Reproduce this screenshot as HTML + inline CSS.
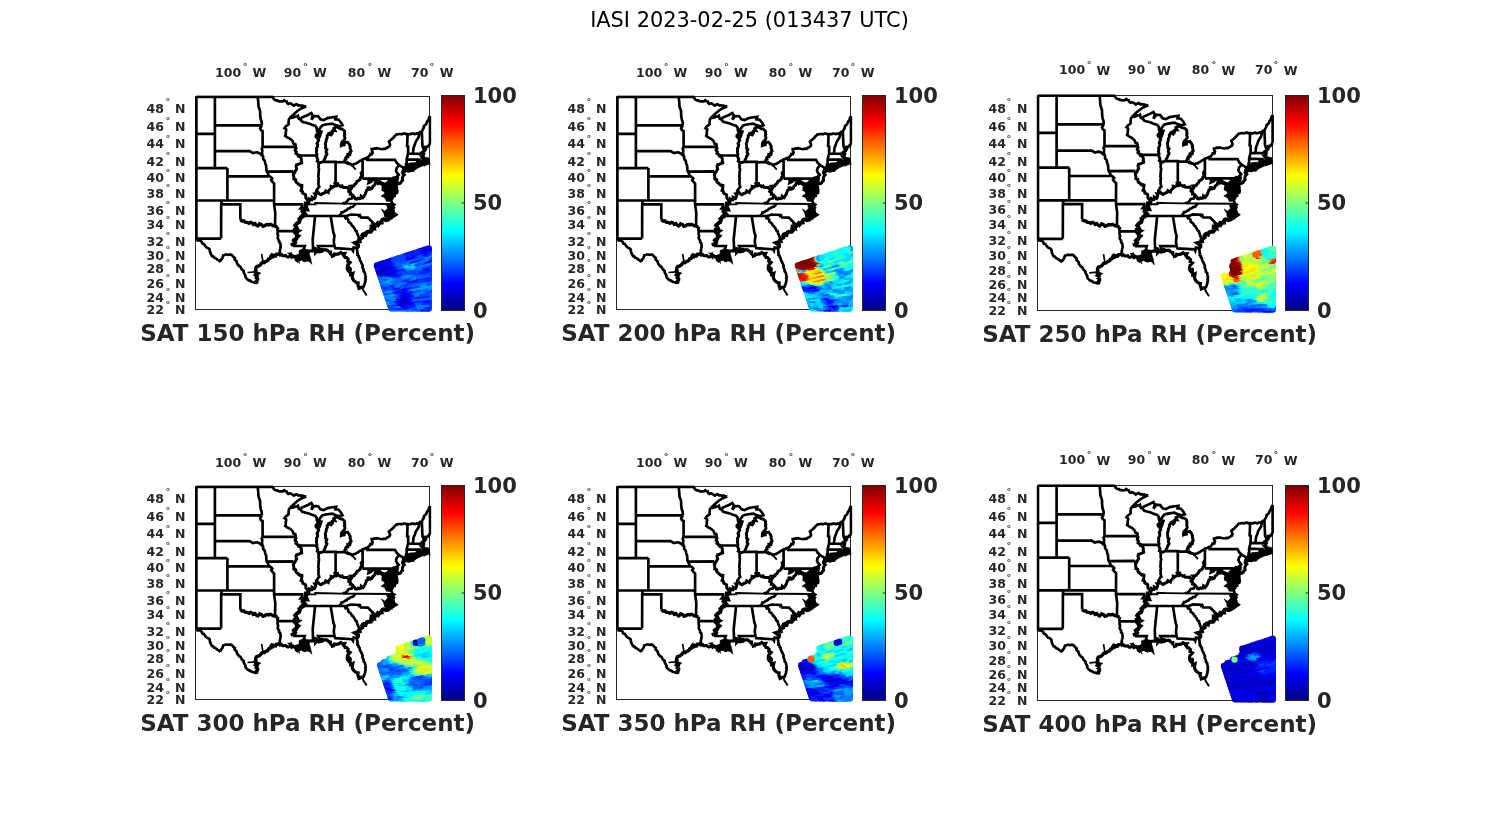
<!DOCTYPE html>
<html lang="en"><head><meta charset="utf-8"><title>IASI 2023-02-25 (013437 UTC)</title>
<style>html,body{margin:0;padding:0;background:#fff}body{width:1500px;height:825px;overflow:hidden}svg{display:block}text{white-space:pre}</style></head><body>
<svg width="1500" height="825" viewBox="0 0 1500 825">
<defs>
<linearGradient id="jet" x1="0" y1="0" x2="0" y2="1"><stop offset="0.0000" stop-color="#800000"/><stop offset="0.0312" stop-color="#9f0000"/><stop offset="0.0625" stop-color="#bf0000"/><stop offset="0.0938" stop-color="#df0000"/><stop offset="0.1250" stop-color="#ff0000"/><stop offset="0.1562" stop-color="#ff2000"/><stop offset="0.1875" stop-color="#ff4000"/><stop offset="0.2188" stop-color="#ff6000"/><stop offset="0.2500" stop-color="#ff8000"/><stop offset="0.2812" stop-color="#ff9f00"/><stop offset="0.3125" stop-color="#ffbf00"/><stop offset="0.3438" stop-color="#ffdf00"/><stop offset="0.3750" stop-color="#ffff00"/><stop offset="0.4062" stop-color="#dfff20"/><stop offset="0.4375" stop-color="#bfff40"/><stop offset="0.4688" stop-color="#9fff60"/><stop offset="0.5000" stop-color="#80ff80"/><stop offset="0.5312" stop-color="#60ff9f"/><stop offset="0.5625" stop-color="#40ffbf"/><stop offset="0.5938" stop-color="#20ffdf"/><stop offset="0.6250" stop-color="#00ffff"/><stop offset="0.6562" stop-color="#00dfff"/><stop offset="0.6875" stop-color="#00bfff"/><stop offset="0.7188" stop-color="#009fff"/><stop offset="0.7500" stop-color="#0080ff"/><stop offset="0.7812" stop-color="#0060ff"/><stop offset="0.8125" stop-color="#0040ff"/><stop offset="0.8438" stop-color="#0020ff"/><stop offset="0.8750" stop-color="#0000ff"/><stop offset="0.9062" stop-color="#0000df"/><stop offset="0.9375" stop-color="#0000bf"/><stop offset="0.9688" stop-color="#00009f"/><stop offset="1.0000" stop-color="#000080"/></linearGradient>
<clipPath id="clipusmapA"><rect x="194.3" y="95.3" width="237.2" height="216.2"/></clipPath>
<g id="usmapA" clip-path="url(#clipusmapA)"><path d="M379.3 180.5 L384.7 183.0 L388.1 181.3 L393.1 177.5 L397.7 175.5 L398.9 177.5 L397.7 184.2 L396.4 190.9 L393.5 197.5 L391.8 200.5 L386.4 201.3 L384.7 197.5 L381.0 196.3 L384.7 193.4 L383.1 189.2 L381.4 185.0Z M386.5 205.0 L391.5 204.3 L393.8 209.3 L395.4 214.7 L392.3 211.6 L390.7 215.5 L387.6 217.8 L384.9 217.4 L383.8 213.2 L381.4 208.9 L384.9 211.2 L387.6 208.1Z M401.2 172.7 L404.5 166.4 L409.1 163.0 L416.9 162.4 L427.4 161.4 L427.8 164.7 L422.2 166.1 L415.6 169.0 L413.0 171.6 L409.1 170.0 L403.8 173.2Z M422.9 157.1 L428.6 157.8 L428.6 164.2 L424.5 165.2 L420.4 162.7Z M299.1 250.5 L302.7 249.0 L308.5 249.7 L309.3 254.1 L310.7 258.5 L311.8 264.3 L307.8 259.9 L304.9 262.1 L302.7 259.2 L299.1 260.6 L299.5 263.5 L297.6 259.2 L294.0 258.5 L290.4 255.5 L287.5 253.0 L290.4 253.0 L294.7 255.5 L299.1 254.1Z" fill="#000" stroke="#000" stroke-width="0.6" stroke-linejoin="round"/><g fill="none" stroke="#000" stroke-linejoin="miter" stroke-miterlimit="3" stroke-linecap="butt"><path d="M255.7 271.8 L247.5 272.5 M263.0 262.0 L261.6 253.8" stroke-width="1.70"/><path d="M346.7 161.4 L351.4 164.7 L355.8 169.6" stroke-width="1.80"/><path d="M355.3 203.7 L391.8 204.0 M355.3 203.7 L342.7 203.6 L325.0 203.3 L315.2 203.0 L315.3 204.4 L306.2 204.4" stroke-width="1.90"/><path d="M362.2 286.5 L363.3 290.4 L366.7 295.5" stroke-width="2.00"/><path d="M387.8 213.3 L384.7 211.8 M387.2 216.0 L384.3 215.3 M378.7 224.4 L378.7 221.8 M370.9 229.7 L369.9 227.8 M366.5 233.1 L365.5 231.3 M362.4 236.4 L360.5 234.6 M357.7 243.8 L356.1 242.9 M358.9 240.5 L357.7 239.0 M313.1 250.3 L314.0 249.3 L315.1 248.6 L316.7 249.4 L318.2 249.6 L319.5 250.0 L320.6 249.2 L321.8 248.7 L323.4 249.5 L325.0 249.9 L326.4 249.5 L327.6 250.0 L328.5 251.4 L330.1 251.9" stroke-width="2.20"/><path d="M196.4 96.9 L270.8 96.9 L273.3 96.9 M196.4 96.9 L196.4 240.3 M214.9 96.9 L214.9 168.1 M196.4 133.8 L214.9 133.8 M214.9 125.3 L261.9 125.3 M214.9 151.2 L249.7 151.2 L251.0 151.9 L252.9 153.1 L255.4 152.5 L257.3 152.4 L259.1 153.2 L260.7 154.2 L261.7 155.3 L262.6 155.6 M196.4 168.1 L227.4 168.1 M227.4 168.1 L227.4 200.5 M227.4 176.4 L269.8 176.4 M196.4 200.5 L274.1 200.5 M221.5 200.5 L221.5 204.4 L221.2 204.4 L221.1 238.6 M221.1 238.6 L198.8 238.6 L198.8 239.4 L199.3 240.3 L196.4 240.3 M221.5 204.4 L240.3 204.4 L240.3 219.4 M274.1 200.5 L274.1 204.4 L275.3 213.0 L275.0 226.4 M277.7 227.1 L278.0 228.2 L277.4 229.4 L277.5 230.5 L277.8 231.7 L277.6 232.9 L277.5 234.0 L278.1 235.2 L278.0 236.3 L277.7 237.5 L277.9 238.6 L278.5 239.7 L279.2 240.7 L279.1 242.2 L280.3 243.2 L280.4 244.6 L280.7 246.0 L280.5 247.6 L280.2 249.0 L279.8 250.4 L279.9 251.9 L279.4 253.2 L278.4 254.3 L278.9 255.5 M277.7 231.0 L295.7 231.2 M274.1 200.5 L274.1 183.6 L272.3 181.7 L271.1 180.1 L272.3 178.5 L271.4 177.4 L269.8 176.4 M274.1 204.4 L302.1 204.4 L302.4 206.0 L300.7 208.3 L305.0 208.3 M262.6 155.6 L263.2 156.8 L263.0 158.1 L263.4 159.3 L264.4 160.2 L264.9 161.4 L265.1 162.7 L265.4 163.9 L266.1 165.6 L266.2 166.9 L266.3 168.2 L266.4 170.3 L266.9 171.7 L267.6 172.8 L268.2 173.9 L268.5 175.5 L269.8 176.4 M266.9 171.6 L292.2 171.4 L293.7 173.1 L294.2 173.3 M262.6 146.9 L295.4 146.9 M261.9 125.3 L260.1 128.4 L261.0 130.2 L262.6 131.1 L262.6 146.9 L261.7 148.7 L262.3 150.4 L262.0 152.5 L262.3 154.7 L262.6 155.6 M257.7 96.9 L258.2 101.7 L258.5 106.4 L260.1 111.0 L260.2 115.7 L260.7 119.3 L261.7 122.1 L261.9 125.3 M273.3 96.9 L273.3 98.1 L274.0 99.3 L275.9 100.4 L277.1 100.3 L278.1 101.0 L279.3 101.4 L281.1 101.4 L282.8 101.4 L284.2 100.2 L285.4 101.2 L286.8 101.5 L287.2 102.9 L288.3 103.9 L289.2 103.5 L290.5 103.4 L291.6 104.2 L292.8 104.8 L293.8 105.6 L295.1 104.8 L296.7 104.2 L298.3 105.5 L299.8 105.3 L301.2 105.7 L302.5 105.7 L303.8 106.1 L305.0 106.3 L306.2 106.4 M306.2 106.4 L301.2 108.5 L297.4 111.0 L294.9 113.2 L292.4 115.5 L289.9 118.0 M289.9 118.0 L288.9 119.2 L288.8 120.2 L288.6 121.5 L288.5 122.8 L288.7 124.1 L287.6 125.2 L285.9 126.3 L285.2 127.2 L284.5 128.2 L286.0 129.1 L286.2 130.4 L285.8 131.5 L285.8 132.9 L285.8 134.4 L285.2 135.9 L287.1 137.3 L288.7 138.1 L290.1 138.8 L291.2 139.8 L292.4 140.8 L293.0 142.2 L293.6 143.7 L295.2 143.9 L295.6 145.4 L295.4 146.9 M292.8 246.0 L304.8 246.0 L304.0 248.4 L305.3 251.1 L306.1 252.0 M299.1 155.5 L316.9 155.5 M315.3 194.2 L315.7 193.0 L316.2 191.9 L316.2 190.6 L317.1 189.7 L317.7 188.7 L318.3 187.7 L319.3 186.9 L318.7 185.1 L318.4 183.7 L318.6 181.7 L318.3 180.5 L318.7 179.4 L318.7 178.2 L318.3 177.0 L318.3 175.9 L318.6 174.7 L318.5 173.5 L318.7 172.3 L318.6 171.2 L319.0 170.0 L318.9 168.8 L318.4 167.6 L318.6 166.5 L318.8 165.3 L318.4 164.1 L318.7 163.0 L318.6 161.8 M335.6 183.7 L335.6 162.3 M323.0 161.8 L335.6 161.8 L335.6 162.3 L344.2 162.0 M362.6 178.7 L362.6 159.9 M362.6 178.7 L392.3 178.7 M301.2 216.0 L346.3 216.0 M313.1 250.6 L312.7 239.4 L315.0 216.9 L314.4 216.0 M330.7 216.2 L333.3 232.2 L334.5 235.7 L334.1 238.6 L333.8 241.6 L334.1 243.8 L334.5 246.0 M334.5 246.0 L318.1 246.0 L319.4 248.6 L318.8 251.1 M334.5 246.0 L335.3 248.2 L352.0 249.2 L353.0 250.7 L353.3 248.9 L353.6 247.5 L356.7 248.1 M360.3 238.4 L359.1 237.6 L358.3 236.7 L358.0 235.3 L357.3 234.0 L356.9 232.6 L356.6 231.2 L355.4 230.5 L354.9 229.4 L354.4 228.3 L353.7 227.4 L353.0 226.3 L351.9 225.6 L351.4 224.4 L350.7 223.4 L349.7 222.6 L348.4 221.6 L348.2 219.6 L346.7 218.1 L344.8 218.6 L345.8 217.4 L346.3 216.0 M346.3 216.0 L350.8 214.5 L359.2 214.9 L359.2 215.7 L360.0 215.3 L360.9 217.4 L367.9 217.6 L374.9 224.7 M338.7 216.0 L340.0 215.2 L340.9 214.1 L341.6 212.3 L342.7 212.3 L343.9 211.6 L345.1 210.8 L346.5 210.3 L347.8 208.8 L349.5 208.4 L350.6 207.3 L352.9 206.9 L353.7 205.8 L354.8 204.6 L355.3 203.7 M342.7 203.6 L343.9 203.0 L345.3 203.3 L346.3 202.3 L347.3 201.0 L348.3 199.5 L349.9 198.8 L351.7 198.5 L352.2 197.0 L353.5 196.2 M289.9 118.0 L291.1 118.0 L292.2 117.7 L293.3 117.5 L294.4 117.0 L295.5 116.5 L296.8 116.5 L297.9 115.7 L298.4 117.5 L298.8 118.8 L300.4 119.6 M300.4 119.6 L302.3 121.7 L308.7 123.4 L311.9 124.8 L315.0 125.7 L316.6 127.5 L316.9 130.6 L318.1 132.9 M300.4 119.6 L301.8 117.5 L307.9 115.0 L311.4 113.0 L312.7 115.4 L311.4 119.7 L314.3 115.8 L318.1 116.2 L320.5 119.3 L323.6 120.1 L327.6 118.1 L332.3 117.3 L336.2 116.8 L335.4 119.3 L338.6 119.7 L341.3 122.9 L342.5 125.2 L339.4 126.2 L336.2 125.4 L332.3 123.6 L329.1 124.0 L324.4 124.8 L322.0 125.6 L320.5 127.6 L318.9 129.9 L318.5 133.1 L318.1 132.9 M344.2 162.0 L345.6 162.4 L346.9 163.4 L348.9 164.0 L350.5 163.8 L351.9 165.2 L353.6 164.2 L355.2 163.9 L356.1 163.3 L357.2 162.7 L358.2 162.2 L359.1 161.4 L360.2 160.8 L361.4 160.4 L362.3 159.4 L363.8 159.1 L365.2 158.5 L366.2 157.8 L367.5 157.8 L368.3 156.9 L369.1 156.0 L369.9 155.2 L370.4 153.9 L372.0 154.1 L372.7 152.2 L371.9 150.8 L371.7 149.1 L373.1 149.0 L374.4 148.4 L375.8 148.6 L377.1 148.2 L378.5 148.5 L379.6 148.7 L380.9 149.0 L382.4 149.2 L383.8 148.6 L385.3 148.8 L386.6 148.0 L387.9 147.3 L389.6 146.2 L390.1 145.0 L389.7 143.4 L388.9 141.6 L389.6 140.9 L390.5 140.2 L391.5 139.6 L392.2 138.7 L393.4 137.7 L394.4 136.5 L395.5 135.4 L396.3 134.5 L397.7 134.4 L398.9 134.0 L400.0 134.0 L401.2 134.1 L402.4 134.1 L403.6 133.5 L404.8 133.5 L406.0 134.1 L407.2 134.1 L408.4 134.0 L409.6 134.2 L410.8 134.1 L412.0 133.6 L413.2 133.6 L414.4 134.2 L415.6 133.9 L416.8 133.4 L418.0 133.7 L419.2 134.0 L419.3 132.6 L420.4 131.7 L421.9 131.5 L422.6 129.8 L423.3 128.5 L423.9 127.4 L423.9 126.2 L424.9 125.3 L425.9 124.5 L426.6 123.1 L427.0 121.7 L428.3 120.3 L428.8 118.5 L429.3 117.3 L430.0 116.1 M430.0 116.1 L430.0 143.9 M367.3 157.5 L367.3 159.8 L395.0 159.8 L396.9 163.1 L399.1 165.1 L396.6 168.1 L396.0 170.6 L396.9 172.7 L398.8 174.8 L396.6 176.8 L394.7 178.1 L393.8 179.7 M392.3 178.7 L393.4 177.7 L394.7 178.1 M392.3 178.7 L392.8 188.9 L396.9 189.0 M399.1 165.1 L404.1 168.1 M407.6 133.8 L407.3 142.6 L407.1 146.1 L408.2 146.5 L408.1 153.5 L406.6 159.3 L406.7 165.6 L405.2 167.3 L405.7 168.1 M419.2 133.8 L418.6 137.3 L415.7 141.7 L414.8 144.8 L413.5 147.8 L413.2 151.2 L412.6 153.6 M408.1 153.5 L420.4 153.8 L420.7 153.5 L422.3 152.4 L423.4 152.4 M406.6 159.3 L417.3 159.6 L419.9 159.6 L420.2 160.6 L421.1 162.5 L421.5 164.0 M417.3 159.6 L416.9 165.5 M421.8 131.1 L422.3 142.6 L422.5 146.3 L424.2 150.6 M397.8 185.1 L398.1 183.7 L396.7 183.0 L395.8 182.4 L394.4 182.4 L393.5 181.7 L394.0 179.6 L394.0 181.0 L395.5 181.8 L395.2 183.7 L395.4 185.3 L396.4 186.6 L396.9 187.6 L396.9 189.0 L397.2 190.3 L397.3 191.6 L397.0 192.8 L395.4 193.6 L394.7 194.6 L394.7 196.0 L393.0 196.3 L392.8 197.6 L391.4 198.2 L391.9 200.0 L391.8 197.9 L392.4 197.3 L391.3 195.7 L390.3 193.6 L393.6 193.8 L391.8 193.1 L391.3 191.0 L390.0 191.0 L389.8 189.5 L389.7 187.9 L388.4 187.1 L390.7 186.4 L388.7 184.8 L389.3 183.5 L388.8 182.1 L389.5 180.2 L388.8 181.3 L387.7 182.4 L387.8 184.1 L387.6 185.3 L387.5 186.6 L388.4 187.7 L387.7 189.1 L387.8 190.3 L388.7 191.8 L390.0 193.2 L389.4 193.9 L388.1 194.6 L390.1 196.3 L387.0 198.1 L389.9 199.5 L387.8 200.4 L391.2 200.1 L391.9 202.4 L391.8 204.0 M356.7 248.1 L356.9 249.6 L357.4 251.1 L357.2 252.4 L357.8 253.5 L357.4 254.9 L358.6 255.8 L358.6 257.0 L359.6 257.9 L359.7 259.1 L360.0 260.2 L360.6 261.3 L361.2 262.3 L361.6 263.5 L362.2 264.6 L362.7 265.8 L362.3 267.0 L362.7 268.0 L363.3 269.0 L363.6 270.1 L363.6 271.4 L364.7 272.5 L365.1 274.0 L365.4 275.5 L365.8 276.9 L365.2 278.2 L365.7 279.7 L365.1 281.1 L365.2 282.2 L364.8 283.4 L364.4 284.4 L364.0 285.5 L363.6 286.7 L362.7 287.4 M258.2 282.1 L257.1 282.5 L256.0 282.8 L254.8 282.7 L253.8 282.2 L252.6 282.0 L251.5 281.7 L250.4 280.7 L249.0 280.4 L247.8 279.7 L246.7 278.7 L246.1 277.9 L245.4 276.9 L245.5 275.6 L244.9 274.6 L244.3 273.5 L243.7 272.4 L243.7 271.1 L242.7 270.1 L241.7 269.3 L241.1 268.0 L240.5 266.8 L239.3 266.3 L238.6 265.4 L237.5 264.2 L236.9 262.8 L236.6 261.5 L235.7 260.5 L234.6 259.5 L234.8 257.9 L233.5 257.1 L232.6 255.9 L231.6 254.9 L230.2 254.4 L228.7 254.9 L227.3 254.5 L225.8 254.5 L224.7 255.0 L223.3 255.3 L222.8 256.7 L222.4 258.0 L221.3 259.3 L220.5 260.7 L219.5 261.2 L218.4 260.1 L217.3 259.7 L216.4 258.7 L215.4 258.1 L214.1 257.6 L213.3 256.4 L212.0 256.0 L211.2 254.7 L210.6 253.4 L210.1 252.1 L209.8 250.7 L209.7 249.3 L208.6 248.4 L207.4 247.9 L206.3 247.3 L205.4 246.2 L204.5 245.1 L203.8 243.9 L202.2 243.5 L201.8 242.0 L200.8 241.1 L199.5 240.5 L199.3 240.3 M403.4 171.2 L403.8 169.9 L405.1 169.4 L406.3 168.7 L407.9 169.5 L409.1 168.5 L410.6 167.6 L412.3 168.7 L413.6 167.9 L414.1 166.3 L413.4 168.0 L415.3 168.4 L416.8 166.8 L415.4 167.8 L413.7 167.5 L413.3 170.4 L411.9 170.6 L410.4 170.4 L409.4 171.4 L407.9 171.2 L406.4 170.5 L405.1 170.7 L403.8 172.0 L403.4 171.2 M270.0 257.0 L271.7 254.5 L274.0 255.0 L272.7 257.3 L270.0 257.0" stroke-width="2.67"/><path d="M318.1 132.9 L316.8 134.5 L316.0 135.3 L316.1 136.6 L315.2 137.6 L317.2 136.4 L318.0 134.8 L319.1 133.5 L320.6 133.2 L321.2 132.0 L321.5 130.3 L321.2 131.9 L320.6 132.8 L320.4 134.2 L320.0 135.3 L319.7 136.5 L319.0 137.7 L317.9 138.9 L318.7 140.2 L318.0 141.3 L317.7 142.4 L317.0 143.5 L317.7 144.8 L317.5 146.0 L317.3 147.2 L316.4 148.3 L316.5 149.6 L316.7 150.9 L316.3 152.0 L316.6 153.2 L317.0 154.3 L316.7 155.5 L316.7 157.0 L317.4 158.3 L317.8 159.6 L317.2 161.2 L318.7 162.1 L320.7 162.7 L321.7 162.1 L323.0 161.8 M323.0 161.8 L324.0 161.0 L324.1 159.7 L324.8 158.8 L325.3 157.6 L325.6 156.2 L326.6 155.1 L327.0 153.8 L326.1 152.5 L326.1 151.0 L326.9 149.4 L325.5 148.2 L325.7 146.6 L325.5 145.1 L325.3 143.9 L325.6 142.6 L326.2 141.2 L326.2 139.6 L326.9 138.3 L327.3 137.1 L327.1 135.7 L328.1 134.8 L328.6 133.5 L330.0 133.0 L331.0 132.0 L330.7 133.2 L330.5 134.5 L330.4 135.7 L331.4 134.6 L332.2 133.5 L332.6 132.3 L332.4 131.0 L333.6 130.4 L334.9 130.6 L333.7 128.4 L334.9 127.6 L336.3 127.1 L337.2 127.1 L338.3 127.8 L339.5 128.2 L340.6 128.9 L342.1 129.0 L343.1 129.8 L344.2 130.6 L344.7 131.9 L344.4 133.3 L344.9 134.4 L344.3 135.8 L344.7 136.7 L345.0 137.9 L344.7 139.1 L343.8 140.4 L342.7 141.2 L341.9 142.2 L341.4 143.5 L341.3 145.6 L342.7 145.1 L344.2 144.9 L344.5 142.7 L346.2 142.3 L347.5 142.1 L348.3 143.1 L349.2 144.2 L349.6 145.2 L350.3 146.4 L350.0 147.8 L350.4 148.9 L350.7 150.1 L351.1 151.2 L349.8 152.3 L350.3 153.5 L349.9 154.6 L347.8 154.4 L347.9 156.8 L346.6 156.7 L345.6 158.0 L346.0 159.3 L344.9 159.9 L344.6 161.1 L344.2 162.0" stroke-width="2.90"/><path d="M295.4 146.9 L296.0 148.1 L295.4 149.2 L295.1 150.4 L296.4 151.8 L295.9 153.4 L297.4 154.3 L298.2 155.8 L299.0 155.6 L299.5 156.8 L300.7 157.5 L301.4 159.1 L301.2 161.1 L301.6 161.6 L301.7 162.9 L299.2 163.9 L297.9 164.5 L296.5 164.8 L296.0 166.4 L296.4 167.8 L296.7 169.1 L295.7 170.4 L295.1 171.9 L294.2 173.3 L293.3 174.8 L293.8 176.4 L293.8 177.7 L293.8 179.0 L295.7 179.8 L295.8 181.6 L296.6 182.7 L297.9 183.5 L298.7 184.5 L299.8 185.3 L300.6 185.0 L301.9 185.4 L301.8 187.5 L301.6 189.1 L301.0 190.6 L302.4 191.4 L302.8 193.3 L304.2 194.0 L305.5 194.7 L305.8 196.5 L305.9 198.2 L307.5 199.9 L308.5 200.7 M308.5 200.7 L309.2 198.9 L310.4 199.8 L311.9 199.8 L312.3 199.0 L312.2 198.5 L312.2 197.3 L314.5 198.5 L315.2 197.1 L315.7 195.4 L314.9 194.1 L315.9 194.1 L317.0 193.2 L318.2 192.4 L319.6 194.1 L321.1 194.7 L322.4 193.6 L323.6 193.3 L325.2 192.4 L325.7 191.0 L328.3 192.4 L328.6 191.2 L329.3 190.1 L330.2 189.1 L331.3 188.1 L331.2 186.5 L333.2 187.0 L334.2 186.1 L335.8 185.9 L335.0 183.7 L337.6 183.5 L338.1 185.3 L339.9 185.8 L340.6 186.7 L342.2 186.0 L343.0 187.4 L345.1 187.6 L347.4 187.4 L347.6 188.1 L349.5 189.2 M349.5 189.2 L350.3 190.0 L351.8 187.6 L350.7 186.2 L354.0 185.8 L354.7 184.4 L355.8 183.7 L356.5 182.6 L356.9 181.3 L358.1 180.8 L359.3 180.0 L360.4 178.8 L360.6 177.3 L361.8 176.0 L361.5 174.5 L361.1 173.0 L362.6 171.1 M353.5 196.2 L352.7 195.1 L351.7 194.5 L350.3 194.3 L350.5 192.7 L348.7 191.5 L349.5 189.2 M353.5 196.2 L354.6 197.4 L355.3 198.9 L356.8 199.2 L358.1 198.2 L359.5 198.6 L360.7 198.3 L361.2 196.1 L363.0 197.6 L363.9 196.5 L364.7 195.1 L365.3 194.1 L365.6 192.9 L366.1 191.8 L366.5 190.4 L368.0 189.6 L368.0 188.0 L369.5 187.9 L370.5 189.1 L371.8 188.6 L372.5 187.6 L372.8 186.3 L374.0 185.5 L374.9 184.6 L375.2 183.0 L376.8 182.0 L377.6 181.8 L378.1 183.5 L379.7 183.0 L380.1 182.0 M380.1 182.0 L378.6 181.2 L379.3 179.7 L377.0 179.3 L375.8 180.5 L373.8 179.2 L372.0 180.7 L371.1 181.6 L370.0 182.1 L368.8 182.6 L369.1 181.5 L368.6 180.1 L369.1 178.7 M430.0 143.9 L428.9 145.3 L427.6 146.7 L425.6 147.0 L425.8 149.1 L424.6 150.8 L422.7 152.0 L423.5 153.4 L424.5 154.8 L422.8 153.9 L423.4 156.4 L421.6 156.5 L423.7 159.2 L424.6 159.8 L426.1 161.3 L427.0 160.8 L428.6 162.1 L428.4 160.3 L426.7 159.4 L428.2 160.4 L428.5 161.6 L428.2 162.5 L427.3 162.6 L425.5 161.7 L424.4 163.6 L423.8 162.1 L422.8 163.4 L421.5 164.0 M421.5 164.0 L419.9 163.8 L421.3 161.0 L419.1 162.6 L420.3 164.1 L419.1 165.0 L416.8 164.7 L415.5 166.2 L414.0 166.9 L412.7 165.3 L411.5 166.0 L410.4 166.4 L409.6 167.6 L408.2 167.9 L406.2 165.9 L406.0 169.1 L404.2 169.5 L403.8 168.1 L403.7 169.4 L404.2 170.9 L403.1 171.0 L402.6 173.0 L403.3 173.9 L404.3 174.8 L403.1 176.0 L402.6 177.1 L402.3 178.4 L402.6 180.3 L401.2 181.5 L400.8 182.8 L399.8 183.5 L397.8 183.5 L397.8 185.1 M331.9 254.4 L330.6 253.9 L330.6 252.0 L329.0 252.0 L328.1 251.2 L327.1 250.4 L325.1 249.9 L323.5 250.2 L322.2 251.3 L320.7 251.5 L318.9 251.9 L317.1 251.1 L315.7 252.5 L315.9 250.3 L315.8 248.6 L315.3 248.4 L314.4 250.7 L313.1 250.9 L311.5 250.8 L309.9 251.0 L308.9 251.3 L307.5 251.4 L306.1 252.0 M306.1 252.0 L305.5 251.9 L304.2 252.6 L306.5 253.2 L308.1 252.3 L307.0 254.8 L305.7 256.3 L306.4 257.2 L307.8 257.6 L308.4 258.8 L309.0 259.9 L308.1 260.2 L305.8 259.3 L305.8 259.9 L304.1 260.3 L303.0 259.3 L301.7 258.9 L300.5 259.5 L298.9 259.2 L297.5 260.9 L296.2 259.8 L296.3 257.7 L295.6 256.7 L293.3 256.3 L291.8 257.2 L290.9 254.8 L290.3 255.7 L289.2 256.5 L288.0 257.1 L286.7 256.6 L285.7 255.4 L284.1 255.8 L282.7 255.7 L281.5 254.4 L280.2 255.0 L278.9 255.5" stroke-width="3.00"/><path d="M380.1 182.0 L381.0 183.7 L383.6 184.0 L384.5 186.1 L383.9 187.3 L383.1 188.2 L383.1 189.6 L384.6 190.2 L386.0 190.8 L387.3 191.6 L387.8 192.9 L389.1 193.4 M362.7 287.4 L361.4 287.2 L360.2 288.0 L359.0 288.4 L358.6 286.6 L357.9 285.4 L358.1 282.8 L356.3 282.5 L355.3 281.8 L354.2 280.9 L353.3 279.8 L352.6 278.6 L352.2 276.4 L352.4 275.3 L352.8 273.4 L350.5 274.4 L350.3 272.9 L349.4 272.0 L348.6 271.1 L350.2 270.4 L350.3 268.9 L349.5 268.1 L349.6 269.4 L348.7 270.2 L347.2 268.6 L347.4 266.1 L347.9 264.7 L349.1 263.7 L350.1 262.5 L347.8 261.2 L348.2 259.3 L347.3 258.4 L346.5 257.5 L345.0 257.4 L344.5 256.2 L343.6 255.4 L344.6 253.4 L342.3 253.5 L340.8 252.5 L339.7 253.3 L338.6 253.9 L337.3 254.1 L335.9 254.3 L334.3 254.0 L333.7 255.7 L332.3 256.2 L331.9 254.4" stroke-width="3.20"/><path d="M240.3 219.4 L242.0 221.0 L244.1 221.0 L245.1 222.2 L246.9 222.3 L249.0 223.3 L250.7 222.4 L252.2 223.0 L253.2 224.4 L255.0 223.5 L256.2 225.0 L257.7 226.0 L258.9 225.1 L259.6 223.8 L261.7 224.7 L263.0 226.3 L264.8 225.7 L266.1 224.8 L267.3 224.4 L268.6 224.9 L270.5 224.2 L271.7 224.8 L272.9 225.7 L275.0 226.2 L276.7 226.9 L277.7 227.1" stroke-width="3.30"/><path d="M278.9 255.5 L278.4 254.3 L276.5 254.3 L275.5 256.0 L274.2 255.9 L273.0 256.4 L271.7 256.3 L270.8 257.0 L270.1 258.4 L268.6 258.8 L268.1 260.1 L267.0 260.9 L265.6 261.4 L264.1 262.6 L262.8 262.4 L261.7 263.1 L260.7 264.5 L259.5 265.5 L258.5 266.2 L256.9 266.4 L256.1 267.4 L255.6 268.9 L256.0 270.2 L255.3 271.2 L255.5 272.6 L257.9 273.5 L255.7 275.1 L257.1 276.0 L256.3 277.6 L257.6 278.4 L257.6 279.6 L256.7 280.7 L258.0 282.0 L258.2 282.1" stroke-width="3.40"/><path d="M391.8 204.0 L393.5 204.9 L391.7 207.2 L393.1 208.0 L392.3 209.6 L392.7 210.7 L393.1 211.7 L392.8 213.2 L395.2 214.8 L392.9 216.2 L391.2 216.1 L391.0 217.3 L388.5 216.6 L389.2 218.9 L388.2 219.7 L385.9 220.2 L384.5 219.6 L383.5 219.3 L382.3 219.8 L381.5 221.0 L381.7 222.6 L379.9 222.8 L379.2 223.7 L378.5 224.7 L377.5 223.4 L376.2 225.3 L374.9 224.7 M374.9 224.7 L373.3 224.7 L374.0 228.1 L371.5 227.1 L371.5 228.6 L372.0 230.3 L370.8 231.7 L368.5 231.6 L367.2 232.0 L366.2 233.1 L365.7 234.6 L363.8 233.8 L362.8 234.4 L362.4 237.5 L360.4 238.5 L359.3 239.5 L359.8 241.4 L357.6 242.1 L355.0 242.9 L358.1 245.1 L358.1 246.5 L356.7 248.1" stroke-width="3.80"/><path d="M308.5 200.7 L308.4 202.2 L307.8 203.6 L305.9 203.6 L305.8 206.4 L307.0 209.3 L303.9 209.2 L303.0 210.3 L302.5 211.4 L304.9 213.9 L302.8 215.0 L302.7 216.5 L301.0 217.1 L300.6 218.2 L299.4 218.9 L299.7 220.4 L299.1 222.1 L297.5 223.0 L296.3 224.2 L295.2 225.5 L296.3 227.2 L297.0 228.6 L293.4 229.8 L298.0 231.1 L295.5 232.8 L296.7 234.1 L296.8 235.3 L298.2 236.0 L296.7 237.6 L296.2 238.9 L294.9 239.5 L293.9 240.4 L295.2 242.4 L294.7 243.6 L292.6 244.4 L293.0 246.0" stroke-width="4.00"/></g></g>
<clipPath id="clipusmapB"><rect x="193.8" y="94.3" width="238.2" height="218.2"/></clipPath>
<g id="usmapB" clip-path="url(#clipusmapB)"><path d="M379.6 180.3 L385.1 182.8 L388.4 181.1 L393.4 177.3 L398.0 175.2 L399.3 177.3 L398.0 184.0 L396.8 190.8 L393.8 197.5 L392.2 200.4 L386.7 201.3 L385.1 197.5 L381.3 196.2 L385.1 193.3 L383.4 189.1 L381.7 184.9Z M386.8 205.0 L391.9 204.3 L394.2 209.4 L395.8 214.8 L392.6 211.7 L391.1 215.6 L388.0 218.0 L385.2 217.6 L384.1 213.3 L381.7 209.0 L385.2 211.3 L388.0 208.2Z M401.6 172.4 L404.9 166.0 L409.5 162.6 L417.4 162.1 L427.9 161.0 L428.3 164.3 L422.6 165.8 L416.1 168.7 L413.4 171.3 L409.5 169.7 L404.2 172.9Z M423.3 156.7 L429.1 157.4 L429.1 163.8 L425.0 164.8 L420.8 162.4Z M299.0 250.9 L302.7 249.4 L308.5 250.2 L309.3 254.6 L310.7 259.0 L311.8 264.8 L307.8 260.4 L304.9 262.6 L302.7 259.7 L299.0 261.2 L299.4 264.1 L297.6 259.7 L293.9 259.0 L290.3 256.0 L287.3 253.5 L290.3 253.5 L294.7 256.0 L299.0 254.6Z" fill="#000" stroke="#000" stroke-width="0.6" stroke-linejoin="round"/><g fill="none" stroke="#000" stroke-linejoin="miter" stroke-miterlimit="3" stroke-linecap="butt"><path d="M255.0 272.2 L246.8 272.9 M262.4 262.4 L261.0 254.1" stroke-width="1.70"/><path d="M346.4 160.8 L351.1 164.1 L355.5 169.1" stroke-width="1.80"/><path d="M355.1 203.5 L391.7 203.8 M355.1 203.5 L342.5 203.4 L324.7 203.1 L314.8 202.8 L314.9 204.2 L305.8 204.2" stroke-width="1.90"/><path d="M362.0 287.0 L363.2 291.0 L366.5 296.2" stroke-width="2.00"/><path d="M387.7 213.2 L384.6 211.7 M387.1 216.0 L384.3 215.2 M378.6 224.4 L378.6 221.7 M370.7 229.7 L369.8 227.9 M366.3 233.2 L365.3 231.4 M362.2 236.5 L360.3 234.7 M357.5 244.0 L355.9 243.1 M358.7 240.6 L357.5 239.2 M312.7 250.5 L313.6 249.5 L314.7 248.8 L316.3 249.6 L317.8 249.8 L319.1 250.2 L320.3 249.5 L321.5 249.0 L323.1 249.7 L324.6 250.2 L326.0 249.7 L327.2 250.2 L328.1 251.7 L329.7 252.1" stroke-width="2.20"/><path d="M195.5 95.7 L270.2 95.7 L272.7 95.7 M195.5 95.7 L195.5 240.4 M214.1 95.7 L214.1 167.6 M195.5 132.9 L214.1 132.9 M214.1 124.4 L261.3 124.4 M214.1 150.6 L249.1 150.6 L250.3 151.2 L252.2 152.5 L254.7 151.9 L256.6 151.7 L258.5 152.5 L260.1 153.6 L261.0 154.7 L262.0 155.0 M195.5 167.6 L226.7 167.6 M226.7 167.6 L226.7 200.3 M226.7 176.0 L269.2 176.0 M195.5 200.3 L273.5 200.3 M220.7 200.3 L220.7 204.2 L220.4 204.2 L220.3 238.8 M220.3 238.8 L197.9 238.8 L197.9 239.5 L198.4 240.4 L195.5 240.4 M220.7 204.2 L239.6 204.2 L239.6 219.4 M273.5 200.3 L273.5 204.2 L274.7 212.9 L274.4 226.4 M277.2 227.1 L277.5 228.3 L276.8 229.4 L277.0 230.6 L277.2 231.8 L277.0 232.9 L277.0 234.1 L277.6 235.3 L277.5 236.4 L277.2 237.6 L277.3 238.8 L278.0 239.8 L278.7 240.8 L278.6 242.4 L279.7 243.4 L279.9 244.8 L280.2 246.2 L280.0 247.8 L279.6 249.3 L279.2 250.6 L279.4 252.1 L278.8 253.5 L277.8 254.6 L278.4 255.8 M277.2 231.1 L295.3 231.3 M273.5 200.3 L273.6 183.2 L271.7 181.3 L270.5 179.7 L271.7 178.0 L270.8 177.0 L269.2 176.0 M273.5 204.2 L301.7 204.2 L302.0 205.8 L300.2 208.2 L304.5 208.2 M262.0 155.0 L262.6 156.1 L262.4 157.5 L262.8 158.7 L263.8 159.6 L264.3 160.8 L264.5 162.1 L264.8 163.4 L265.5 165.1 L265.6 166.4 L265.7 167.6 L265.8 169.8 L266.3 171.2 L267.0 172.3 L267.7 173.5 L267.9 175.0 L269.2 176.0 M266.3 171.1 L291.7 170.9 L293.2 172.6 L293.7 172.8 M262.0 146.2 L294.9 146.2 M261.3 124.4 L259.5 127.5 L260.4 129.3 L262.0 130.2 L262.0 146.2 L261.0 147.9 L261.7 149.7 L261.3 151.9 L261.7 154.0 L262.0 155.0 M257.1 95.7 L257.6 100.5 L257.9 105.3 L259.5 110.0 L259.6 114.7 L260.1 118.4 L261.0 121.1 L261.3 124.4 M272.7 95.7 L272.8 97.0 L273.4 98.1 L275.4 99.2 L276.6 99.2 L277.5 99.9 L278.7 100.2 L280.6 100.3 L282.3 100.2 L283.7 99.0 L284.9 100.0 L286.3 100.4 L286.7 101.8 L287.8 102.7 L288.7 102.3 L290.0 102.3 L291.1 103.1 L292.3 103.6 L293.3 104.5 L294.6 103.7 L296.2 103.1 L297.9 104.4 L299.3 104.2 L300.7 104.6 L302.1 104.6 L303.4 105.0 L304.5 105.2 L305.8 105.3 M305.8 105.3 L300.7 107.4 L297.0 110.0 L294.4 112.1 L291.9 114.5 L289.4 117.0 M289.4 117.0 L288.4 118.2 L288.3 119.2 L288.1 120.5 L288.0 121.8 L288.2 123.1 L287.1 124.3 L285.4 125.4 L284.7 126.3 L284.0 127.3 L285.5 128.2 L285.7 129.5 L285.3 130.6 L285.3 132.0 L285.2 133.6 L284.6 135.1 L286.6 136.4 L288.2 137.3 L289.6 138.0 L290.7 139.0 L291.9 140.0 L292.5 141.4 L293.1 142.9 L294.7 143.2 L295.1 144.6 L294.9 146.2 M292.4 246.2 L304.3 246.2 L303.6 248.7 L304.8 251.4 L305.7 252.3 M298.6 154.9 L316.5 154.9 M314.9 193.9 L315.4 192.7 L315.8 191.6 L315.9 190.3 L316.8 189.4 L317.3 188.3 L317.9 187.3 L318.9 186.6 L318.3 184.7 L318.0 183.3 L318.2 181.3 L317.9 180.1 L318.4 179.0 L318.3 177.8 L317.9 176.6 L318.0 175.4 L318.2 174.2 L318.1 173.0 L318.3 171.9 L318.3 170.7 L318.7 169.5 L318.5 168.3 L318.1 167.1 L318.2 165.9 L318.4 164.7 L318.0 163.6 L318.3 162.4 L318.2 161.2 M335.3 183.4 L335.3 161.7 M322.7 161.2 L335.3 161.2 L335.3 161.7 L343.9 161.5 M362.4 178.3 L362.4 159.3 M362.4 178.3 L392.2 178.3 M300.7 216.0 L346.1 216.0 M312.7 250.9 L312.3 239.5 L314.6 216.8 L314.0 216.0 M330.4 216.1 L333.0 232.2 L334.1 235.8 L333.8 238.8 L333.5 241.8 L333.8 244.0 L334.1 246.2 M334.1 246.2 L317.8 246.2 L319.0 248.8 L318.4 251.4 M334.1 246.2 L335.0 248.4 L351.8 249.4 L352.7 250.9 L353.1 249.2 L353.4 247.7 L356.5 248.4 M360.1 238.6 L358.9 237.7 L358.1 236.8 L357.7 235.4 L357.1 234.1 L356.7 232.7 L356.4 231.2 L355.2 230.5 L354.7 229.5 L354.2 228.4 L353.5 227.4 L352.8 226.3 L351.7 225.6 L351.2 224.4 L350.5 223.4 L349.5 222.6 L348.1 221.6 L348.0 219.6 L346.4 218.1 L344.5 218.5 L345.6 217.3 L346.1 216.0 M346.1 216.0 L350.5 214.4 L359.0 214.8 L359.0 215.6 L359.8 215.2 L360.7 217.4 L367.7 217.5 L374.8 224.7 M338.4 216.0 L339.7 215.1 L340.6 214.0 L341.3 212.2 L342.4 212.2 L343.6 211.5 L344.8 210.7 L346.3 210.2 L347.5 208.7 L349.3 208.3 L350.4 207.1 L352.7 206.8 L353.4 205.6 L354.5 204.4 L355.1 203.5 M342.5 203.4 L343.6 202.8 L345.0 203.1 L346.1 202.1 L347.1 200.8 L348.0 199.2 L349.7 198.6 L351.5 198.3 L352.0 196.7 L353.2 196.0 M289.4 117.0 L290.6 117.0 L291.7 116.7 L292.8 116.5 L293.9 116.0 L295.0 115.4 L296.3 115.5 L297.5 114.7 L297.9 116.5 L298.3 117.8 L300.0 118.6 M300.0 118.6 L301.9 120.8 L308.3 122.5 L311.5 123.9 L314.6 124.8 L316.2 126.6 L316.5 129.8 L317.8 132.0 M300.0 118.6 L301.3 116.5 L307.4 113.9 L311.0 112.0 L312.3 114.3 L311.0 118.7 L313.9 114.7 L317.7 115.1 L320.1 118.3 L323.3 119.1 L327.2 117.1 L332.0 116.3 L335.9 115.8 L335.1 118.3 L338.3 118.7 L341.1 121.9 L342.3 124.3 L339.1 125.2 L335.9 124.4 L332.0 122.7 L328.8 123.1 L324.1 123.9 L321.7 124.7 L320.1 126.7 L318.5 129.1 L318.1 132.2 L317.8 132.0 M343.9 161.5 L345.4 161.9 L346.6 162.8 L348.6 163.4 L350.3 163.3 L351.7 164.6 L353.4 163.6 L354.9 163.4 L355.9 162.7 L357.0 162.1 L358.0 161.6 L358.9 160.8 L360.0 160.2 L361.2 159.9 L362.1 158.8 L363.6 158.4 L365.1 157.9 L366.0 157.2 L367.3 157.2 L368.2 156.2 L369.0 155.4 L369.8 154.5 L370.2 153.3 L371.9 153.4 L372.5 151.5 L371.7 150.1 L371.5 148.4 L373.0 148.3 L374.3 147.7 L375.6 147.9 L376.9 147.5 L378.3 147.8 L379.5 148.0 L380.8 148.3 L382.3 148.5 L383.7 147.9 L385.2 148.1 L386.5 147.3 L387.8 146.6 L389.5 145.5 L390.0 144.2 L389.6 142.7 L388.8 140.8 L389.5 140.2 L390.4 139.4 L391.5 138.8 L392.2 137.9 L393.4 136.9 L394.3 135.7 L395.4 134.6 L396.3 133.6 L397.6 133.5 L398.8 133.1 L400.0 133.2 L401.2 133.3 L402.4 133.2 L403.6 132.7 L404.8 132.7 L406.0 133.3 L407.2 133.2 L408.4 133.1 L409.6 133.4 L410.8 133.2 L412.0 132.7 L413.2 132.8 L414.4 133.3 L415.6 133.0 L416.8 132.5 L418.0 132.8 L419.2 133.2 L419.4 131.7 L420.5 130.8 L422.0 130.6 L422.6 128.9 L423.4 127.6 L424.0 126.5 L424.0 125.2 L425.0 124.4 L426.0 123.6 L426.7 122.2 L427.1 120.8 L428.4 119.3 L428.9 117.5 L429.4 116.3 L430.1 115.1 M430.1 115.1 L430.1 143.1 M367.2 156.8 L367.2 159.2 L395.0 159.2 L396.9 162.6 L399.1 164.6 L396.5 167.6 L395.9 170.1 L396.9 172.2 L398.7 174.3 L396.5 176.4 L394.7 177.6 L393.7 179.3 M392.2 178.3 L393.4 177.3 L394.7 177.6 M392.2 178.3 L392.8 188.6 L396.9 188.7 M399.1 164.6 L404.1 167.6 M407.6 132.9 L407.3 141.8 L407.1 145.3 L408.2 145.8 L408.1 152.8 L406.6 158.7 L406.7 165.1 L405.2 166.8 L405.7 167.6 M419.2 132.9 L418.6 136.5 L415.8 140.9 L414.8 144.0 L413.6 147.1 L413.2 150.6 L412.6 152.9 M408.1 152.8 L420.5 153.1 L420.8 152.8 L422.4 151.8 L423.5 151.7 M406.6 158.7 L417.3 159.0 L420.0 159.0 L420.3 160.0 L421.1 162.0 L421.6 163.4 M417.3 159.0 L417.0 164.9 M421.9 130.2 L422.4 141.8 L422.6 145.6 L424.3 149.9 M397.8 184.8 L398.0 183.3 L396.6 182.7 L395.8 182.1 L394.4 182.0 L393.4 181.3 L393.9 179.2 L393.9 180.6 L395.5 181.4 L395.1 183.3 L395.4 185.0 L396.3 186.3 L396.8 187.3 L396.9 188.6 L397.1 190.0 L397.2 191.3 L396.9 192.6 L395.3 193.3 L394.6 194.3 L394.7 195.7 L393.0 196.0 L392.7 197.4 L391.4 197.9 L391.8 199.8 L391.8 197.7 L392.3 197.0 L391.2 195.4 L390.2 193.3 L393.5 193.5 L391.8 192.8 L391.2 190.7 L389.9 190.7 L389.7 189.2 L389.7 187.5 L388.3 186.8 L390.7 186.1 L388.6 184.5 L389.2 183.1 L388.7 181.7 L389.4 179.8 L388.8 180.9 L387.6 182.0 L387.7 183.7 L387.5 184.9 L387.4 186.3 L388.3 187.4 L387.6 188.7 L387.7 190.0 L388.6 191.5 L389.9 192.9 L389.3 193.6 L388.0 194.4 L390.0 196.0 L386.9 197.9 L389.8 199.2 L387.8 200.2 L391.1 199.9 L391.9 202.2 L391.7 203.8 M356.5 248.4 L356.7 249.9 L357.2 251.3 L357.0 252.6 L357.6 253.8 L357.2 255.2 L358.4 256.1 L358.4 257.3 L359.4 258.2 L359.5 259.4 L359.8 260.6 L360.4 261.6 L361.1 262.7 L361.4 263.9 L362.0 264.9 L362.5 266.2 L362.1 267.4 L362.5 268.4 L363.1 269.4 L363.4 270.6 L363.4 271.8 L364.6 273.0 L364.9 274.5 L365.2 276.0 L365.6 277.4 L365.0 278.8 L365.5 280.2 L364.9 281.6 L365.0 282.8 L364.6 283.9 L364.3 285.0 L363.8 286.1 L363.5 287.2 L362.5 287.9 M257.6 282.6 L256.5 283.0 L255.4 283.4 L254.2 283.2 L253.1 282.8 L252.0 282.5 L250.8 282.3 L249.7 281.3 L248.3 280.9 L247.1 280.2 L246.0 279.2 L245.4 278.4 L244.7 277.4 L244.8 276.1 L244.2 275.0 L243.6 274.0 L243.0 272.9 L243.0 271.6 L242.0 270.6 L241.0 269.7 L240.4 268.4 L239.8 267.2 L238.6 266.7 L237.9 265.7 L236.8 264.6 L236.2 263.1 L235.9 261.8 L234.9 260.8 L233.9 259.9 L234.1 258.3 L232.8 257.4 L231.9 256.2 L230.9 255.2 L229.4 254.7 L227.9 255.2 L226.5 254.8 L225.1 254.8 L223.9 255.2 L222.5 255.6 L222.0 257.0 L221.6 258.3 L220.6 259.6 L219.7 261.0 L218.7 261.5 L217.6 260.5 L216.5 260.0 L215.6 259.0 L214.5 258.4 L213.3 257.9 L212.5 256.7 L211.1 256.3 L210.4 255.0 L209.8 253.7 L209.3 252.3 L209.0 250.9 L208.8 249.5 L207.8 248.6 L206.6 248.1 L205.4 247.5 L204.5 246.4 L203.7 245.3 L202.9 244.1 L201.3 243.7 L200.9 242.2 L199.9 241.3 L198.6 240.7 L198.4 240.4 M403.4 170.7 L403.8 169.4 L405.1 168.9 L406.3 168.2 L407.9 169.0 L409.1 168.0 L410.7 167.0 L412.3 168.2 L413.6 167.4 L414.1 165.7 L413.4 167.5 L415.4 167.9 L416.8 166.2 L415.4 167.2 L413.7 167.0 L413.4 169.9 L411.9 170.1 L410.4 169.9 L409.4 170.9 L407.9 170.7 L406.4 170.0 L405.0 170.2 L403.8 171.5 L403.4 170.7 M269.4 257.3 L271.1 254.7 L273.4 255.3 L272.1 257.6 L269.4 257.3" stroke-width="2.67"/><path d="M317.8 132.0 L316.4 133.7 L315.6 134.5 L315.7 135.8 L314.8 136.8 L316.8 135.6 L317.6 134.0 L318.7 132.7 L320.2 132.3 L320.9 131.1 L321.1 129.5 L320.9 131.0 L320.2 132.0 L320.1 133.3 L319.6 134.5 L319.3 135.7 L318.7 136.9 L317.5 138.1 L318.3 139.5 L317.6 140.5 L317.3 141.6 L316.7 142.7 L317.4 144.1 L317.1 145.3 L316.9 146.5 L316.1 147.6 L316.2 148.9 L316.3 150.2 L315.9 151.3 L316.2 152.5 L316.6 153.6 L316.3 154.9 L316.4 156.4 L317.0 157.7 L317.5 159.0 L316.8 160.6 L318.4 161.6 L320.4 162.1 L321.3 161.5 L322.7 161.2 M322.7 161.2 L323.6 160.4 L323.7 159.1 L324.5 158.1 L324.9 156.9 L325.3 155.6 L326.3 154.5 L326.6 153.2 L325.8 151.8 L325.8 150.3 L326.6 148.7 L325.2 147.5 L325.3 145.8 L325.1 144.3 L324.9 143.1 L325.3 141.8 L325.9 140.5 L325.8 138.8 L326.6 137.5 L327.0 136.3 L326.8 134.9 L327.7 133.9 L328.3 132.6 L329.7 132.1 L330.7 131.1 L330.4 132.4 L330.2 133.6 L330.0 134.9 L331.1 133.7 L331.9 132.6 L332.3 131.4 L332.1 130.2 L333.3 129.5 L334.6 129.7 L333.4 127.5 L334.6 126.7 L336.0 126.2 L336.9 126.2 L338.0 126.9 L339.2 127.3 L340.3 128.0 L341.8 128.1 L342.9 128.9 L343.9 129.7 L344.4 131.1 L344.2 132.5 L344.6 133.6 L344.1 134.9 L344.4 135.9 L344.8 137.1 L344.4 138.3 L343.6 139.6 L342.5 140.4 L341.6 141.4 L341.1 142.7 L341.0 144.9 L342.5 144.3 L344.0 144.1 L344.2 141.9 L346.0 141.6 L347.3 141.4 L348.0 142.4 L349.0 143.4 L349.4 144.5 L350.1 145.7 L349.8 147.1 L350.2 148.2 L350.4 149.4 L350.8 150.5 L349.6 151.6 L350.0 152.8 L349.7 154.0 L347.6 153.8 L347.7 156.2 L346.3 156.1 L345.3 157.4 L345.8 158.7 L344.7 159.3 L344.3 160.5 L343.9 161.5" stroke-width="2.90"/><path d="M294.9 146.2 L295.6 147.3 L295.0 148.5 L294.7 149.7 L296.0 151.1 L295.5 152.8 L296.9 153.6 L297.7 155.2 L298.5 154.9 L299.1 156.1 L300.2 156.9 L300.9 158.5 L300.7 160.5 L301.1 161.0 L301.2 162.3 L298.8 163.3 L297.5 163.9 L296.0 164.3 L295.5 165.9 L295.9 167.3 L296.2 168.6 L295.2 169.9 L294.7 171.4 L293.7 172.8 L292.9 174.3 L293.3 176.0 L293.3 177.2 L293.4 178.6 L295.2 179.3 L295.4 181.2 L296.1 182.3 L297.4 183.1 L298.2 184.2 L299.3 185.0 L300.1 184.6 L301.5 185.1 L301.3 187.2 L301.1 188.8 L300.5 190.3 L302.0 191.1 L302.3 193.0 L303.7 193.7 L305.1 194.4 L305.4 196.3 L305.5 198.0 L307.1 199.7 L308.1 200.4 M308.1 200.4 L308.8 198.6 L310.0 199.6 L311.5 199.6 L311.9 198.8 L311.8 198.2 L311.8 197.0 L314.1 198.3 L314.8 196.9 L315.3 195.2 L314.5 193.8 L315.6 193.8 L316.6 192.9 L317.8 192.1 L319.3 193.8 L320.7 194.4 L322.0 193.4 L323.2 193.0 L324.8 192.1 L325.4 190.7 L327.9 192.1 L328.2 190.9 L329.0 189.8 L329.8 188.8 L331.0 187.8 L330.8 186.1 L332.9 186.6 L333.9 185.7 L335.5 185.6 L334.7 183.3 L337.3 183.1 L337.8 184.9 L339.6 185.5 L340.3 186.3 L341.9 185.6 L342.7 187.1 L344.9 187.3 L347.1 187.1 L347.4 187.7 L349.3 188.9 M349.3 188.9 L350.1 189.7 L351.6 187.2 L350.5 185.8 L353.8 185.4 L354.5 184.1 L355.6 183.3 L356.3 182.2 L356.7 180.9 L357.8 180.4 L359.1 179.6 L360.2 178.3 L360.5 176.8 L361.6 175.5 L361.3 174.0 L360.9 172.5 L362.4 170.6 M353.2 196.0 L352.5 194.8 L351.4 194.3 L350.1 194.0 L350.3 192.4 L348.5 191.2 L349.3 188.9 M353.2 196.0 L354.4 197.2 L355.1 198.7 L356.5 199.0 L357.9 197.9 L359.3 198.4 L360.5 198.1 L361.0 195.9 L362.8 197.3 L363.7 196.2 L364.5 194.8 L365.1 193.9 L365.4 192.6 L366.0 191.5 L366.3 190.1 L367.9 189.3 L367.8 187.7 L369.3 187.6 L370.3 188.8 L371.7 188.3 L372.3 187.3 L372.6 185.9 L373.8 185.2 L374.8 184.2 L375.1 182.6 L376.6 181.6 L377.4 181.4 L377.9 183.1 L379.6 182.6 L380.0 181.6 M380.0 181.6 L378.5 180.8 L379.2 179.3 L376.9 178.9 L375.7 180.1 L373.6 178.8 L371.8 180.3 L371.0 181.2 L369.8 181.7 L368.6 182.2 L368.9 181.1 L368.5 179.7 L368.9 178.3 M430.1 143.1 L429.0 144.5 L427.7 146.0 L425.7 146.3 L425.9 148.4 L424.7 150.1 L422.8 151.4 L423.6 152.7 L424.5 154.1 L422.9 153.2 L423.5 155.8 L421.7 155.9 L423.8 158.6 L424.6 159.1 L426.2 160.7 L427.1 160.2 L428.7 161.5 L428.5 159.7 L426.8 158.7 L428.3 159.8 L428.6 161.0 L428.3 161.9 L427.4 162.0 L425.6 161.1 L424.5 163.0 L423.8 161.5 L422.8 162.8 L421.6 163.4 M421.6 163.4 L420.0 163.2 L421.4 160.4 L419.1 162.1 L420.4 163.5 L419.2 164.5 L416.8 164.2 L415.5 165.7 L414.0 166.4 L412.7 164.7 L411.6 165.4 L410.4 165.9 L409.6 167.1 L408.2 167.4 L406.2 165.4 L406.0 168.6 L404.2 169.0 L403.8 167.6 L403.7 168.9 L404.2 170.4 L403.1 170.5 L402.6 172.5 L403.3 173.4 L404.3 174.3 L403.1 175.5 L402.6 176.7 L402.3 177.9 L402.6 179.9 L401.2 181.1 L400.8 182.4 L399.8 183.1 L397.8 183.1 L397.8 184.8 M331.6 254.7 L330.3 254.2 L330.3 252.3 L328.7 252.2 L327.8 251.4 L326.8 250.7 L324.8 250.2 L323.2 250.5 L321.8 251.6 L320.3 251.7 L318.5 252.1 L316.7 251.4 L315.3 252.7 L315.6 250.5 L315.4 248.8 L314.9 248.6 L314.0 250.9 L312.7 251.2 L311.1 251.1 L309.5 251.3 L308.5 251.6 L307.1 251.7 L305.7 252.3 M305.7 252.3 L305.0 252.2 L303.8 252.8 L306.1 253.4 L307.7 252.5 L306.5 255.1 L305.2 256.6 L306.0 257.5 L307.4 257.9 L307.9 259.1 L308.6 260.3 L307.6 260.5 L305.3 259.7 L305.4 260.2 L303.6 260.6 L302.5 259.6 L301.2 259.2 L300.0 259.8 L298.4 259.5 L297.0 261.2 L295.7 260.2 L295.8 258.0 L295.1 257.0 L292.9 256.6 L291.3 257.5 L290.4 255.1 L289.8 256.0 L288.7 256.8 L287.4 257.4 L286.2 256.9 L285.2 255.7 L283.6 256.1 L282.2 256.0 L281.0 254.7 L279.7 255.3 L278.4 255.8" stroke-width="3.00"/><path d="M380.0 181.6 L380.9 183.3 L383.5 183.7 L384.4 185.8 L383.8 186.9 L383.0 187.9 L383.0 189.2 L384.6 189.9 L385.9 190.5 L387.2 191.3 L387.8 192.6 L389.0 193.1 M362.5 287.9 L361.2 287.8 L360.0 288.6 L358.8 289.0 L358.4 287.2 L357.7 285.9 L357.9 283.4 L356.1 283.0 L355.1 282.3 L353.9 281.4 L353.1 280.3 L352.4 279.1 L351.9 276.8 L352.2 275.8 L352.5 273.8 L350.2 274.9 L350.1 273.4 L349.2 272.5 L348.3 271.5 L349.9 270.9 L350.0 269.4 L349.2 268.5 L349.4 269.8 L348.5 270.7 L347.0 269.1 L347.2 266.5 L347.7 265.1 L348.9 264.1 L349.9 262.9 L347.6 261.6 L348.0 259.6 L347.0 258.7 L346.2 257.8 L344.8 257.7 L344.3 256.5 L343.4 255.7 L344.4 253.7 L342.1 253.8 L340.5 252.8 L339.4 253.6 L338.3 254.2 L337.0 254.4 L335.6 254.6 L334.0 254.3 L333.4 256.0 L332.0 256.5 L331.6 254.7" stroke-width="3.20"/><path d="M239.6 219.4 L241.3 220.9 L243.4 220.9 L244.4 222.2 L246.2 222.3 L248.3 223.3 L250.0 222.4 L251.6 223.0 L252.6 224.4 L254.3 223.5 L255.5 225.0 L257.1 226.0 L258.2 225.1 L259.0 223.8 L261.1 224.7 L262.4 226.3 L264.2 225.7 L265.5 224.8 L266.7 224.4 L268.0 225.0 L269.9 224.2 L271.1 224.8 L272.4 225.7 L274.5 226.2 L276.2 226.9 L277.2 227.1" stroke-width="3.30"/><path d="M278.4 255.8 L277.8 254.6 L276.0 254.6 L274.9 256.3 L273.6 256.2 L272.4 256.7 L271.2 256.6 L270.2 257.3 L269.5 258.7 L268.0 259.1 L267.5 260.5 L266.4 261.2 L265.0 261.7 L263.5 263.0 L262.2 262.8 L261.0 263.5 L260.1 264.8 L258.9 265.9 L257.8 266.6 L256.2 266.8 L255.4 267.8 L255.0 269.3 L255.4 270.7 L254.7 271.7 L254.8 273.1 L257.2 273.9 L255.0 275.6 L256.5 276.5 L255.7 278.1 L257.0 278.9 L257.0 280.1 L256.1 281.3 L257.4 282.6 L257.6 282.6" stroke-width="3.40"/><path d="M391.7 203.8 L393.4 204.8 L391.7 207.0 L393.1 207.8 L392.2 209.5 L392.7 210.6 L393.0 211.6 L392.7 213.0 L395.1 214.7 L392.9 216.2 L391.1 216.0 L391.0 217.2 L388.4 216.5 L389.1 218.9 L388.2 219.6 L385.8 220.2 L384.4 219.5 L383.4 219.2 L382.2 219.8 L381.4 221.0 L381.6 222.6 L379.8 222.7 L379.1 223.7 L378.4 224.7 L377.3 223.4 L376.0 225.3 L374.8 224.7 M374.8 224.7 L373.1 224.7 L373.9 228.1 L371.3 227.1 L371.4 228.6 L371.8 230.4 L370.6 231.8 L368.3 231.6 L367.0 232.1 L366.0 233.1 L365.5 234.7 L363.6 233.8 L362.6 234.5 L362.2 237.6 L360.2 238.6 L359.1 239.6 L359.6 241.5 L357.4 242.2 L354.8 243.0 L357.9 245.3 L357.9 246.7 L356.5 248.4" stroke-width="3.80"/><path d="M308.1 200.4 L308.0 202.0 L307.4 203.4 L305.4 203.4 L305.4 206.2 L306.6 209.2 L303.4 209.1 L302.6 210.1 L302.1 211.3 L304.4 213.8 L302.4 214.9 L302.2 216.4 L300.5 217.0 L300.1 218.1 L299.0 218.8 L299.3 220.3 L298.7 222.1 L297.0 223.0 L295.8 224.2 L294.7 225.5 L295.9 227.2 L296.6 228.6 L292.9 229.9 L297.6 231.1 L295.0 232.8 L296.2 234.2 L296.4 235.4 L297.8 236.1 L296.3 237.7 L295.7 239.0 L294.4 239.7 L293.4 240.6 L294.7 242.6 L294.2 243.8 L292.2 244.6 L292.5 246.2" stroke-width="4.00"/></g></g>
</defs>
<rect width="1500" height="825" fill="#fff"/>
<text x="749.5" y="26.9" text-anchor="middle" font-family="'DejaVu Sans','Liberation Sans',sans-serif" font-size="20.9px" fill="#000">IASI 2023-02-25 (013437 UTC)</text>
<g transform="translate(0.0,0.0)">
<rect x="195.5" y="96.5" width="234.0" height="213.0" fill="#fff" stroke="#262626" stroke-width="1"/>
<use href="#usmapA"/>
<g fill="none" stroke-linecap="round" stroke-width="6.4">
<path stroke="#0040ff" d="M391.3 308.3h0M394.4 308.3h0M396.0 308.3h0M406.9 308.4h0M413.2 308.4h0M414.7 308.4h0M416.3 308.4h0M419.4 308.4h0M421.0 308.5h0M428.8 308.5h0"/>
<path stroke="#0060ff" d="M392.9 308.3h0M397.6 308.3h0M399.1 308.3h0M400.7 308.4h0M402.2 308.4h0M408.5 308.4h0M411.6 308.4h0M417.9 308.4h0"/>
<path stroke="#0080ff" d="M403.8 308.4h0M405.4 308.4h0M410.1 308.4h0"/>
<path stroke="#0020ff" d="M422.6 308.5h0M424.1 308.5h0M425.7 308.5h0M427.2 308.5h0"/>
<path stroke="#0060ff" d="M390.7 306.7h0M416.1 306.3h0M417.7 306.3h0M422.5 306.3h0M425.6 306.2h0"/>
<path stroke="#0040ff" d="M392.3 306.6h0M393.9 306.6h0M398.7 306.6h0M400.3 306.5h0M408.2 306.4h0M409.8 306.4h0M411.4 306.4h0M412.9 306.4h0M414.5 306.4h0M424.0 306.2h0M427.2 306.2h0"/>
<path stroke="#0020ff" d="M395.5 306.6h0M397.1 306.6h0M401.8 306.5h0M403.4 306.5h0M406.6 306.5h0M428.8 306.2h0"/>
<path stroke="#0000ff" d="M405.0 306.5h0"/>
<path stroke="#0080ff" d="M419.3 306.3h0M420.9 306.3h0"/>
<path stroke="#0060ff" d="M390.2 305.0h0M393.4 304.9h0M415.9 304.3h0M419.1 304.2h0M422.4 304.1h0M424.0 304.0h0M427.2 303.9h0"/>
<path stroke="#0040ff" d="M391.8 305.0h0M395.0 304.9h0M399.8 304.7h0M401.5 304.7h0M414.3 304.3h0M428.8 303.9h0"/>
<path stroke="#0080ff" d="M396.6 304.8h0M398.2 304.8h0M417.5 304.2h0M420.8 304.1h0M425.6 304.0h0"/>
<path stroke="#0000df" d="M403.1 304.6h0M404.7 304.6h0M406.3 304.5h0"/>
<path stroke="#0000ff" d="M407.9 304.5h0"/>
<path stroke="#0020ff" d="M409.5 304.4h0M411.1 304.4h0M412.7 304.3h0"/>
<path stroke="#0040ff" d="M389.6 303.4h0M391.3 303.3h0M392.9 303.2h0M410.9 302.4h0M420.6 301.9h0"/>
<path stroke="#0020ff" d="M394.5 303.1h0M396.2 303.1h0M397.8 303.0h0M412.5 302.3h0M414.1 302.2h0M415.7 302.2h0M422.3 301.9h0M423.9 301.8h0M425.5 301.7h0M427.2 301.6h0M428.8 301.6h0"/>
<path stroke="#0000df" d="M399.4 302.9h0M401.1 302.8h0"/>
<path stroke="#0000bf" d="M402.7 302.8h0"/>
<path stroke="#0000ff" d="M404.3 302.7h0M406.0 302.6h0M407.6 302.5h0M409.2 302.5h0"/>
<path stroke="#0060ff" d="M417.4 302.1h0M419.0 302.0h0"/>
<path stroke="#009fff" d="M389.1 301.7h0M390.7 301.6h0"/>
<path stroke="#0060ff" d="M392.4 301.5h0M395.7 301.3h0"/>
<path stroke="#0080ff" d="M394.0 301.4h0"/>
<path stroke="#0040ff" d="M397.4 301.2h0M420.5 299.8h0M422.2 299.7h0M423.8 299.6h0M428.8 299.3h0"/>
<path stroke="#0000ff" d="M399.0 301.1h0M400.7 301.0h0M410.6 300.4h0M412.3 300.3h0M413.9 300.2h0M417.2 300.0h0M425.5 299.5h0M427.1 299.4h0"/>
<path stroke="#0000df" d="M402.3 300.9h0M404.0 300.8h0M405.6 300.7h0M407.3 300.6h0M408.9 300.5h0"/>
<path stroke="#0020ff" d="M415.6 300.1h0M418.9 299.9h0"/>
<path stroke="#009fff" d="M388.5 300.1h0"/>
<path stroke="#0080ff" d="M390.2 299.9h0M425.4 297.2h0"/>
<path stroke="#0060ff" d="M391.9 299.8h0M393.6 299.7h0M412.0 298.2h0M413.7 298.1h0M415.4 298.0h0M417.1 297.8h0M418.7 297.7h0M420.4 297.6h0M422.1 297.5h0M423.8 297.3h0M427.1 297.1h0M428.8 296.9h0"/>
<path stroke="#0040ff" d="M395.2 299.5h0M410.3 298.4h0"/>
<path stroke="#0020ff" d="M396.9 299.4h0"/>
<path stroke="#0000ff" d="M398.6 299.3h0M405.3 298.8h0M407.0 298.6h0M408.7 298.5h0"/>
<path stroke="#0000df" d="M400.3 299.1h0M402.0 299.0h0M403.6 298.9h0"/>
<path stroke="#0060ff" d="M388.0 298.4h0M391.4 298.1h0M394.8 297.8h0M422.0 295.3h0M428.8 294.6h0"/>
<path stroke="#0040ff" d="M389.7 298.2h0M396.5 297.6h0M413.5 296.0h0M423.7 295.1h0"/>
<path stroke="#0080ff" d="M393.1 297.9h0"/>
<path stroke="#0000ff" d="M398.2 297.5h0"/>
<path stroke="#0000df" d="M399.9 297.3h0M401.6 297.1h0M406.7 296.7h0M408.4 296.5h0M410.1 296.4h0"/>
<path stroke="#0000bf" d="M403.3 297.0h0M405.0 296.8h0"/>
<path stroke="#0020ff" d="M411.8 296.2h0M415.2 295.9h0M416.9 295.7h0M418.6 295.6h0M420.3 295.4h0M425.4 294.9h0M427.1 294.8h0"/>
<path stroke="#0060ff" d="M387.4 296.8h0M392.6 296.2h0M418.5 293.4h0M420.2 293.2h0M427.1 292.5h0M428.8 292.3h0"/>
<path stroke="#009fff" d="M389.1 296.6h0"/>
<path stroke="#0080ff" d="M390.9 296.4h0M394.3 296.0h0M396.0 295.8h0M413.3 294.0h0M415.0 293.8h0M416.7 293.6h0"/>
<path stroke="#0040ff" d="M397.8 295.6h0M399.5 295.5h0M421.9 293.1h0M423.6 292.9h0M425.4 292.7h0"/>
<path stroke="#0020ff" d="M401.2 295.3h0M411.6 294.2h0"/>
<path stroke="#0000ff" d="M402.9 295.1h0M406.4 294.7h0M408.1 294.5h0M409.8 294.4h0"/>
<path stroke="#0000df" d="M404.7 294.9h0"/>
<path stroke="#009fff" d="M386.9 295.1h0M393.9 294.3h0M416.6 291.5h0M421.8 290.9h0M423.6 290.6h0"/>
<path stroke="#0080ff" d="M388.6 294.9h0M390.4 294.7h0M392.1 294.5h0M413.1 291.9h0M414.8 291.7h0M418.3 291.3h0M420.1 291.1h0"/>
<path stroke="#0060ff" d="M395.6 294.0h0M397.4 293.8h0M411.3 292.1h0M425.3 290.4h0M427.1 290.2h0"/>
<path stroke="#0040ff" d="M399.1 293.6h0M428.8 290.0h0"/>
<path stroke="#0020ff" d="M400.8 293.4h0M409.6 292.3h0"/>
<path stroke="#0000ff" d="M402.6 293.2h0M406.1 292.8h0M407.8 292.6h0"/>
<path stroke="#0000df" d="M404.3 293.0h0"/>
<path stroke="#0080ff" d="M386.3 293.4h0M388.1 293.2h0M389.9 293.0h0M419.9 288.9h0M421.7 288.7h0M423.5 288.4h0M427.0 287.9h0M428.8 287.7h0"/>
<path stroke="#009fff" d="M391.6 292.7h0M393.4 292.5h0M395.2 292.3h0"/>
<path stroke="#0060ff" d="M396.9 292.0h0M425.3 288.2h0"/>
<path stroke="#0040ff" d="M398.7 291.8h0M400.5 291.5h0M411.1 290.1h0M412.9 289.9h0M414.6 289.6h0M416.4 289.4h0M418.2 289.1h0"/>
<path stroke="#0000df" d="M402.2 291.3h0M405.8 290.8h0"/>
<path stroke="#0000ff" d="M404.0 291.1h0M407.6 290.6h0"/>
<path stroke="#0020ff" d="M409.3 290.3h0"/>
<path stroke="#0040ff" d="M385.8 291.8h0M391.1 291.0h0M392.9 290.7h0M407.3 288.6h0"/>
<path stroke="#0060ff" d="M387.6 291.5h0M389.3 291.3h0M409.1 288.3h0M410.9 288.1h0M425.2 285.9h0"/>
<path stroke="#0020ff" d="M394.7 290.5h0M400.1 289.7h0M405.5 288.9h0"/>
<path stroke="#0000ff" d="M396.5 290.2h0M398.3 289.9h0M401.9 289.4h0M403.7 289.1h0"/>
<path stroke="#0080ff" d="M412.7 287.8h0M416.2 287.3h0M418.0 287.0h0M421.6 286.5h0M427.0 285.7h0"/>
<path stroke="#009fff" d="M414.5 287.5h0M419.8 286.7h0M423.4 286.2h0M428.8 285.4h0"/>
<path stroke="#0080ff" d="M385.2 290.1h0M388.8 289.6h0M392.5 289.0h0M421.5 284.3h0M427.0 283.4h0"/>
<path stroke="#009fff" d="M387.0 289.9h0M390.7 289.3h0M419.7 284.5h0M423.4 284.0h0M425.2 283.7h0"/>
<path stroke="#0060ff" d="M394.3 288.7h0M414.3 285.4h0M417.9 284.8h0M428.8 283.1h0"/>
<path stroke="#0040ff" d="M396.1 288.4h0M399.7 287.8h0M401.6 287.5h0M407.0 286.6h0M410.6 286.0h0M412.5 285.7h0M416.1 285.1h0"/>
<path stroke="#0020ff" d="M397.9 288.1h0M405.2 286.9h0M408.8 286.3h0"/>
<path stroke="#0000ff" d="M403.4 287.2h0"/>
<path stroke="#0040ff" d="M384.7 288.5h0M386.5 288.2h0M392.0 287.2h0M395.7 286.6h0M403.0 285.3h0M404.9 285.0h0M406.7 284.6h0M412.2 283.7h0M415.9 283.0h0M427.0 281.1h0"/>
<path stroke="#0060ff" d="M388.3 287.9h0M390.2 287.5h0M399.4 285.9h0M401.2 285.6h0M408.6 284.3h0M410.4 284.0h0M414.1 283.3h0M417.8 282.7h0M421.4 282.1h0M425.1 281.4h0M428.8 280.8h0"/>
<path stroke="#0020ff" d="M393.9 286.9h0M397.5 286.2h0"/>
<path stroke="#0080ff" d="M419.6 282.4h0M423.3 281.7h0"/>
<path stroke="#0060ff" d="M384.1 286.9h0M391.5 285.5h0M399.0 284.1h0M400.9 283.7h0M412.0 281.6h0M413.9 281.2h0"/>
<path stroke="#0020ff" d="M386.0 286.5h0M393.4 285.1h0M404.6 283.0h0M406.5 282.6h0M408.3 282.3h0M419.5 280.2h0M423.2 279.5h0M425.1 279.1h0M426.9 278.8h0M428.8 278.4h0"/>
<path stroke="#0040ff" d="M387.8 286.1h0M389.7 285.8h0M395.3 284.8h0M402.7 283.4h0M410.2 281.9h0M415.8 280.9h0M417.6 280.6h0M421.4 279.9h0"/>
<path stroke="#0080ff" d="M397.1 284.4h0"/>
<path stroke="#0040ff" d="M383.5 285.2h0M385.4 284.8h0M387.3 284.4h0M393.0 283.3h0M406.2 280.7h0M408.1 280.3h0M417.5 278.4h0M419.4 278.0h0M423.1 277.3h0M428.8 276.1h0"/>
<path stroke="#0060ff" d="M389.2 284.1h0M394.9 282.9h0M396.7 282.6h0M404.3 281.0h0"/>
<path stroke="#0020ff" d="M391.1 283.7h0M409.9 279.9h0M411.8 279.5h0M421.3 277.6h0M425.0 276.9h0M426.9 276.5h0"/>
<path stroke="#0080ff" d="M398.6 282.2h0M400.5 281.8h0M402.4 281.4h0"/>
<path stroke="#0000ff" d="M413.7 279.2h0M415.6 278.8h0"/>
<path stroke="#0040ff" d="M383.0 283.6h0M392.5 281.5h0M394.4 281.1h0M398.3 280.3h0M415.4 276.7h0M417.3 276.3h0M428.8 273.8h0"/>
<path stroke="#0080ff" d="M384.9 283.1h0M388.7 282.3h0M390.6 281.9h0M411.6 277.5h0M413.5 277.1h0"/>
<path stroke="#0060ff" d="M386.8 282.7h0M396.4 280.7h0M400.2 279.9h0M402.1 279.5h0M407.8 278.3h0M409.7 277.9h0M419.3 275.9h0M421.2 275.4h0M423.1 275.0h0M425.0 274.6h0M426.9 274.2h0"/>
<path stroke="#0020ff" d="M404.0 279.1h0M405.9 278.7h0"/>
<path stroke="#0080ff" d="M382.4 281.9h0M384.4 281.5h0M386.3 281.0h0M390.2 280.2h0M411.4 275.4h0M413.3 275.0h0M415.3 274.5h0"/>
<path stroke="#009fff" d="M388.2 280.6h0"/>
<path stroke="#0060ff" d="M392.1 279.7h0M394.0 279.3h0M396.0 278.9h0M397.9 278.4h0M399.8 278.0h0M401.8 277.6h0M403.7 277.1h0M405.6 276.7h0M407.6 276.3h0M409.5 275.8h0M417.2 274.1h0M419.1 273.7h0M421.1 273.2h0M423.0 272.8h0M426.9 271.9h0"/>
<path stroke="#0040ff" d="M424.9 272.4h0M428.8 271.5h0"/>
<path stroke="#0060ff" d="M381.9 280.2h0M395.6 277.0h0M397.5 276.6h0M399.5 276.1h0M401.4 275.6h0M411.2 273.3h0M413.2 272.9h0M415.1 272.4h0"/>
<path stroke="#0080ff" d="M383.8 279.8h0M391.7 277.9h0M393.6 277.5h0M403.4 275.2h0M405.3 274.7h0M409.3 273.8h0"/>
<path stroke="#009fff" d="M385.8 279.3h0M387.7 278.9h0M389.7 278.4h0M407.3 274.3h0"/>
<path stroke="#0040ff" d="M417.1 272.0h0M419.0 271.5h0"/>
<path stroke="#0020ff" d="M421.0 271.0h0M422.9 270.6h0M424.9 270.1h0M426.8 269.7h0M428.8 269.2h0"/>
<path stroke="#0080ff" d="M381.3 278.6h0M391.2 276.2h0M405.1 272.7h0"/>
<path stroke="#0060ff" d="M383.3 278.1h0M393.2 275.7h0M401.1 273.7h0M403.1 273.2h0M407.0 272.3h0M415.0 270.3h0M416.9 269.8h0"/>
<path stroke="#0040ff" d="M385.3 277.6h0M387.3 277.1h0M395.2 275.2h0M399.1 274.2h0M409.0 271.8h0M411.0 271.3h0M413.0 270.8h0M418.9 269.3h0M420.9 268.8h0M422.9 268.4h0M428.8 266.9h0"/>
<path stroke="#009fff" d="M389.2 276.6h0"/>
<path stroke="#0020ff" d="M397.2 274.7h0M424.8 267.9h0"/>
<path stroke="#0000ff" d="M426.8 267.4h0"/>
<path stroke="#0060ff" d="M380.8 276.9h0M382.8 276.4h0M388.8 274.9h0M406.8 270.2h0M414.8 268.2h0M416.8 267.7h0M418.8 267.2h0"/>
<path stroke="#0080ff" d="M384.8 275.9h0M386.8 275.4h0M420.8 266.6h0"/>
<path stroke="#0040ff" d="M390.8 274.4h0M400.8 271.8h0M402.8 271.3h0M404.8 270.8h0M408.8 269.7h0M410.8 269.2h0M412.8 268.7h0M422.8 266.1h0M424.8 265.6h0M426.8 265.1h0M428.8 264.6h0"/>
<path stroke="#0000ff" d="M392.8 273.9h0M394.8 273.3h0M396.8 272.8h0"/>
<path stroke="#0020ff" d="M398.8 272.3h0"/>
<path stroke="#0060ff" d="M380.2 275.3h0M382.2 274.8h0M384.3 274.2h0M398.4 270.4h0M406.5 268.2h0M418.7 265.0h0M422.7 263.9h0M426.8 262.8h0"/>
<path stroke="#0020ff" d="M386.3 273.7h0M394.4 271.5h0M396.4 271.0h0"/>
<path stroke="#0000df" d="M388.3 273.1h0M390.3 272.6h0"/>
<path stroke="#0000ff" d="M392.4 272.0h0"/>
<path stroke="#0040ff" d="M400.5 269.9h0M402.5 269.3h0M404.5 268.8h0"/>
<path stroke="#0080ff" d="M408.6 267.7h0M410.6 267.2h0M414.6 266.1h0M416.7 265.5h0M420.7 264.4h0M424.8 263.4h0M428.8 262.3h0"/>
<path stroke="#00bfff" d="M412.6 266.6h0"/>
<path stroke="#0020ff" d="M379.7 273.6h0M398.1 268.5h0M400.1 267.9h0M402.2 267.4h0M404.2 266.8h0M422.7 261.7h0M424.7 261.1h0M426.8 260.5h0"/>
<path stroke="#0000ff" d="M381.7 273.1h0M383.8 272.5h0M394.0 269.7h0M396.0 269.1h0M428.8 260.0h0"/>
<path stroke="#0000df" d="M385.8 271.9h0M389.9 270.8h0"/>
<path stroke="#0000bf" d="M387.9 271.4h0M392.0 270.2h0"/>
<path stroke="#009fff" d="M406.3 266.2h0M414.5 264.0h0"/>
<path stroke="#00bfff" d="M408.3 265.7h0M410.4 265.1h0"/>
<path stroke="#00dfff" d="M412.4 264.5h0"/>
<path stroke="#0040ff" d="M416.5 263.4h0M418.6 262.8h0"/>
<path stroke="#0060ff" d="M420.6 262.2h0"/>
<path stroke="#0000df" d="M379.1 272.0h0M383.3 270.8h0M385.3 270.2h0"/>
<path stroke="#0000bf" d="M381.2 271.4h0"/>
<path stroke="#0000ff" d="M387.4 269.6h0M389.5 269.0h0M391.5 268.4h0M393.6 267.8h0"/>
<path stroke="#0020ff" d="M395.7 267.2h0"/>
<path stroke="#0040ff" d="M397.7 266.6h0M428.8 257.6h0"/>
<path stroke="#0060ff" d="M399.8 266.0h0M401.9 265.4h0M416.4 261.2h0M418.4 260.6h0M420.5 260.0h0M426.7 258.2h0"/>
<path stroke="#009fff" d="M404.0 264.8h0M408.1 263.6h0"/>
<path stroke="#00dfff" d="M406.0 264.2h0"/>
<path stroke="#0080ff" d="M410.2 263.0h0M414.3 261.8h0M422.6 259.4h0M424.7 258.8h0"/>
<path stroke="#00bfff" d="M412.2 262.4h0"/>
<path stroke="#00009f" d="M378.6 270.3h0M380.7 269.7h0"/>
<path stroke="#0000bf" d="M382.7 269.1h0M389.0 267.2h0"/>
<path stroke="#0000df" d="M384.8 268.5h0M386.9 267.8h0M391.1 266.6h0M393.2 266.0h0M395.3 265.3h0"/>
<path stroke="#0040ff" d="M397.4 264.7h0M399.5 264.1h0M410.0 261.0h0M414.1 259.7h0M418.3 258.5h0M420.4 257.8h0M422.5 257.2h0"/>
<path stroke="#0060ff" d="M401.6 263.5h0M407.9 261.6h0M424.6 256.6h0"/>
<path stroke="#0080ff" d="M403.7 262.8h0M405.8 262.2h0M426.7 256.0h0M428.8 255.3h0"/>
<path stroke="#0020ff" d="M412.1 260.3h0M416.2 259.1h0"/>
<path stroke="#0000df" d="M378.0 268.7h0M380.1 268.0h0M382.2 267.4h0M390.7 264.8h0"/>
<path stroke="#0000bf" d="M384.4 266.7h0M386.5 266.1h0M388.6 265.4h0"/>
<path stroke="#0000ff" d="M392.8 264.1h0"/>
<path stroke="#0040ff" d="M394.9 263.5h0M420.3 255.6h0M422.5 255.0h0M424.6 254.3h0M428.8 253.0h0"/>
<path stroke="#0060ff" d="M397.1 262.8h0M399.2 262.2h0M401.3 261.5h0M403.4 260.9h0M405.5 260.2h0M407.6 259.6h0M409.8 258.9h0M411.9 258.2h0M414.0 257.6h0M416.1 256.9h0M418.2 256.3h0"/>
<path stroke="#0020ff" d="M426.7 253.7h0"/>
<path stroke="#0020ff" d="M377.5 267.0h0M388.2 263.6h0M405.3 258.2h0M409.5 256.8h0M413.8 255.5h0M416.0 254.8h0M426.7 251.4h0M428.8 250.7h0"/>
<path stroke="#0000ff" d="M379.6 266.4h0M386.0 264.3h0M390.3 263.0h0M392.4 262.3h0M407.4 257.5h0M411.7 256.2h0M422.4 252.8h0"/>
<path stroke="#0000df" d="M381.7 265.7h0M383.9 265.0h0M424.5 252.1h0"/>
<path stroke="#0040ff" d="M394.6 261.6h0M398.8 260.2h0M401.0 259.6h0M403.1 258.9h0M418.1 254.1h0M420.2 253.4h0"/>
<path stroke="#0060ff" d="M396.7 260.9h0"/>
<path stroke="#0000df" d="M376.9 265.4h0M379.1 264.7h0M381.2 264.0h0M383.4 263.3h0M413.7 253.4h0M422.3 250.5h0M424.5 249.8h0M426.6 249.1h0"/>
<path stroke="#0000ff" d="M385.5 262.6h0M387.7 261.9h0M389.9 261.1h0M392.0 260.4h0M405.0 256.2h0M407.2 255.5h0M411.5 254.1h0M420.1 251.2h0M428.8 248.4h0"/>
<path stroke="#0040ff" d="M394.2 259.7h0M396.4 259.0h0M398.5 258.3h0M400.7 257.6h0M402.9 256.9h0"/>
<path stroke="#0020ff" d="M409.3 254.8h0M415.8 252.7h0M418.0 251.9h0"/>
</g>
<rect x="441.5" y="95.5" width="23" height="215" fill="url(#jet)" stroke="#262626" stroke-width="1"/>
<path d="M461.7 203H464.5" stroke="#262626" stroke-width="1"/>
<g font-family="'DejaVu Sans','Liberation Sans',sans-serif" font-weight="bold" font-size="21px" fill="#262626">
<text x="473.0" y="103.0">100</text>
<text x="473.0" y="210.4">50</text>
<text x="473.0" y="317.8">0</text>
</g>
<g font-family="'DejaVu Sans','Liberation Sans',sans-serif" font-weight="bold" font-size="12.5px" fill="#262626">
<text x="146.6" y="112.7">48</text><text x="165.6" y="105.4" font-size="9.5px" font-weight="bold">°</text><text x="175.1" y="112.7">N</text>
<text x="146.6" y="130.8">46</text><text x="165.6" y="124.4" font-size="9.5px" font-weight="bold">°</text><text x="175.1" y="130.8">N</text>
<text x="146.6" y="147.8">44</text><text x="165.6" y="141.5" font-size="9.5px" font-weight="bold">°</text><text x="175.1" y="147.8">N</text>
<text x="146.6" y="166.4">42</text><text x="165.6" y="159.3" font-size="9.5px" font-weight="bold">°</text><text x="175.1" y="166.4">N</text>
<text x="146.6" y="182.4">40</text><text x="165.6" y="176.4" font-size="9.5px" font-weight="bold">°</text><text x="175.1" y="182.4">N</text>
<text x="146.6" y="197.7">38</text><text x="165.6" y="191.3" font-size="9.5px" font-weight="bold">°</text><text x="175.1" y="197.7">N</text>
<text x="146.6" y="214.6">36</text><text x="165.6" y="208.1" font-size="9.5px" font-weight="bold">°</text><text x="175.1" y="214.6">N</text>
<text x="146.6" y="229.1">34</text><text x="165.6" y="222.6" font-size="9.5px" font-weight="bold">°</text><text x="175.1" y="229.1">N</text>
<text x="146.6" y="245.8">32</text><text x="165.6" y="239.3" font-size="9.5px" font-weight="bold">°</text><text x="175.1" y="245.8">N</text>
<text x="146.6" y="259.7">30</text><text x="165.6" y="253.2" font-size="9.5px" font-weight="bold">°</text><text x="175.1" y="259.7">N</text>
<text x="146.6" y="272.8">28</text><text x="165.6" y="266.3" font-size="9.5px" font-weight="bold">°</text><text x="175.1" y="272.8">N</text>
<text x="146.6" y="287.7">26</text><text x="165.6" y="281.2" font-size="9.5px" font-weight="bold">°</text><text x="175.1" y="287.7">N</text>
<text x="146.6" y="301.6">24</text><text x="165.6" y="295.1" font-size="9.5px" font-weight="bold">°</text><text x="175.1" y="301.6">N</text>
<text x="146.6" y="314.2">22</text><text x="165.6" y="307.7" font-size="9.5px" font-weight="bold">°</text><text x="175.1" y="314.2">N</text>
<text x="215.1" y="76.7">100</text><text x="242.7" y="70.4" font-size="9.5px" font-weight="bold">°</text><text x="252.6" y="76.9">W</text>
<text x="283.7" y="76.7">90</text><text x="302.9" y="70.4" font-size="9.5px" font-weight="bold">°</text><text x="313.0" y="76.9">W</text>
<text x="347.8" y="76.7">80</text><text x="367.4" y="70.4" font-size="9.5px" font-weight="bold">°</text><text x="377.6" y="76.9">W</text>
<text x="411.1" y="76.7">70</text><text x="429.5" y="70.4" font-size="9.5px" font-weight="bold">°</text><text x="439.7" y="76.9">W</text>
</g>
<text x="140.2" y="340.9" font-family="'DejaVu Sans','Liberation Sans',sans-serif" font-weight="bold" font-size="23px" fill="#262626">SAT 150 hPa RH (Percent)</text>
</g>
<g transform="translate(421.0,0.0)">
<rect x="195.5" y="96.5" width="234.0" height="213.0" fill="#fff" stroke="#262626" stroke-width="1"/>
<use href="#usmapA"/>
<g fill="none" stroke-linecap="round" stroke-width="6.4">
<path stroke="#20ffdf" d="M391.3 308.3h0M394.4 308.3h0"/>
<path stroke="#00ffff" d="M392.9 308.3h0M396.0 308.3h0M428.8 308.5h0"/>
<path stroke="#009fff" d="M397.6 308.3h0M399.1 308.3h0M422.6 308.5h0M427.2 308.5h0"/>
<path stroke="#0080ff" d="M400.7 308.4h0M402.2 308.4h0M417.9 308.4h0"/>
<path stroke="#0060ff" d="M403.8 308.4h0"/>
<path stroke="#0000ff" d="M405.4 308.4h0M408.5 308.4h0"/>
<path stroke="#0020ff" d="M406.9 308.4h0M414.7 308.4h0M416.3 308.4h0"/>
<path stroke="#0000df" d="M410.1 308.4h0M411.6 308.4h0"/>
<path stroke="#0040ff" d="M413.2 308.4h0"/>
<path stroke="#00dfff" d="M419.4 308.4h0M421.0 308.5h0"/>
<path stroke="#00bfff" d="M424.1 308.5h0M425.7 308.5h0"/>
<path stroke="#00bfff" d="M390.7 306.7h0M392.3 306.6h0M398.7 306.6h0M401.8 306.5h0M419.3 306.3h0"/>
<path stroke="#0080ff" d="M393.9 306.6h0M395.5 306.6h0M417.7 306.3h0"/>
<path stroke="#0060ff" d="M397.1 306.6h0M405.0 306.5h0M406.6 306.5h0"/>
<path stroke="#009fff" d="M400.3 306.5h0M403.4 306.5h0"/>
<path stroke="#0040ff" d="M408.2 306.4h0M409.8 306.4h0M411.4 306.4h0M412.9 306.4h0"/>
<path stroke="#0000ff" d="M414.5 306.4h0"/>
<path stroke="#0020ff" d="M416.1 306.3h0"/>
<path stroke="#00ffff" d="M420.9 306.3h0M422.5 306.3h0"/>
<path stroke="#00dfff" d="M424.0 306.2h0M425.6 306.2h0M427.2 306.2h0M428.8 306.2h0"/>
<path stroke="#0080ff" d="M390.2 305.0h0M417.5 304.2h0M419.1 304.2h0M425.6 304.0h0M427.2 303.9h0"/>
<path stroke="#00bfff" d="M391.8 305.0h0M396.6 304.8h0M398.2 304.8h0M401.5 304.7h0"/>
<path stroke="#009fff" d="M393.4 304.9h0M395.0 304.9h0M403.1 304.6h0M428.8 303.9h0"/>
<path stroke="#00dfff" d="M399.8 304.7h0"/>
<path stroke="#0040ff" d="M404.7 304.6h0M407.9 304.5h0M415.9 304.3h0"/>
<path stroke="#0060ff" d="M406.3 304.5h0M420.8 304.1h0M422.4 304.1h0"/>
<path stroke="#0000ff" d="M409.5 304.4h0M411.1 304.4h0"/>
<path stroke="#0000df" d="M412.7 304.3h0"/>
<path stroke="#0000bf" d="M414.3 304.3h0"/>
<path stroke="#0020ff" d="M424.0 304.0h0"/>
<path stroke="#009fff" d="M389.6 303.4h0M402.7 302.8h0M404.3 302.7h0M415.7 302.2h0M420.6 301.9h0M422.3 301.9h0M427.2 301.6h0"/>
<path stroke="#00ffff" d="M391.3 303.3h0M392.9 303.2h0M397.8 303.0h0M399.4 302.9h0"/>
<path stroke="#00bfff" d="M394.5 303.1h0M396.2 303.1h0M401.1 302.8h0M417.4 302.1h0M419.0 302.0h0M428.8 301.6h0"/>
<path stroke="#0080ff" d="M406.0 302.6h0M410.9 302.4h0M412.5 302.3h0M414.1 302.2h0M423.9 301.8h0M425.5 301.7h0"/>
<path stroke="#0040ff" d="M407.6 302.5h0M409.2 302.5h0"/>
<path stroke="#00bfff" d="M389.1 301.7h0M390.7 301.6h0M395.7 301.3h0"/>
<path stroke="#00dfff" d="M392.4 301.5h0M394.0 301.4h0M397.4 301.2h0M399.0 301.1h0M400.7 301.0h0M428.8 299.3h0"/>
<path stroke="#009fff" d="M402.3 300.9h0M418.9 299.9h0M422.2 299.7h0M423.8 299.6h0M425.5 299.5h0M427.1 299.4h0"/>
<path stroke="#0080ff" d="M404.0 300.8h0M412.3 300.3h0M413.9 300.2h0M415.6 300.1h0M417.2 300.0h0M420.5 299.8h0"/>
<path stroke="#0040ff" d="M405.6 300.7h0M407.3 300.6h0M410.6 300.4h0"/>
<path stroke="#0000ff" d="M408.9 300.5h0"/>
<path stroke="#00bfff" d="M388.5 300.1h0M398.6 299.3h0M420.4 297.6h0M423.8 297.3h0"/>
<path stroke="#009fff" d="M390.2 299.9h0M393.6 299.7h0M395.2 299.5h0M400.3 299.1h0M418.7 297.7h0M422.1 297.5h0M425.4 297.2h0"/>
<path stroke="#0080ff" d="M391.9 299.8h0M402.0 299.0h0M415.4 298.0h0M417.1 297.8h0M427.1 297.1h0M428.8 296.9h0"/>
<path stroke="#00dfff" d="M396.9 299.4h0"/>
<path stroke="#0060ff" d="M403.6 298.9h0M405.3 298.8h0M412.0 298.2h0M413.7 298.1h0"/>
<path stroke="#0020ff" d="M407.0 298.6h0M408.7 298.5h0M410.3 298.4h0"/>
<path stroke="#00bfff" d="M388.0 298.4h0M389.7 298.2h0M398.2 297.5h0M399.9 297.3h0M415.2 295.9h0M416.9 295.7h0M418.6 295.6h0M420.3 295.4h0M422.0 295.3h0"/>
<path stroke="#00ffff" d="M391.4 298.1h0M393.1 297.9h0M413.5 296.0h0"/>
<path stroke="#00dfff" d="M394.8 297.8h0M396.5 297.6h0"/>
<path stroke="#0040ff" d="M401.6 297.1h0M408.4 296.5h0"/>
<path stroke="#0020ff" d="M403.3 297.0h0M405.0 296.8h0"/>
<path stroke="#0000ff" d="M406.7 296.7h0"/>
<path stroke="#0060ff" d="M410.1 296.4h0"/>
<path stroke="#009fff" d="M411.8 296.2h0M423.7 295.1h0M425.4 294.9h0M427.1 294.8h0"/>
<path stroke="#0080ff" d="M428.8 294.6h0"/>
<path stroke="#00bfff" d="M387.4 296.8h0M392.6 296.2h0M396.0 295.8h0M397.8 295.6h0M399.5 295.5h0M411.6 294.2h0M413.3 294.0h0"/>
<path stroke="#009fff" d="M389.1 296.6h0M394.3 296.0h0M401.2 295.3h0M404.7 294.9h0M406.4 294.7h0M408.1 294.5h0"/>
<path stroke="#0080ff" d="M390.9 296.4h0M402.9 295.1h0M409.8 294.4h0"/>
<path stroke="#00ffff" d="M415.0 293.8h0M416.7 293.6h0M423.6 292.9h0M425.4 292.7h0M427.1 292.5h0"/>
<path stroke="#40ffbf" d="M418.5 293.4h0M420.2 293.2h0M421.9 293.1h0"/>
<path stroke="#00dfff" d="M428.8 292.3h0"/>
<path stroke="#00dfff" d="M386.9 295.1h0M390.4 294.7h0M392.1 294.5h0M393.9 294.3h0M395.6 294.0h0M399.1 293.6h0M423.6 290.6h0M425.3 290.4h0M427.1 290.2h0"/>
<path stroke="#00ffff" d="M388.6 294.9h0M409.6 292.3h0M414.8 291.7h0"/>
<path stroke="#00bfff" d="M397.4 293.8h0M407.8 292.6h0M416.6 291.5h0M418.3 291.3h0M421.8 290.9h0M428.8 290.0h0"/>
<path stroke="#009fff" d="M400.8 293.4h0M420.1 291.1h0"/>
<path stroke="#0080ff" d="M402.6 293.2h0"/>
<path stroke="#0060ff" d="M404.3 293.0h0M406.1 292.8h0"/>
<path stroke="#60ff9f" d="M411.3 292.1h0"/>
<path stroke="#20ffdf" d="M413.1 291.9h0"/>
<path stroke="#00ffff" d="M386.3 293.4h0M407.6 290.6h0"/>
<path stroke="#00dfff" d="M388.1 293.2h0M389.9 293.0h0M391.6 292.7h0M393.4 292.5h0M402.2 291.3h0M405.8 290.8h0M409.3 290.3h0M411.1 290.1h0"/>
<path stroke="#00bfff" d="M395.2 292.3h0M396.9 292.0h0M404.0 291.1h0M412.9 289.9h0M423.5 288.4h0M425.3 288.2h0"/>
<path stroke="#009fff" d="M398.7 291.8h0M414.6 289.6h0M418.2 289.1h0M419.9 288.9h0M421.7 288.7h0M427.0 287.9h0M428.8 287.7h0"/>
<path stroke="#0080ff" d="M400.5 291.5h0M416.4 289.4h0"/>
<path stroke="#00dfff" d="M385.8 291.8h0M387.6 291.5h0M419.8 286.7h0M421.6 286.5h0M423.4 286.2h0M428.8 285.4h0"/>
<path stroke="#009fff" d="M389.3 291.3h0M394.7 290.5h0M400.1 289.7h0M403.7 289.1h0M405.5 288.9h0M410.9 288.1h0M412.7 287.8h0M425.2 285.9h0"/>
<path stroke="#0080ff" d="M391.1 291.0h0M392.9 290.7h0M414.5 287.5h0M416.2 287.3h0M427.0 285.7h0"/>
<path stroke="#00bfff" d="M396.5 290.2h0M398.3 289.9h0M401.9 289.4h0M407.3 288.6h0M409.1 288.3h0M418.0 287.0h0"/>
<path stroke="#00bfff" d="M385.2 290.1h0M397.9 288.1h0M399.7 287.8h0M403.4 287.2h0"/>
<path stroke="#0060ff" d="M387.0 289.9h0M390.7 289.3h0"/>
<path stroke="#0040ff" d="M388.8 289.6h0M392.5 289.0h0"/>
<path stroke="#0000ff" d="M394.3 288.7h0"/>
<path stroke="#0020ff" d="M396.1 288.4h0"/>
<path stroke="#009fff" d="M401.6 287.5h0M405.2 286.9h0M410.6 286.0h0"/>
<path stroke="#0080ff" d="M407.0 286.6h0M408.8 286.3h0"/>
<path stroke="#00dfff" d="M412.5 285.7h0"/>
<path stroke="#00ffff" d="M414.3 285.4h0M416.1 285.1h0M427.0 283.4h0M428.8 283.1h0"/>
<path stroke="#20ffdf" d="M417.9 284.8h0M419.7 284.5h0M421.5 284.3h0M423.4 284.0h0M425.2 283.7h0"/>
<path stroke="#0000ff" d="M384.7 288.5h0M390.2 287.5h0"/>
<path stroke="#0020ff" d="M386.5 288.2h0M388.3 287.9h0M392.0 287.2h0M393.9 286.9h0"/>
<path stroke="#0000df" d="M395.7 286.6h0"/>
<path stroke="#0040ff" d="M397.5 286.2h0"/>
<path stroke="#0060ff" d="M399.4 285.9h0M401.2 285.6h0M408.6 284.3h0"/>
<path stroke="#00bfff" d="M403.0 285.3h0M404.9 285.0h0M410.4 284.0h0M412.2 283.7h0M419.6 282.4h0"/>
<path stroke="#0080ff" d="M406.7 284.6h0"/>
<path stroke="#00dfff" d="M414.1 283.3h0M421.4 282.1h0M423.3 281.7h0M428.8 280.8h0"/>
<path stroke="#00ffff" d="M415.9 283.0h0"/>
<path stroke="#009fff" d="M417.8 282.7h0M425.1 281.4h0M427.0 281.1h0"/>
<path stroke="#0020ff" d="M384.1 286.9h0M386.0 286.5h0"/>
<path stroke="#0000ff" d="M387.8 286.1h0M395.3 284.8h0"/>
<path stroke="#0000df" d="M389.7 285.8h0M391.5 285.5h0"/>
<path stroke="#0000bf" d="M393.4 285.1h0"/>
<path stroke="#0060ff" d="M397.1 284.4h0"/>
<path stroke="#009fff" d="M399.0 284.1h0M402.7 283.4h0M404.6 283.0h0M410.2 281.9h0M428.8 278.4h0"/>
<path stroke="#00bfff" d="M400.9 283.7h0M408.3 282.3h0M412.0 281.6h0M413.9 281.2h0M426.9 278.8h0"/>
<path stroke="#0080ff" d="M406.5 282.6h0"/>
<path stroke="#00dfff" d="M415.8 280.9h0M417.6 280.6h0M425.1 279.1h0"/>
<path stroke="#00ffff" d="M419.5 280.2h0M421.4 279.9h0M423.2 279.5h0"/>
<path stroke="#0000ff" d="M383.5 285.2h0"/>
<path stroke="#0000df" d="M385.4 284.8h0"/>
<path stroke="#0060ff" d="M387.3 284.4h0M393.0 283.3h0"/>
<path stroke="#0040ff" d="M389.2 284.1h0"/>
<path stroke="#0020ff" d="M391.1 283.7h0"/>
<path stroke="#00ffff" d="M394.9 282.9h0M402.4 281.4h0M406.2 280.7h0M408.1 280.3h0M421.3 277.6h0M423.1 277.3h0M428.8 276.1h0"/>
<path stroke="#60ff9f" d="M396.7 282.6h0"/>
<path stroke="#9fff60" d="M398.6 282.2h0M400.5 281.8h0"/>
<path stroke="#00bfff" d="M404.3 281.0h0M411.8 279.5h0M415.6 278.8h0M417.5 278.4h0M425.0 276.9h0M426.9 276.5h0"/>
<path stroke="#009fff" d="M409.9 279.9h0"/>
<path stroke="#00dfff" d="M413.7 279.2h0M419.4 278.0h0"/>
<path stroke="#00bfff" d="M383.0 283.6h0M388.7 282.3h0M417.3 276.3h0M423.1 275.0h0M425.0 274.6h0"/>
<path stroke="#009fff" d="M384.9 283.1h0M421.2 275.4h0"/>
<path stroke="#0080ff" d="M386.8 282.7h0M419.3 275.9h0"/>
<path stroke="#20ffdf" d="M390.6 281.9h0"/>
<path stroke="#bfff40" d="M392.5 281.5h0"/>
<path stroke="#ffff00" d="M394.4 281.1h0M396.4 280.7h0"/>
<path stroke="#ffdf00" d="M398.3 280.3h0M400.2 279.9h0"/>
<path stroke="#dfff20" d="M402.1 279.5h0"/>
<path stroke="#60ff9f" d="M404.0 279.1h0M413.5 277.1h0"/>
<path stroke="#40ffbf" d="M405.9 278.7h0"/>
<path stroke="#80ff80" d="M407.8 278.3h0M409.7 277.9h0M411.6 277.5h0"/>
<path stroke="#00ffff" d="M415.4 276.7h0M426.9 274.2h0M428.8 273.8h0"/>
<path stroke="#00dfff" d="M382.4 281.9h0M417.2 274.1h0M428.8 271.5h0"/>
<path stroke="#00ffff" d="M384.4 281.5h0"/>
<path stroke="#20ffdf" d="M386.3 281.0h0"/>
<path stroke="#9fff60" d="M388.2 280.6h0M405.6 276.7h0"/>
<path stroke="#dfff20" d="M390.2 280.2h0"/>
<path stroke="#ffdf00" d="M392.1 279.7h0M403.7 277.1h0"/>
<path stroke="#ff9f00" d="M394.0 279.3h0"/>
<path stroke="#ff8000" d="M396.0 278.9h0M397.9 278.4h0M399.8 278.0h0M401.8 277.6h0"/>
<path stroke="#80ff80" d="M407.6 276.3h0M409.5 275.8h0"/>
<path stroke="#60ff9f" d="M411.4 275.4h0M415.3 274.5h0"/>
<path stroke="#40ffbf" d="M413.3 275.0h0"/>
<path stroke="#009fff" d="M419.1 273.7h0"/>
<path stroke="#00bfff" d="M421.1 273.2h0M423.0 272.8h0"/>
<path stroke="#0080ff" d="M424.9 272.4h0M426.9 271.9h0"/>
<path stroke="#20ffdf" d="M381.9 280.2h0"/>
<path stroke="#60ff9f" d="M383.8 279.8h0"/>
<path stroke="#80ff80" d="M385.8 279.3h0M409.3 273.8h0"/>
<path stroke="#dfff20" d="M387.7 278.9h0M389.7 278.4h0M395.6 277.0h0"/>
<path stroke="#ffff00" d="M391.7 277.9h0M393.6 277.5h0M397.5 276.6h0M399.5 276.1h0M401.4 275.6h0"/>
<path stroke="#bfff40" d="M403.4 275.2h0"/>
<path stroke="#9fff60" d="M405.3 274.7h0M407.3 274.3h0"/>
<path stroke="#40ffbf" d="M411.2 273.3h0M413.2 272.9h0"/>
<path stroke="#00ffff" d="M415.1 272.4h0"/>
<path stroke="#00bfff" d="M417.1 272.0h0"/>
<path stroke="#0080ff" d="M419.0 271.5h0M421.0 271.0h0M422.9 270.6h0M424.9 270.1h0M426.8 269.7h0M428.8 269.2h0"/>
<path stroke="#ff2000" d="M381.3 278.6h0M383.3 278.1h0M385.3 277.6h0"/>
<path stroke="#ff6000" d="M387.3 277.1h0"/>
<path stroke="#ffbf00" d="M389.2 276.6h0M391.2 276.2h0"/>
<path stroke="#ff9f00" d="M393.2 275.7h0M395.2 275.2h0"/>
<path stroke="#ff8000" d="M397.2 274.7h0M399.1 274.2h0M401.1 273.7h0M403.1 273.2h0"/>
<path stroke="#dfff20" d="M405.1 272.7h0"/>
<path stroke="#9fff60" d="M407.0 272.3h0M413.0 270.8h0"/>
<path stroke="#bfff40" d="M409.0 271.8h0M411.0 271.3h0"/>
<path stroke="#20ffdf" d="M415.0 270.3h0"/>
<path stroke="#009fff" d="M416.9 269.8h0M422.9 268.4h0"/>
<path stroke="#0060ff" d="M418.9 269.3h0"/>
<path stroke="#0080ff" d="M420.9 268.8h0"/>
<path stroke="#00dfff" d="M424.8 267.9h0"/>
<path stroke="#00ffff" d="M426.8 267.4h0M428.8 266.9h0"/>
<path stroke="#ff2000" d="M380.8 276.9h0"/>
<path stroke="#df0000" d="M382.8 276.4h0M384.8 275.9h0"/>
<path stroke="#ff4000" d="M386.8 275.4h0"/>
<path stroke="#ffdf00" d="M388.8 274.9h0M398.8 272.3h0"/>
<path stroke="#bfff40" d="M390.8 274.4h0"/>
<path stroke="#9fff60" d="M392.8 273.9h0"/>
<path stroke="#dfff20" d="M394.8 273.3h0M396.8 272.8h0M402.8 271.3h0"/>
<path stroke="#ffff00" d="M400.8 271.8h0"/>
<path stroke="#60ff9f" d="M404.8 270.8h0"/>
<path stroke="#00dfff" d="M406.8 270.2h0M422.8 266.1h0"/>
<path stroke="#00bfff" d="M408.8 269.7h0M410.8 269.2h0M412.8 268.7h0M420.8 266.6h0"/>
<path stroke="#0080ff" d="M414.8 268.2h0M416.8 267.7h0"/>
<path stroke="#009fff" d="M418.8 267.2h0"/>
<path stroke="#20ffdf" d="M424.8 265.6h0"/>
<path stroke="#00ffff" d="M426.8 265.1h0M428.8 264.6h0"/>
<path stroke="#bf0000" d="M380.2 275.3h0"/>
<path stroke="#ff2000" d="M382.2 274.8h0"/>
<path stroke="#ff0000" d="M384.3 274.2h0M386.3 273.7h0"/>
<path stroke="#ffbf00" d="M388.3 273.1h0"/>
<path stroke="#ffff00" d="M390.3 272.6h0M412.6 266.6h0"/>
<path stroke="#ffdf00" d="M392.4 272.0h0M400.5 269.9h0"/>
<path stroke="#ff9f00" d="M394.4 271.5h0"/>
<path stroke="#ff8000" d="M396.4 271.0h0M398.4 270.4h0"/>
<path stroke="#bfff40" d="M402.5 269.3h0"/>
<path stroke="#20ffdf" d="M404.5 268.8h0M414.6 266.1h0M424.8 263.4h0M426.8 262.8h0"/>
<path stroke="#00dfff" d="M406.5 268.2h0"/>
<path stroke="#00ffff" d="M408.6 267.7h0M416.7 265.5h0M418.7 265.0h0M428.8 262.3h0"/>
<path stroke="#60ff9f" d="M410.6 267.2h0"/>
<path stroke="#40ffbf" d="M420.7 264.4h0M422.7 263.9h0"/>
<path stroke="#ff0000" d="M379.7 273.6h0M381.7 273.1h0M410.4 265.1h0"/>
<path stroke="#ff4000" d="M383.8 272.5h0"/>
<path stroke="#ff6000" d="M385.8 271.9h0"/>
<path stroke="#bfff40" d="M387.9 271.4h0M400.1 267.9h0"/>
<path stroke="#ffdf00" d="M389.9 270.8h0M392.0 270.2h0M394.0 269.7h0M398.1 268.5h0"/>
<path stroke="#ffbf00" d="M396.0 269.1h0"/>
<path stroke="#20ffdf" d="M402.2 267.4h0M418.6 262.8h0"/>
<path stroke="#009fff" d="M404.2 266.8h0M412.4 264.5h0"/>
<path stroke="#00dfff" d="M406.3 266.2h0"/>
<path stroke="#00bfff" d="M408.3 265.7h0M416.5 263.4h0"/>
<path stroke="#0080ff" d="M414.5 264.0h0"/>
<path stroke="#40ffbf" d="M420.6 262.2h0"/>
<path stroke="#80ff80" d="M422.7 261.7h0"/>
<path stroke="#60ff9f" d="M424.7 261.1h0M426.8 260.5h0M428.8 260.0h0"/>
<path stroke="#df0000" d="M379.1 272.0h0M381.2 271.4h0"/>
<path stroke="#ff4000" d="M383.3 270.8h0"/>
<path stroke="#dfff20" d="M385.3 270.2h0M393.6 267.8h0M395.7 267.2h0"/>
<path stroke="#ffff00" d="M387.4 269.6h0M391.5 268.4h0"/>
<path stroke="#ffdf00" d="M389.5 269.0h0"/>
<path stroke="#bfff40" d="M397.7 266.6h0"/>
<path stroke="#40ffbf" d="M399.8 266.0h0M420.5 260.0h0"/>
<path stroke="#20ffdf" d="M401.9 265.4h0M422.6 259.4h0M428.8 257.6h0"/>
<path stroke="#60ff9f" d="M404.0 264.8h0M408.1 263.6h0M410.2 263.0h0M416.4 261.2h0M418.4 260.6h0"/>
<path stroke="#9fff60" d="M406.0 264.2h0"/>
<path stroke="#00dfff" d="M412.2 262.4h0M424.7 258.8h0M426.7 258.2h0"/>
<path stroke="#00ffff" d="M414.3 261.8h0"/>
<path stroke="#60ff9f" d="M378.6 270.3h0"/>
<path stroke="#20ffdf" d="M380.7 269.7h0M384.8 268.5h0M405.8 262.2h0M407.9 261.6h0M410.0 261.0h0M412.1 260.3h0"/>
<path stroke="#00bfff" d="M382.7 269.1h0M424.6 256.6h0"/>
<path stroke="#ffbf00" d="M386.9 267.8h0"/>
<path stroke="#ff0000" d="M389.0 267.2h0M393.2 266.0h0"/>
<path stroke="#df0000" d="M391.1 266.6h0"/>
<path stroke="#ffff00" d="M395.3 265.3h0"/>
<path stroke="#00ffff" d="M397.4 264.7h0M401.6 263.5h0M403.7 262.8h0"/>
<path stroke="#009fff" d="M399.5 264.1h0"/>
<path stroke="#00dfff" d="M414.1 259.7h0M416.2 259.1h0M418.3 258.5h0M420.4 257.8h0M422.5 257.2h0M426.7 256.0h0M428.8 255.3h0"/>
<path stroke="#00bfff" d="M378.0 268.7h0M428.8 253.0h0"/>
<path stroke="#20ffdf" d="M380.1 268.0h0M401.3 261.5h0M414.0 257.6h0M416.1 256.9h0M420.3 255.6h0"/>
<path stroke="#df0000" d="M382.2 267.4h0"/>
<path stroke="#bf0000" d="M384.4 266.7h0M394.9 263.5h0"/>
<path stroke="#9f0000" d="M386.5 266.1h0M388.6 265.4h0M392.8 264.1h0"/>
<path stroke="#800000" d="M390.7 264.8h0"/>
<path stroke="#ffbf00" d="M397.1 262.8h0"/>
<path stroke="#00dfff" d="M399.2 262.2h0M424.6 254.3h0M426.7 253.7h0"/>
<path stroke="#00ffff" d="M403.4 260.9h0M405.5 260.2h0M422.5 255.0h0"/>
<path stroke="#40ffbf" d="M407.6 259.6h0M418.2 256.3h0"/>
<path stroke="#80ff80" d="M409.8 258.9h0"/>
<path stroke="#60ff9f" d="M411.9 258.2h0"/>
<path stroke="#ff6000" d="M377.5 267.0h0"/>
<path stroke="#800000" d="M379.6 266.4h0M381.7 265.7h0M383.9 265.0h0M386.0 264.3h0M388.2 263.6h0M390.3 263.0h0M392.4 262.3h0M394.6 261.6h0"/>
<path stroke="#df0000" d="M396.7 260.9h0"/>
<path stroke="#20ffdf" d="M398.8 260.2h0M413.8 255.5h0M416.0 254.8h0M420.2 253.4h0"/>
<path stroke="#40ffbf" d="M401.0 259.6h0M403.1 258.9h0M418.1 254.1h0M426.7 251.4h0M428.8 250.7h0"/>
<path stroke="#00ffff" d="M405.3 258.2h0M407.4 257.5h0M422.4 252.8h0"/>
<path stroke="#00dfff" d="M409.5 256.8h0M411.7 256.2h0M424.5 252.1h0"/>
<path stroke="#9f0000" d="M376.9 265.4h0"/>
<path stroke="#800000" d="M379.1 264.7h0M381.2 264.0h0M383.4 263.3h0M385.5 262.6h0M387.7 261.9h0M389.9 261.1h0M392.0 260.4h0"/>
<path stroke="#df0000" d="M394.2 259.7h0"/>
<path stroke="#40ffbf" d="M396.4 259.0h0M402.9 256.9h0M405.0 256.2h0"/>
<path stroke="#009fff" d="M398.5 258.3h0M428.8 248.4h0"/>
<path stroke="#00dfff" d="M400.7 257.6h0M422.3 250.5h0"/>
<path stroke="#00ffff" d="M407.2 255.5h0M409.3 254.8h0M411.5 254.1h0M418.0 251.9h0M420.1 251.2h0M424.5 249.8h0"/>
<path stroke="#20ffdf" d="M413.7 253.4h0M415.8 252.7h0M426.6 249.1h0"/>
</g>
<rect x="441.5" y="95.5" width="23" height="215" fill="url(#jet)" stroke="#262626" stroke-width="1"/>
<path d="M461.7 203H464.5" stroke="#262626" stroke-width="1"/>
<g font-family="'DejaVu Sans','Liberation Sans',sans-serif" font-weight="bold" font-size="21px" fill="#262626">
<text x="473.0" y="103.0">100</text>
<text x="473.0" y="210.4">50</text>
<text x="473.0" y="317.8">0</text>
</g>
<g font-family="'DejaVu Sans','Liberation Sans',sans-serif" font-weight="bold" font-size="12.5px" fill="#262626">
<text x="146.6" y="112.7">48</text><text x="165.6" y="105.4" font-size="9.5px" font-weight="bold">°</text><text x="175.1" y="112.7">N</text>
<text x="146.6" y="130.8">46</text><text x="165.6" y="124.4" font-size="9.5px" font-weight="bold">°</text><text x="175.1" y="130.8">N</text>
<text x="146.6" y="147.8">44</text><text x="165.6" y="141.5" font-size="9.5px" font-weight="bold">°</text><text x="175.1" y="147.8">N</text>
<text x="146.6" y="166.4">42</text><text x="165.6" y="159.3" font-size="9.5px" font-weight="bold">°</text><text x="175.1" y="166.4">N</text>
<text x="146.6" y="182.4">40</text><text x="165.6" y="176.4" font-size="9.5px" font-weight="bold">°</text><text x="175.1" y="182.4">N</text>
<text x="146.6" y="197.7">38</text><text x="165.6" y="191.3" font-size="9.5px" font-weight="bold">°</text><text x="175.1" y="197.7">N</text>
<text x="146.6" y="214.6">36</text><text x="165.6" y="208.1" font-size="9.5px" font-weight="bold">°</text><text x="175.1" y="214.6">N</text>
<text x="146.6" y="229.1">34</text><text x="165.6" y="222.6" font-size="9.5px" font-weight="bold">°</text><text x="175.1" y="229.1">N</text>
<text x="146.6" y="245.8">32</text><text x="165.6" y="239.3" font-size="9.5px" font-weight="bold">°</text><text x="175.1" y="245.8">N</text>
<text x="146.6" y="259.7">30</text><text x="165.6" y="253.2" font-size="9.5px" font-weight="bold">°</text><text x="175.1" y="259.7">N</text>
<text x="146.6" y="272.8">28</text><text x="165.6" y="266.3" font-size="9.5px" font-weight="bold">°</text><text x="175.1" y="272.8">N</text>
<text x="146.6" y="287.7">26</text><text x="165.6" y="281.2" font-size="9.5px" font-weight="bold">°</text><text x="175.1" y="287.7">N</text>
<text x="146.6" y="301.6">24</text><text x="165.6" y="295.1" font-size="9.5px" font-weight="bold">°</text><text x="175.1" y="301.6">N</text>
<text x="146.6" y="314.2">22</text><text x="165.6" y="307.7" font-size="9.5px" font-weight="bold">°</text><text x="175.1" y="314.2">N</text>
<text x="215.1" y="76.7">100</text><text x="242.7" y="70.4" font-size="9.5px" font-weight="bold">°</text><text x="252.6" y="76.9">W</text>
<text x="283.7" y="76.7">90</text><text x="302.9" y="70.4" font-size="9.5px" font-weight="bold">°</text><text x="313.0" y="76.9">W</text>
<text x="347.8" y="76.7">80</text><text x="367.4" y="70.4" font-size="9.5px" font-weight="bold">°</text><text x="377.6" y="76.9">W</text>
<text x="411.1" y="76.7">70</text><text x="429.5" y="70.4" font-size="9.5px" font-weight="bold">°</text><text x="439.7" y="76.9">W</text>
</g>
<text x="140.2" y="340.9" font-family="'DejaVu Sans','Liberation Sans',sans-serif" font-weight="bold" font-size="23px" fill="#262626">SAT 200 hPa RH (Percent)</text>
</g>
<g transform="translate(842.5,0.0)">
<rect x="195.0" y="95.5" width="235.0" height="215.0" fill="#fff" stroke="#262626" stroke-width="1"/>
<use href="#usmapB"/>
<g fill="none" stroke-linecap="round" stroke-width="6.4">
<path stroke="#0060ff" d="M392.6 309.3h0M394.2 309.3h0M400.5 309.3h0M403.6 309.3h0M417.7 309.4h0M419.3 309.4h0"/>
<path stroke="#0040ff" d="M395.8 309.3h0M397.3 309.3h0M398.9 309.3h0M402.1 309.3h0M408.3 309.4h0M409.9 309.4h0M411.5 309.4h0M413.0 309.4h0M414.6 309.4h0M416.2 309.4h0M422.5 309.4h0M427.2 309.5h0M430.3 309.5h0"/>
<path stroke="#0020ff" d="M405.2 309.4h0M406.8 309.4h0M420.9 309.4h0M428.7 309.5h0"/>
<path stroke="#0000ff" d="M424.0 309.5h0M425.6 309.5h0"/>
<path stroke="#0080ff" d="M392.1 307.6h0M395.3 307.6h0M422.3 307.3h0M425.5 307.2h0M428.7 307.2h0M430.3 307.2h0"/>
<path stroke="#0060ff" d="M393.7 307.6h0M423.9 307.2h0M427.1 307.2h0"/>
<path stroke="#0040ff" d="M396.9 307.6h0M398.4 307.5h0M400.0 307.5h0M401.6 307.5h0M416.0 307.3h0M417.6 307.3h0M420.7 307.3h0"/>
<path stroke="#0020ff" d="M403.2 307.5h0M404.8 307.5h0M406.4 307.4h0M408.0 307.4h0M411.2 307.4h0M412.8 307.4h0M419.2 307.3h0"/>
<path stroke="#0000ff" d="M409.6 307.4h0M414.4 307.4h0"/>
<path stroke="#0080ff" d="M391.5 306.0h0M393.1 305.9h0M399.6 305.7h0M412.5 305.3h0M414.1 305.3h0M415.8 305.2h0M417.4 305.2h0M419.0 305.2h0M420.6 305.1h0M423.8 305.0h0"/>
<path stroke="#009fff" d="M394.8 305.9h0M396.4 305.8h0M422.2 305.1h0M425.5 305.0h0"/>
<path stroke="#0060ff" d="M398.0 305.8h0M404.4 305.6h0M406.1 305.5h0M407.7 305.5h0M409.3 305.4h0M410.9 305.4h0"/>
<path stroke="#0040ff" d="M401.2 305.7h0M402.8 305.6h0"/>
<path stroke="#00bfff" d="M427.1 304.9h0"/>
<path stroke="#00ffff" d="M428.7 304.9h0M430.3 304.8h0"/>
<path stroke="#00bfff" d="M391.0 304.3h0M423.7 302.8h0M425.4 302.7h0"/>
<path stroke="#009fff" d="M392.6 304.2h0M405.7 303.6h0M407.4 303.5h0M420.5 302.9h0"/>
<path stroke="#0080ff" d="M394.2 304.1h0M395.9 304.1h0M399.2 303.9h0M400.8 303.8h0M402.4 303.8h0M404.1 303.7h0M410.6 303.4h0M413.9 303.2h0M415.5 303.2h0M418.8 303.0h0M422.1 302.9h0"/>
<path stroke="#0060ff" d="M397.5 304.0h0M409.0 303.5h0M412.3 303.3h0M417.2 303.1h0"/>
<path stroke="#00ffff" d="M427.0 302.6h0M428.7 302.6h0M430.3 302.5h0"/>
<path stroke="#009fff" d="M390.4 302.6h0M398.7 302.1h0M400.4 302.0h0M405.4 301.7h0M408.7 301.5h0"/>
<path stroke="#00bfff" d="M392.1 302.5h0M393.7 302.4h0M395.4 302.3h0M407.0 301.6h0M410.4 301.4h0M412.0 301.3h0"/>
<path stroke="#0080ff" d="M397.1 302.2h0M402.0 301.9h0M403.7 301.8h0"/>
<path stroke="#00dfff" d="M413.7 301.2h0M415.3 301.1h0M417.0 301.0h0M418.7 300.9h0"/>
<path stroke="#00ffff" d="M420.3 300.8h0M422.0 300.7h0"/>
<path stroke="#20ffdf" d="M423.6 300.6h0M430.3 300.2h0"/>
<path stroke="#40ffbf" d="M425.3 300.5h0M427.0 300.4h0M428.6 300.3h0"/>
<path stroke="#00bfff" d="M389.9 301.0h0M391.5 300.8h0M393.2 300.7h0M394.9 300.6h0M413.4 299.1h0"/>
<path stroke="#00dfff" d="M396.6 300.4h0M398.3 300.3h0M400.0 300.2h0"/>
<path stroke="#00ffff" d="M401.7 300.0h0M403.3 299.9h0M415.1 299.0h0M425.2 298.2h0M426.9 298.1h0"/>
<path stroke="#009fff" d="M405.0 299.8h0M406.7 299.7h0M410.1 299.4h0M411.8 299.3h0"/>
<path stroke="#0080ff" d="M408.4 299.5h0"/>
<path stroke="#60ff9f" d="M416.8 298.9h0"/>
<path stroke="#9fff60" d="M418.5 298.7h0M421.9 298.5h0"/>
<path stroke="#bfff40" d="M420.2 298.6h0"/>
<path stroke="#40ffbf" d="M423.6 298.3h0M428.6 298.0h0"/>
<path stroke="#20ffdf" d="M430.3 297.8h0"/>
<path stroke="#00dfff" d="M389.3 299.3h0M391.0 299.1h0M392.7 299.0h0M394.4 298.8h0M404.7 297.9h0M411.5 297.2h0"/>
<path stroke="#009fff" d="M396.1 298.7h0M408.1 297.6h0"/>
<path stroke="#00bfff" d="M397.8 298.5h0M399.5 298.3h0M401.3 298.2h0M403.0 298.0h0M409.8 297.4h0"/>
<path stroke="#0080ff" d="M406.4 297.7h0"/>
<path stroke="#00ffff" d="M413.2 297.1h0"/>
<path stroke="#60ff9f" d="M414.9 296.9h0M425.2 296.0h0"/>
<path stroke="#dfff20" d="M416.6 296.8h0M418.3 296.6h0"/>
<path stroke="#9fff60" d="M420.0 296.4h0M423.5 296.1h0"/>
<path stroke="#bfff40" d="M421.8 296.3h0"/>
<path stroke="#40ffbf" d="M426.9 295.8h0M428.6 295.6h0"/>
<path stroke="#20ffdf" d="M430.3 295.5h0"/>
<path stroke="#00dfff" d="M388.7 297.6h0M390.5 297.4h0M395.7 296.9h0M399.1 296.5h0M400.9 296.3h0"/>
<path stroke="#20ffdf" d="M392.2 297.3h0M409.5 295.4h0M414.7 294.8h0"/>
<path stroke="#00bfff" d="M393.9 297.1h0M397.4 296.7h0"/>
<path stroke="#00ffff" d="M402.6 296.1h0M404.3 296.0h0M406.1 295.8h0M407.8 295.6h0M411.3 295.2h0M413.0 295.0h0M426.8 293.5h0M428.6 293.3h0M430.3 293.2h0"/>
<path stroke="#9fff60" d="M416.4 294.6h0M419.9 294.3h0"/>
<path stroke="#bfff40" d="M418.2 294.5h0M421.6 294.1h0M423.4 293.9h0"/>
<path stroke="#60ff9f" d="M425.1 293.7h0"/>
<path stroke="#00dfff" d="M388.2 296.0h0M402.2 294.3h0M407.5 293.6h0"/>
<path stroke="#00ffff" d="M389.9 295.8h0M391.7 295.5h0M395.2 295.1h0M400.5 294.5h0M404.0 294.0h0M405.7 293.8h0M409.2 293.4h0M411.0 293.2h0M428.5 291.0h0M430.3 290.8h0"/>
<path stroke="#20ffdf" d="M393.5 295.3h0M397.0 294.9h0M398.7 294.7h0M412.8 293.0h0M414.5 292.8h0M426.8 291.3h0"/>
<path stroke="#60ff9f" d="M416.3 292.5h0M423.3 291.7h0M425.0 291.5h0"/>
<path stroke="#80ff80" d="M418.0 292.3h0"/>
<path stroke="#9fff60" d="M419.8 292.1h0M421.5 291.9h0"/>
<path stroke="#00ffff" d="M387.6 294.3h0M394.7 293.3h0M410.7 291.2h0M412.5 290.9h0M417.9 290.2h0M419.6 289.9h0M421.4 289.7h0M423.2 289.5h0M426.7 289.0h0"/>
<path stroke="#00bfff" d="M389.4 294.1h0M391.2 293.8h0"/>
<path stroke="#00dfff" d="M393.0 293.6h0"/>
<path stroke="#20ffdf" d="M396.5 293.1h0M398.3 292.8h0M401.9 292.4h0M403.6 292.1h0M405.4 291.9h0M416.1 290.4h0M425.0 289.2h0"/>
<path stroke="#40ffbf" d="M400.1 292.6h0M407.2 291.6h0M409.0 291.4h0M414.3 290.7h0M428.5 288.7h0M430.3 288.5h0"/>
<path stroke="#0080ff" d="M387.1 292.6h0M388.9 292.4h0M396.1 291.3h0"/>
<path stroke="#0060ff" d="M390.7 292.1h0M392.5 291.8h0M394.3 291.6h0"/>
<path stroke="#00bfff" d="M397.9 291.0h0"/>
<path stroke="#00ffff" d="M399.7 290.7h0M414.1 288.6h0"/>
<path stroke="#20ffdf" d="M401.5 290.5h0M406.9 289.7h0M408.7 289.4h0M410.5 289.1h0M412.3 288.9h0M415.9 288.3h0M423.1 287.2h0M424.9 287.0h0"/>
<path stroke="#40ffbf" d="M403.3 290.2h0M405.1 289.9h0M417.7 288.0h0M419.5 287.8h0M421.3 287.5h0M426.7 286.7h0M428.5 286.4h0M430.3 286.2h0"/>
<path stroke="#00bfff" d="M386.5 291.0h0"/>
<path stroke="#009fff" d="M388.3 290.7h0M395.6 289.5h0"/>
<path stroke="#0080ff" d="M390.2 290.4h0M392.0 290.1h0M393.8 289.8h0"/>
<path stroke="#00dfff" d="M397.5 289.2h0"/>
<path stroke="#00ffff" d="M399.3 288.9h0M404.8 288.0h0M406.6 287.7h0M410.2 287.1h0M412.1 286.8h0"/>
<path stroke="#20ffdf" d="M401.1 288.6h0M402.9 288.3h0M408.4 287.4h0"/>
<path stroke="#40ffbf" d="M413.9 286.5h0M426.6 284.4h0M430.3 283.8h0"/>
<path stroke="#60ff9f" d="M415.7 286.2h0M423.0 285.0h0M424.8 284.7h0M428.5 284.1h0"/>
<path stroke="#9fff60" d="M417.5 285.9h0"/>
<path stroke="#bfff40" d="M419.4 285.6h0"/>
<path stroke="#80ff80" d="M421.2 285.3h0"/>
<path stroke="#0080ff" d="M386.0 289.3h0"/>
<path stroke="#009fff" d="M387.8 289.0h0M389.7 288.7h0M391.5 288.3h0M397.0 287.4h0"/>
<path stroke="#00bfff" d="M393.4 288.0h0M395.2 287.7h0"/>
<path stroke="#00ffff" d="M398.9 287.0h0"/>
<path stroke="#20ffdf" d="M400.7 286.7h0M402.6 286.4h0M426.6 282.1h0M428.4 281.8h0"/>
<path stroke="#40ffbf" d="M404.4 286.0h0M406.3 285.7h0M408.1 285.4h0M410.0 285.1h0M411.8 284.7h0M413.7 284.4h0M430.3 281.5h0"/>
<path stroke="#bfff40" d="M415.5 284.1h0M419.2 283.4h0"/>
<path stroke="#dfff20" d="M417.4 283.8h0"/>
<path stroke="#9fff60" d="M421.1 283.1h0M422.9 282.8h0"/>
<path stroke="#80ff80" d="M424.8 282.5h0"/>
<path stroke="#009fff" d="M385.4 287.6h0M387.3 287.3h0M394.8 285.9h0"/>
<path stroke="#0080ff" d="M389.1 286.9h0M391.0 286.6h0M392.9 286.2h0"/>
<path stroke="#00bfff" d="M396.6 285.5h0"/>
<path stroke="#00ffff" d="M398.5 285.2h0"/>
<path stroke="#40ffbf" d="M400.4 284.8h0"/>
<path stroke="#60ff9f" d="M402.2 284.5h0"/>
<path stroke="#80ff80" d="M404.1 284.1h0M406.0 283.8h0M424.7 280.2h0M428.4 279.5h0"/>
<path stroke="#9fff60" d="M407.9 283.4h0M409.7 283.0h0M411.6 282.7h0M413.5 282.3h0M426.6 279.9h0M430.3 279.2h0"/>
<path stroke="#ffff00" d="M415.3 282.0h0"/>
<path stroke="#dfff20" d="M417.2 281.6h0M419.1 281.3h0"/>
<path stroke="#bfff40" d="M420.9 280.9h0M422.8 280.6h0"/>
<path stroke="#0080ff" d="M384.8 286.0h0M386.7 285.6h0M390.5 284.8h0M394.3 284.1h0"/>
<path stroke="#009fff" d="M388.6 285.2h0"/>
<path stroke="#0040ff" d="M392.4 284.4h0"/>
<path stroke="#00bfff" d="M396.2 283.7h0"/>
<path stroke="#00ffff" d="M398.1 283.3h0"/>
<path stroke="#60ff9f" d="M400.0 282.9h0M401.9 282.5h0M403.8 282.2h0M422.7 278.3h0M424.6 278.0h0"/>
<path stroke="#9fff60" d="M405.7 281.8h0M409.5 281.0h0M413.3 280.3h0M418.9 279.1h0M420.8 278.7h0"/>
<path stroke="#bfff40" d="M407.6 281.4h0M411.4 280.6h0M417.0 279.5h0"/>
<path stroke="#80ff80" d="M415.1 279.9h0M426.5 277.6h0M428.4 277.2h0M430.3 276.8h0"/>
<path stroke="#0080ff" d="M384.3 284.3h0M388.1 283.5h0M390.0 283.1h0M392.0 282.7h0"/>
<path stroke="#009fff" d="M386.2 283.9h0"/>
<path stroke="#00bfff" d="M393.9 282.3h0"/>
<path stroke="#20ffdf" d="M395.8 281.9h0M397.7 281.4h0M401.5 280.6h0M416.9 277.4h0"/>
<path stroke="#40ffbf" d="M399.6 281.0h0M418.8 276.9h0M420.7 276.5h0M422.6 276.1h0"/>
<path stroke="#60ff9f" d="M403.5 280.2h0M413.0 278.2h0M415.0 277.8h0M424.5 275.7h0"/>
<path stroke="#9fff60" d="M405.4 279.8h0M409.2 279.0h0M428.4 274.9h0M430.3 274.5h0"/>
<path stroke="#bfff40" d="M407.3 279.4h0"/>
<path stroke="#80ff80" d="M411.1 278.6h0M426.5 275.3h0"/>
<path stroke="#40ffbf" d="M383.7 282.6h0"/>
<path stroke="#60ff9f" d="M385.7 282.2h0M387.6 281.8h0M401.2 278.7h0M418.7 274.8h0M420.6 274.3h0"/>
<path stroke="#20ffdf" d="M389.6 281.3h0M391.5 280.9h0M399.3 279.1h0"/>
<path stroke="#9fff60" d="M393.4 280.5h0M397.3 279.6h0M403.1 278.3h0M407.0 277.4h0M409.0 277.0h0M416.7 275.2h0M428.4 272.6h0"/>
<path stroke="#ffbf00" d="M395.4 280.0h0"/>
<path stroke="#bfff40" d="M405.1 277.8h0M410.9 276.5h0M414.8 275.7h0"/>
<path stroke="#dfff20" d="M412.8 276.1h0"/>
<path stroke="#80ff80" d="M422.5 273.9h0M424.5 273.5h0M426.4 273.0h0M430.3 272.2h0"/>
<path stroke="#ffff00" d="M383.2 281.0h0M385.1 280.5h0M406.7 275.4h0M414.6 273.5h0"/>
<path stroke="#ffdf00" d="M387.1 280.0h0M408.7 274.9h0M410.7 274.5h0M412.6 274.0h0"/>
<path stroke="#bfff40" d="M389.1 279.6h0M402.8 276.3h0M420.5 272.1h0M422.4 271.7h0M424.4 271.2h0M426.4 270.8h0"/>
<path stroke="#dfff20" d="M391.0 279.1h0M404.8 275.9h0M416.6 273.1h0M418.5 272.6h0M428.3 270.3h0M430.3 269.8h0"/>
<path stroke="#ff4000" d="M393.0 278.7h0"/>
<path stroke="#ff6000" d="M395.0 278.2h0M396.9 277.7h0"/>
<path stroke="#80ff80" d="M398.9 277.3h0"/>
<path stroke="#9fff60" d="M400.8 276.8h0"/>
<path stroke="#dfff20" d="M382.6 279.3h0M384.6 278.8h0M386.6 278.3h0M388.6 277.8h0M404.5 273.9h0M414.4 271.4h0M418.4 270.4h0"/>
<path stroke="#ffbf00" d="M390.6 277.3h0"/>
<path stroke="#ff6000" d="M392.6 276.8h0"/>
<path stroke="#ff2000" d="M394.5 276.4h0M396.5 275.9h0"/>
<path stroke="#bfff40" d="M398.5 275.4h0M400.5 274.9h0M402.5 274.4h0M406.5 273.4h0M408.4 272.9h0M412.4 271.9h0M416.4 270.9h0M420.4 270.0h0M428.3 268.0h0M430.3 267.5h0"/>
<path stroke="#9fff60" d="M410.4 272.4h0M422.4 269.5h0M424.3 269.0h0M426.3 268.5h0"/>
<path stroke="#ffdf00" d="M382.1 277.6h0M384.1 277.1h0M386.1 276.6h0"/>
<path stroke="#ffff00" d="M388.1 276.1h0M390.1 275.6h0M402.2 272.4h0M406.2 271.4h0M408.2 270.9h0M410.2 270.4h0"/>
<path stroke="#ff0000" d="M392.1 275.0h0"/>
<path stroke="#df0000" d="M394.1 274.5h0"/>
<path stroke="#ff6000" d="M396.1 274.0h0"/>
<path stroke="#bfff40" d="M398.1 273.5h0M416.2 268.8h0"/>
<path stroke="#dfff20" d="M400.2 273.0h0M404.2 271.9h0M412.2 269.8h0M414.2 269.3h0"/>
<path stroke="#9fff60" d="M418.2 268.3h0M424.3 266.7h0M426.3 266.2h0"/>
<path stroke="#80ff80" d="M420.2 267.8h0M422.3 267.2h0"/>
<path stroke="#60ff9f" d="M428.3 265.7h0M430.3 265.2h0"/>
<path stroke="#ffff00" d="M381.5 276.0h0M399.8 271.0h0"/>
<path stroke="#df0000" d="M389.6 273.8h0M397.8 271.6h0"/>
<path stroke="#800000" d="M391.7 273.2h0M393.7 272.7h0M395.7 272.1h0"/>
<path stroke="#ffdf00" d="M401.8 270.5h0M403.9 270.0h0M405.9 269.4h0M407.9 268.9h0M410.0 268.3h0M412.0 267.8h0M414.0 267.2h0"/>
<path stroke="#dfff20" d="M416.1 266.7h0M420.1 265.6h0M422.2 265.0h0M424.2 264.5h0"/>
<path stroke="#bfff40" d="M418.1 266.1h0"/>
<path stroke="#9fff60" d="M426.2 263.9h0M428.3 263.4h0"/>
<path stroke="#80ff80" d="M430.3 262.8h0"/>
<path stroke="#800000" d="M391.2 271.4h0M393.3 270.9h0M395.3 270.3h0M397.4 269.7h0"/>
<path stroke="#ff6000" d="M399.5 269.1h0"/>
<path stroke="#ffff00" d="M401.5 268.6h0M403.6 268.0h0M407.7 266.8h0M413.9 265.1h0"/>
<path stroke="#dfff20" d="M405.6 267.4h0M411.8 265.7h0M415.9 264.5h0"/>
<path stroke="#ffdf00" d="M409.7 266.3h0"/>
<path stroke="#bfff40" d="M418.0 263.9h0M420.0 263.4h0M422.1 262.8h0M424.1 262.2h0M426.2 261.6h0"/>
<path stroke="#ff4000" d="M428.2 261.1h0"/>
<path stroke="#df0000" d="M430.3 260.5h0"/>
<path stroke="#800000" d="M390.8 269.6h0M392.9 269.0h0M395.0 268.4h0M397.0 267.8h0M399.1 267.2h0"/>
<path stroke="#dfff20" d="M401.2 266.6h0M409.5 264.2h0M411.6 263.6h0M415.7 262.4h0"/>
<path stroke="#ffff00" d="M403.3 266.0h0M405.3 265.4h0M407.4 264.8h0M413.7 263.0h0"/>
<path stroke="#9fff60" d="M417.8 261.8h0M426.1 259.4h0"/>
<path stroke="#80ff80" d="M419.9 261.2h0"/>
<path stroke="#60ff9f" d="M422.0 260.6h0M424.1 260.0h0"/>
<path stroke="#ff9f00" d="M428.2 258.8h0"/>
<path stroke="#ff4000" d="M430.3 258.2h0"/>
<path stroke="#800000" d="M390.4 267.8h0M392.5 267.2h0M394.6 266.6h0M396.7 265.9h0M398.8 265.3h0"/>
<path stroke="#ffff00" d="M400.9 264.7h0M405.1 263.4h0M407.2 262.8h0M409.3 262.1h0"/>
<path stroke="#ffdf00" d="M403.0 264.0h0"/>
<path stroke="#dfff20" d="M411.4 261.5h0"/>
<path stroke="#bfff40" d="M413.5 260.9h0"/>
<path stroke="#9fff60" d="M415.6 260.2h0M417.7 259.6h0M419.8 259.0h0M421.9 258.4h0"/>
<path stroke="#80ff80" d="M424.0 257.7h0"/>
<path stroke="#40ffbf" d="M426.1 257.1h0"/>
<path stroke="#20ffdf" d="M428.2 256.5h0M430.3 255.8h0"/>
<path stroke="#800000" d="M389.9 266.0h0M392.0 265.4h0M394.2 264.7h0M396.3 264.0h0M398.4 263.4h0"/>
<path stroke="#dfff20" d="M400.5 262.7h0M402.7 262.1h0M404.8 261.4h0M406.9 260.7h0"/>
<path stroke="#bfff40" d="M409.0 260.1h0M413.3 258.8h0M417.5 257.4h0"/>
<path stroke="#9fff60" d="M411.2 259.4h0M415.4 258.1h0M419.7 256.8h0"/>
<path stroke="#40ffbf" d="M421.8 256.1h0"/>
<path stroke="#20ffdf" d="M423.9 255.5h0M426.0 254.8h0M428.2 254.2h0"/>
<path stroke="#60ff9f" d="M430.3 253.5h0"/>
<path stroke="#9f0000" d="M391.6 263.5h0M393.8 262.8h0M395.9 262.2h0M398.1 261.5h0"/>
<path stroke="#bfff40" d="M400.2 260.8h0M408.8 258.0h0M411.0 257.3h0"/>
<path stroke="#dfff20" d="M402.4 260.1h0M404.5 259.4h0M413.1 256.7h0"/>
<path stroke="#9fff60" d="M406.7 258.7h0"/>
<path stroke="#ff2000" d="M415.3 256.0h0"/>
<path stroke="#ff9f00" d="M417.4 255.3h0"/>
<path stroke="#60ff9f" d="M419.6 254.6h0"/>
<path stroke="#40ffbf" d="M421.7 253.9h0M426.0 252.5h0M428.1 251.8h0"/>
<path stroke="#20ffdf" d="M423.9 253.2h0M430.3 251.2h0"/>
<path stroke="#800000" d="M391.2 261.7h0M393.4 261.0h0"/>
<path stroke="#9f0000" d="M395.5 260.3h0"/>
<path stroke="#ff4000" d="M397.7 259.6h0"/>
<path stroke="#80ff80" d="M399.9 258.8h0M410.8 255.3h0M419.4 252.4h0"/>
<path stroke="#9fff60" d="M402.1 258.1h0M408.6 256.0h0"/>
<path stroke="#dfff20" d="M404.2 257.4h0"/>
<path stroke="#bfff40" d="M406.4 256.7h0"/>
<path stroke="#ff6000" d="M412.9 254.5h0M415.1 253.8h0M417.3 253.1h0"/>
<path stroke="#00ffff" d="M421.6 251.7h0M423.8 251.0h0"/>
<path stroke="#20ffdf" d="M426.0 250.3h0M428.1 249.5h0"/>
<path stroke="#60ff9f" d="M430.3 248.8h0"/>
</g>
<rect x="443.0" y="95.5" width="23" height="215" fill="url(#jet)" stroke="#262626" stroke-width="1"/>
<path d="M463.2 203H466.0" stroke="#262626" stroke-width="1"/>
<g font-family="'DejaVu Sans','Liberation Sans',sans-serif" font-weight="bold" font-size="21px" fill="#262626">
<text x="474.5" y="103.0">100</text>
<text x="474.5" y="210.4">50</text>
<text x="474.5" y="317.8">0</text>
</g>
<g font-family="'DejaVu Sans','Liberation Sans',sans-serif" font-weight="bold" font-size="12.5px" fill="#262626">
<text x="146.1" y="112.6">48</text><text x="164.1" y="105.4" font-size="9.5px" font-weight="bold">°</text><text x="174.6" y="112.6">N</text>
<text x="146.1" y="130.8">46</text><text x="164.1" y="124.4" font-size="9.5px" font-weight="bold">°</text><text x="174.6" y="130.8">N</text>
<text x="146.1" y="147.8">44</text><text x="164.1" y="141.5" font-size="9.5px" font-weight="bold">°</text><text x="174.6" y="147.8">N</text>
<text x="146.1" y="166.4">42</text><text x="164.1" y="159.3" font-size="9.5px" font-weight="bold">°</text><text x="174.6" y="166.4">N</text>
<text x="146.1" y="182.4">40</text><text x="164.1" y="176.4" font-size="9.5px" font-weight="bold">°</text><text x="174.6" y="182.4">N</text>
<text x="146.1" y="197.7">38</text><text x="164.1" y="191.3" font-size="9.5px" font-weight="bold">°</text><text x="174.6" y="197.7">N</text>
<text x="146.1" y="213.8">36</text><text x="164.1" y="207.3" font-size="9.5px" font-weight="bold">°</text><text x="174.6" y="213.8">N</text>
<text x="146.1" y="228.8">34</text><text x="164.1" y="222.3" font-size="9.5px" font-weight="bold">°</text><text x="174.6" y="228.8">N</text>
<text x="146.1" y="244.7">32</text><text x="164.1" y="238.2" font-size="9.5px" font-weight="bold">°</text><text x="174.6" y="244.7">N</text>
<text x="146.1" y="259.7">30</text><text x="164.1" y="253.2" font-size="9.5px" font-weight="bold">°</text><text x="174.6" y="259.7">N</text>
<text x="146.1" y="274.9">28</text><text x="164.1" y="268.4" font-size="9.5px" font-weight="bold">°</text><text x="174.6" y="274.9">N</text>
<text x="146.1" y="288.8">26</text><text x="164.1" y="282.3" font-size="9.5px" font-weight="bold">°</text><text x="174.6" y="288.8">N</text>
<text x="146.1" y="301.8">24</text><text x="164.1" y="295.3" font-size="9.5px" font-weight="bold">°</text><text x="174.6" y="301.8">N</text>
<text x="146.1" y="314.9">22</text><text x="164.1" y="308.4" font-size="9.5px" font-weight="bold">°</text><text x="174.6" y="314.9">N</text>
<text x="216.6" y="74.4">100</text><text x="244.2" y="68.1" font-size="9.5px" font-weight="bold">°</text><text x="254.1" y="74.6">W</text>
<text x="285.2" y="74.4">90</text><text x="304.4" y="68.1" font-size="9.5px" font-weight="bold">°</text><text x="314.5" y="74.6">W</text>
<text x="349.3" y="74.4">80</text><text x="368.9" y="68.1" font-size="9.5px" font-weight="bold">°</text><text x="379.1" y="74.6">W</text>
<text x="412.6" y="74.4">70</text><text x="431.0" y="68.1" font-size="9.5px" font-weight="bold">°</text><text x="441.2" y="74.6">W</text>
</g>
<text x="139.7" y="341.9" font-family="'DejaVu Sans','Liberation Sans',sans-serif" font-weight="bold" font-size="23px" fill="#262626">SAT 250 hPa RH (Percent)</text>
</g>
<g transform="translate(0.0,390.0)">
<rect x="195.5" y="96.5" width="234.0" height="213.0" fill="#fff" stroke="#262626" stroke-width="1"/>
<use href="#usmapA"/>
<g fill="none" stroke-linecap="round" stroke-width="6.4">
<path stroke="#0080ff" d="M391.3 308.3h0"/>
<path stroke="#009fff" d="M392.9 308.3h0M394.4 308.3h0M396.0 308.3h0M397.6 308.3h0M399.1 308.3h0M400.7 308.4h0"/>
<path stroke="#00bfff" d="M402.2 308.4h0M422.6 308.5h0M424.1 308.5h0"/>
<path stroke="#00dfff" d="M403.8 308.4h0M405.4 308.4h0"/>
<path stroke="#20ffdf" d="M406.9 308.4h0M408.5 308.4h0M410.1 308.4h0M416.3 308.4h0M417.9 308.4h0M427.2 308.5h0"/>
<path stroke="#00ffff" d="M411.6 308.4h0M413.2 308.4h0M414.7 308.4h0M419.4 308.4h0M421.0 308.5h0M425.7 308.5h0"/>
<path stroke="#40ffbf" d="M428.8 308.5h0"/>
<path stroke="#0000ff" d="M390.7 306.7h0M392.3 306.6h0"/>
<path stroke="#0060ff" d="M393.9 306.6h0"/>
<path stroke="#009fff" d="M395.5 306.6h0M397.1 306.6h0M400.3 306.5h0"/>
<path stroke="#0080ff" d="M398.7 306.6h0"/>
<path stroke="#00bfff" d="M401.8 306.5h0M403.4 306.5h0"/>
<path stroke="#00ffff" d="M405.0 306.5h0M408.2 306.4h0M409.8 306.4h0M425.6 306.2h0"/>
<path stroke="#20ffdf" d="M406.6 306.5h0M424.0 306.2h0M427.2 306.2h0"/>
<path stroke="#40ffbf" d="M411.4 306.4h0M412.9 306.4h0M414.5 306.4h0M420.9 306.3h0M422.5 306.3h0M428.8 306.2h0"/>
<path stroke="#60ff9f" d="M416.1 306.3h0M417.7 306.3h0"/>
<path stroke="#80ff80" d="M419.3 306.3h0"/>
<path stroke="#0020ff" d="M390.2 305.0h0M391.8 305.0h0"/>
<path stroke="#0040ff" d="M393.4 304.9h0"/>
<path stroke="#0080ff" d="M395.0 304.9h0M398.2 304.8h0M401.5 304.7h0"/>
<path stroke="#009fff" d="M396.6 304.8h0"/>
<path stroke="#0060ff" d="M399.8 304.7h0"/>
<path stroke="#00bfff" d="M403.1 304.6h0M404.7 304.6h0"/>
<path stroke="#00dfff" d="M406.3 304.5h0M407.9 304.5h0"/>
<path stroke="#00ffff" d="M409.5 304.4h0M411.1 304.4h0"/>
<path stroke="#20ffdf" d="M412.7 304.3h0M425.6 304.0h0M427.2 303.9h0"/>
<path stroke="#40ffbf" d="M414.3 304.3h0M419.1 304.2h0M420.8 304.1h0M422.4 304.1h0M428.8 303.9h0"/>
<path stroke="#60ff9f" d="M415.9 304.3h0M417.5 304.2h0M424.0 304.0h0"/>
<path stroke="#0040ff" d="M389.6 303.4h0M392.9 303.2h0"/>
<path stroke="#0060ff" d="M391.3 303.3h0"/>
<path stroke="#0080ff" d="M394.5 303.1h0"/>
<path stroke="#00dfff" d="M396.2 303.1h0M399.4 302.9h0M402.7 302.8h0M404.3 302.7h0M406.0 302.6h0M407.6 302.5h0M410.9 302.4h0M412.5 302.3h0M423.9 301.8h0M425.5 301.7h0M427.2 301.6h0M428.8 301.6h0"/>
<path stroke="#00bfff" d="M397.8 303.0h0"/>
<path stroke="#00ffff" d="M401.1 302.8h0M409.2 302.5h0M414.1 302.2h0"/>
<path stroke="#20ffdf" d="M415.7 302.2h0M422.3 301.9h0"/>
<path stroke="#40ffbf" d="M417.4 302.1h0M419.0 302.0h0M420.6 301.9h0"/>
<path stroke="#0040ff" d="M389.1 301.7h0M390.7 301.6h0"/>
<path stroke="#0060ff" d="M392.4 301.5h0"/>
<path stroke="#0080ff" d="M394.0 301.4h0"/>
<path stroke="#009fff" d="M395.7 301.3h0"/>
<path stroke="#00bfff" d="M397.4 301.2h0M428.8 299.3h0"/>
<path stroke="#00dfff" d="M399.0 301.1h0M402.3 300.9h0M404.0 300.8h0M408.9 300.5h0M410.6 300.4h0M415.6 300.1h0M418.9 299.9h0M420.5 299.8h0M425.5 299.5h0M427.1 299.4h0"/>
<path stroke="#00ffff" d="M400.7 301.0h0M405.6 300.7h0M407.3 300.6h0M412.3 300.3h0M413.9 300.2h0M417.2 300.0h0M422.2 299.7h0M423.8 299.6h0"/>
<path stroke="#0020ff" d="M388.5 300.1h0M390.2 299.9h0M391.9 299.8h0"/>
<path stroke="#0040ff" d="M393.6 299.7h0"/>
<path stroke="#0080ff" d="M395.2 299.5h0M423.8 297.3h0M425.4 297.2h0"/>
<path stroke="#00bfff" d="M396.9 299.4h0M403.6 298.9h0M405.3 298.8h0M407.0 298.6h0M408.7 298.5h0M415.4 298.0h0M417.1 297.8h0M418.7 297.7h0M422.1 297.5h0"/>
<path stroke="#00ffff" d="M398.6 299.3h0"/>
<path stroke="#00dfff" d="M400.3 299.1h0M402.0 299.0h0M410.3 298.4h0M412.0 298.2h0"/>
<path stroke="#009fff" d="M413.7 298.1h0M420.4 297.6h0M427.1 297.1h0M428.8 296.9h0"/>
<path stroke="#0040ff" d="M388.0 298.4h0M394.8 297.8h0M418.6 295.6h0M420.3 295.4h0M422.0 295.3h0M423.7 295.1h0"/>
<path stroke="#0020ff" d="M389.7 298.2h0M393.1 297.9h0"/>
<path stroke="#0000ff" d="M391.4 298.1h0"/>
<path stroke="#009fff" d="M396.5 297.6h0M413.5 296.0h0"/>
<path stroke="#00ffff" d="M398.2 297.5h0M401.6 297.1h0M403.3 297.0h0M406.7 296.7h0"/>
<path stroke="#20ffdf" d="M399.9 297.3h0M405.0 296.8h0"/>
<path stroke="#00bfff" d="M408.4 296.5h0M411.8 296.2h0"/>
<path stroke="#00dfff" d="M410.1 296.4h0"/>
<path stroke="#0060ff" d="M415.2 295.9h0M416.9 295.7h0"/>
<path stroke="#0080ff" d="M425.4 294.9h0M427.1 294.8h0M428.8 294.6h0"/>
<path stroke="#0000ff" d="M387.4 296.8h0M389.1 296.6h0M390.9 296.4h0"/>
<path stroke="#0020ff" d="M392.6 296.2h0M428.8 292.3h0"/>
<path stroke="#0080ff" d="M394.3 296.0h0M413.3 294.0h0M421.9 293.1h0"/>
<path stroke="#00ffff" d="M396.0 295.8h0M397.8 295.6h0M399.5 295.5h0M406.4 294.7h0"/>
<path stroke="#20ffdf" d="M401.2 295.3h0M402.9 295.1h0M404.7 294.9h0"/>
<path stroke="#00dfff" d="M408.1 294.5h0M409.8 294.4h0"/>
<path stroke="#009fff" d="M411.6 294.2h0"/>
<path stroke="#0060ff" d="M415.0 293.8h0M416.7 293.6h0M418.5 293.4h0M420.2 293.2h0M423.6 292.9h0"/>
<path stroke="#0040ff" d="M425.4 292.7h0M427.1 292.5h0"/>
<path stroke="#0020ff" d="M386.9 295.1h0M388.6 294.9h0M390.4 294.7h0"/>
<path stroke="#0040ff" d="M392.1 294.5h0M414.8 291.7h0M416.6 291.5h0M423.6 290.6h0M425.3 290.4h0M427.1 290.2h0M428.8 290.0h0"/>
<path stroke="#0080ff" d="M393.9 294.3h0M418.3 291.3h0M420.1 291.1h0"/>
<path stroke="#00ffff" d="M395.6 294.0h0M399.1 293.6h0"/>
<path stroke="#20ffdf" d="M397.4 293.8h0"/>
<path stroke="#00dfff" d="M400.8 293.4h0M402.6 293.2h0M404.3 293.0h0M406.1 292.8h0"/>
<path stroke="#009fff" d="M407.8 292.6h0"/>
<path stroke="#0060ff" d="M409.6 292.3h0M411.3 292.1h0M413.1 291.9h0M421.8 290.9h0"/>
<path stroke="#0020ff" d="M386.3 293.4h0M389.9 293.0h0M423.5 288.4h0M425.3 288.2h0"/>
<path stroke="#0040ff" d="M388.1 293.2h0M391.6 292.7h0M419.9 288.9h0M427.0 287.9h0M428.8 287.7h0"/>
<path stroke="#0080ff" d="M393.4 292.5h0M409.3 290.3h0M412.9 289.9h0M414.6 289.6h0"/>
<path stroke="#00ffff" d="M395.2 292.3h0M400.5 291.5h0"/>
<path stroke="#20ffdf" d="M396.9 292.0h0M402.2 291.3h0M404.0 291.1h0"/>
<path stroke="#00dfff" d="M398.7 291.8h0M405.8 290.8h0M407.6 290.6h0"/>
<path stroke="#0060ff" d="M411.1 290.1h0M416.4 289.4h0M418.2 289.1h0M421.7 288.7h0"/>
<path stroke="#0020ff" d="M385.8 291.8h0M389.3 291.3h0"/>
<path stroke="#0000ff" d="M387.6 291.5h0"/>
<path stroke="#0040ff" d="M391.1 291.0h0M418.0 287.0h0M419.8 286.7h0"/>
<path stroke="#009fff" d="M392.9 290.7h0M409.1 288.3h0M427.0 285.7h0M428.8 285.4h0"/>
<path stroke="#00ffff" d="M394.7 290.5h0"/>
<path stroke="#20ffdf" d="M396.5 290.2h0M401.9 289.4h0"/>
<path stroke="#40ffbf" d="M398.3 289.9h0M400.1 289.7h0"/>
<path stroke="#00dfff" d="M403.7 289.1h0"/>
<path stroke="#00bfff" d="M405.5 288.9h0M407.3 288.6h0"/>
<path stroke="#0080ff" d="M410.9 288.1h0M412.7 287.8h0M425.2 285.9h0"/>
<path stroke="#0060ff" d="M414.5 287.5h0M416.2 287.3h0M421.6 286.5h0M423.4 286.2h0"/>
<path stroke="#0060ff" d="M385.2 290.1h0M410.6 286.0h0M412.5 285.7h0M414.3 285.4h0M421.5 284.3h0M423.4 284.0h0"/>
<path stroke="#0020ff" d="M387.0 289.9h0M388.8 289.6h0M417.9 284.8h0"/>
<path stroke="#0080ff" d="M390.7 289.3h0M408.8 286.3h0"/>
<path stroke="#009fff" d="M392.5 289.0h0M425.2 283.7h0"/>
<path stroke="#00ffff" d="M394.3 288.7h0M401.6 287.5h0M403.4 287.2h0"/>
<path stroke="#20ffdf" d="M396.1 288.4h0M397.9 288.1h0M428.8 283.1h0"/>
<path stroke="#40ffbf" d="M399.7 287.8h0"/>
<path stroke="#00dfff" d="M405.2 286.9h0M407.0 286.6h0"/>
<path stroke="#0040ff" d="M416.1 285.1h0M419.7 284.5h0"/>
<path stroke="#00bfff" d="M427.0 283.4h0"/>
<path stroke="#0080ff" d="M384.7 288.5h0M390.2 287.5h0"/>
<path stroke="#0040ff" d="M386.5 288.2h0"/>
<path stroke="#0060ff" d="M388.3 287.9h0"/>
<path stroke="#00bfff" d="M392.0 287.2h0M393.9 286.9h0M410.4 284.0h0M412.2 283.7h0M414.1 283.3h0"/>
<path stroke="#00ffff" d="M395.7 286.6h0M397.5 286.2h0M399.4 285.9h0M401.2 285.6h0M403.0 285.3h0M404.9 285.0h0M406.7 284.6h0M415.9 283.0h0"/>
<path stroke="#00dfff" d="M408.6 284.3h0"/>
<path stroke="#20ffdf" d="M417.8 282.7h0"/>
<path stroke="#40ffbf" d="M419.6 282.4h0"/>
<path stroke="#60ff9f" d="M421.4 282.1h0"/>
<path stroke="#80ff80" d="M423.3 281.7h0"/>
<path stroke="#dfff20" d="M425.1 281.4h0"/>
<path stroke="#ffff00" d="M427.0 281.1h0M428.8 280.8h0"/>
<path stroke="#00dfff" d="M384.1 286.9h0M402.7 283.4h0M408.3 282.3h0M410.2 281.9h0M412.0 281.6h0"/>
<path stroke="#009fff" d="M386.0 286.5h0M389.7 285.8h0M391.5 285.5h0M397.1 284.4h0"/>
<path stroke="#0080ff" d="M387.8 286.1h0M393.4 285.1h0M395.3 284.8h0M399.0 284.1h0"/>
<path stroke="#00bfff" d="M400.9 283.7h0M404.6 283.0h0M406.5 282.6h0"/>
<path stroke="#40ffbf" d="M413.9 281.2h0"/>
<path stroke="#80ff80" d="M415.8 280.9h0"/>
<path stroke="#dfff20" d="M417.6 280.6h0M421.4 279.9h0M425.1 279.1h0"/>
<path stroke="#bfff40" d="M419.5 280.2h0M423.2 279.5h0M426.9 278.8h0M428.8 278.4h0"/>
<path stroke="#00bfff" d="M383.5 285.2h0M387.3 284.4h0M389.2 284.1h0M396.7 282.6h0M402.4 281.4h0"/>
<path stroke="#00dfff" d="M385.4 284.8h0M409.9 279.9h0"/>
<path stroke="#0080ff" d="M391.1 283.7h0M393.0 283.3h0M400.5 281.8h0"/>
<path stroke="#009fff" d="M394.9 282.9h0M404.3 281.0h0M406.2 280.7h0M408.1 280.3h0"/>
<path stroke="#0060ff" d="M398.6 282.2h0"/>
<path stroke="#00ffff" d="M411.8 279.5h0"/>
<path stroke="#40ffbf" d="M413.7 279.2h0"/>
<path stroke="#bfff40" d="M415.6 278.8h0"/>
<path stroke="#ffff00" d="M417.5 278.4h0M426.9 276.5h0"/>
<path stroke="#dfff20" d="M419.4 278.0h0M421.3 277.6h0M423.1 277.3h0M428.8 276.1h0"/>
<path stroke="#ffdf00" d="M425.0 276.9h0"/>
<path stroke="#0080ff" d="M383.0 283.6h0M388.7 282.3h0M390.6 281.9h0"/>
<path stroke="#00bfff" d="M384.9 283.1h0"/>
<path stroke="#009fff" d="M386.8 282.7h0M407.8 278.3h0M409.7 277.9h0"/>
<path stroke="#0040ff" d="M392.5 281.5h0M394.4 281.1h0"/>
<path stroke="#0060ff" d="M396.4 280.7h0M398.3 280.3h0M400.2 279.9h0M402.1 279.5h0M404.0 279.1h0M405.9 278.7h0"/>
<path stroke="#00dfff" d="M411.6 277.5h0"/>
<path stroke="#20ffdf" d="M413.5 277.1h0"/>
<path stroke="#60ff9f" d="M415.4 276.7h0"/>
<path stroke="#bfff40" d="M417.3 276.3h0M428.8 273.8h0"/>
<path stroke="#ffdf00" d="M419.3 275.9h0"/>
<path stroke="#ffff00" d="M421.2 275.4h0M423.1 275.0h0M426.9 274.2h0"/>
<path stroke="#dfff20" d="M425.0 274.6h0"/>
<path stroke="#0080ff" d="M382.4 281.9h0M390.2 280.2h0M405.6 276.7h0M409.5 275.8h0"/>
<path stroke="#0040ff" d="M384.4 281.5h0M388.2 280.6h0M394.0 279.3h0M396.0 278.9h0M397.9 278.4h0M399.8 278.0h0"/>
<path stroke="#0060ff" d="M386.3 281.0h0M392.1 279.7h0M401.8 277.6h0M403.7 277.1h0"/>
<path stroke="#009fff" d="M407.6 276.3h0M411.4 275.4h0"/>
<path stroke="#00dfff" d="M413.3 275.0h0"/>
<path stroke="#20ffdf" d="M415.3 274.5h0M428.8 271.5h0"/>
<path stroke="#60ff9f" d="M417.2 274.1h0"/>
<path stroke="#80ff80" d="M419.1 273.7h0"/>
<path stroke="#9fff60" d="M421.1 273.2h0M424.9 272.4h0M426.9 271.9h0"/>
<path stroke="#bfff40" d="M423.0 272.8h0"/>
<path stroke="#0060ff" d="M381.9 280.2h0M387.7 278.9h0M389.7 278.4h0M397.5 276.6h0"/>
<path stroke="#0080ff" d="M383.8 279.8h0M385.8 279.3h0M395.6 277.0h0M399.5 276.1h0M401.4 275.6h0M403.4 275.2h0"/>
<path stroke="#0040ff" d="M391.7 277.9h0M393.6 277.5h0"/>
<path stroke="#00bfff" d="M405.3 274.7h0"/>
<path stroke="#00ffff" d="M407.3 274.3h0M428.8 269.2h0"/>
<path stroke="#40ffbf" d="M409.3 273.8h0M426.8 269.7h0"/>
<path stroke="#9fff60" d="M411.2 273.3h0M413.2 272.9h0M417.1 272.0h0M422.9 270.6h0M424.9 270.1h0"/>
<path stroke="#80ff80" d="M415.1 272.4h0"/>
<path stroke="#bfff40" d="M419.0 271.5h0M421.0 271.0h0"/>
<path stroke="#0080ff" d="M381.3 278.6h0M383.3 278.1h0M387.3 277.1h0"/>
<path stroke="#009fff" d="M385.3 277.6h0M403.1 273.2h0"/>
<path stroke="#0060ff" d="M389.2 276.6h0M393.2 275.7h0M395.2 275.2h0M397.2 274.7h0M399.1 274.2h0M401.1 273.7h0"/>
<path stroke="#0040ff" d="M391.2 276.2h0"/>
<path stroke="#00ffff" d="M405.1 272.7h0"/>
<path stroke="#80ff80" d="M407.0 272.3h0M422.9 268.4h0"/>
<path stroke="#dfff20" d="M409.0 271.8h0M411.0 271.3h0M415.0 270.3h0M416.9 269.8h0"/>
<path stroke="#bfff40" d="M413.0 270.8h0"/>
<path stroke="#ffff00" d="M418.9 269.3h0"/>
<path stroke="#9fff60" d="M420.9 268.8h0"/>
<path stroke="#40ffbf" d="M424.8 267.9h0"/>
<path stroke="#20ffdf" d="M426.8 267.4h0M428.8 266.9h0"/>
<path stroke="#0080ff" d="M380.8 276.9h0M382.8 276.4h0M384.8 275.9h0M388.8 274.9h0M392.8 273.9h0"/>
<path stroke="#0060ff" d="M386.8 275.4h0M390.8 274.4h0"/>
<path stroke="#009fff" d="M394.8 273.3h0M396.8 272.8h0"/>
<path stroke="#00bfff" d="M398.8 272.3h0"/>
<path stroke="#20ffdf" d="M400.8 271.8h0M420.8 266.6h0"/>
<path stroke="#80ff80" d="M402.8 271.3h0"/>
<path stroke="#dfff20" d="M404.8 270.8h0M410.8 269.2h0M414.8 268.2h0"/>
<path stroke="#9fff60" d="M406.8 270.2h0"/>
<path stroke="#bfff40" d="M408.8 269.7h0M412.8 268.7h0M416.8 267.7h0"/>
<path stroke="#60ff9f" d="M418.8 267.2h0"/>
<path stroke="#00ffff" d="M422.8 266.1h0M424.8 265.6h0"/>
<path stroke="#00dfff" d="M426.8 265.1h0M428.8 264.6h0"/>
<path stroke="#0060ff" d="M380.2 275.3h0M382.2 274.8h0M388.3 273.1h0M390.3 272.6h0"/>
<path stroke="#0040ff" d="M384.3 274.2h0M386.3 273.7h0"/>
<path stroke="#0080ff" d="M392.4 272.0h0"/>
<path stroke="#009fff" d="M394.4 271.5h0M422.7 263.9h0"/>
<path stroke="#00bfff" d="M396.4 271.0h0M420.7 264.4h0M424.8 263.4h0"/>
<path stroke="#40ffbf" d="M398.4 270.4h0M416.7 265.5h0"/>
<path stroke="#9fff60" d="M400.5 269.9h0M404.5 268.8h0M406.5 268.2h0M408.6 267.7h0M412.6 266.6h0"/>
<path stroke="#bfff40" d="M402.5 269.3h0M410.6 267.2h0"/>
<path stroke="#80ff80" d="M414.6 266.1h0"/>
<path stroke="#00ffff" d="M418.7 265.0h0M428.8 262.3h0"/>
<path stroke="#00dfff" d="M426.8 262.8h0"/>
<path stroke="#0080ff" d="M383.8 272.5h0"/>
<path stroke="#009fff" d="M385.8 271.9h0M387.9 271.4h0"/>
<path stroke="#00bfff" d="M389.9 270.8h0M418.6 262.8h0M422.7 261.7h0"/>
<path stroke="#00ffff" d="M392.0 270.2h0M428.8 260.0h0"/>
<path stroke="#20ffdf" d="M394.0 269.7h0"/>
<path stroke="#9fff60" d="M396.0 269.1h0M402.2 267.4h0M404.2 266.8h0"/>
<path stroke="#dfff20" d="M398.1 268.5h0M400.1 267.9h0M412.4 264.5h0"/>
<path stroke="#ffff00" d="M406.3 266.2h0"/>
<path stroke="#ff4000" d="M408.3 265.7h0"/>
<path stroke="#ff9f00" d="M410.4 265.1h0"/>
<path stroke="#40ffbf" d="M414.5 264.0h0"/>
<path stroke="#00dfff" d="M416.5 263.4h0M420.6 262.2h0M424.7 261.1h0M426.8 260.5h0"/>
<path stroke="#00bfff" d="M389.5 269.0h0"/>
<path stroke="#40ffbf" d="M391.5 268.4h0M414.3 261.8h0M426.7 258.2h0"/>
<path stroke="#9fff60" d="M393.6 267.8h0M397.7 266.6h0"/>
<path stroke="#bfff40" d="M395.7 267.2h0M399.8 266.0h0M401.9 265.4h0"/>
<path stroke="#df0000" d="M404.0 264.8h0M406.0 264.2h0"/>
<path stroke="#bf0000" d="M408.1 263.6h0"/>
<path stroke="#ffff00" d="M410.2 263.0h0"/>
<path stroke="#80ff80" d="M412.2 262.4h0"/>
<path stroke="#00ffff" d="M416.4 261.2h0M418.4 260.6h0M428.8 257.6h0"/>
<path stroke="#20ffdf" d="M420.5 260.0h0M422.6 259.4h0M424.7 258.8h0"/>
<path stroke="#dfff20" d="M397.4 264.7h0M399.5 264.1h0M401.6 263.5h0M407.9 261.6h0"/>
<path stroke="#ff6000" d="M403.7 262.8h0"/>
<path stroke="#ffff00" d="M405.8 262.2h0"/>
<path stroke="#9fff60" d="M410.0 261.0h0"/>
<path stroke="#60ff9f" d="M412.1 260.3h0"/>
<path stroke="#20ffdf" d="M414.1 259.7h0"/>
<path stroke="#00ffff" d="M416.2 259.1h0M418.3 258.5h0M420.4 257.8h0M422.5 257.2h0M424.6 256.6h0M426.7 256.0h0"/>
<path stroke="#40ffbf" d="M428.8 255.3h0"/>
<path stroke="#bfff40" d="M399.2 262.2h0M403.4 260.9h0M405.5 260.2h0"/>
<path stroke="#dfff20" d="M401.3 261.5h0"/>
<path stroke="#9fff60" d="M407.6 259.6h0M428.8 253.0h0"/>
<path stroke="#80ff80" d="M409.8 258.9h0M411.9 258.2h0"/>
<path stroke="#40ffbf" d="M414.0 257.6h0M422.5 255.0h0M424.6 254.3h0"/>
<path stroke="#20ffdf" d="M416.1 256.9h0M418.2 256.3h0M420.3 255.6h0"/>
<path stroke="#60ff9f" d="M426.7 253.7h0"/>
<path stroke="#9fff60" d="M398.8 260.2h0M407.4 257.5h0M413.8 255.5h0M424.5 252.1h0"/>
<path stroke="#dfff20" d="M401.0 259.6h0M403.1 258.9h0M426.7 251.4h0M428.8 250.7h0"/>
<path stroke="#bfff40" d="M405.3 258.2h0M409.5 256.8h0M411.7 256.2h0"/>
<path stroke="#80ff80" d="M416.0 254.8h0"/>
<path stroke="#60ff9f" d="M418.1 254.1h0"/>
<path stroke="#0080ff" d="M420.2 253.4h0M422.4 252.8h0"/>
<path stroke="#dfff20" d="M398.5 258.3h0M402.9 256.9h0M405.0 256.2h0"/>
<path stroke="#ffff00" d="M400.7 257.6h0"/>
<path stroke="#9fff60" d="M407.2 255.5h0M418.0 251.9h0"/>
<path stroke="#bfff40" d="M409.3 254.8h0M411.5 254.1h0M424.5 249.8h0M426.6 249.1h0M428.8 248.4h0"/>
<path stroke="#00ffff" d="M413.7 253.4h0"/>
<path stroke="#00009f" d="M415.8 252.7h0"/>
<path stroke="#0060ff" d="M420.1 251.2h0M422.3 250.5h0"/>
</g>
<rect x="441.5" y="95.5" width="23" height="215" fill="url(#jet)" stroke="#262626" stroke-width="1"/>
<path d="M461.7 203H464.5" stroke="#262626" stroke-width="1"/>
<g font-family="'DejaVu Sans','Liberation Sans',sans-serif" font-weight="bold" font-size="21px" fill="#262626">
<text x="473.0" y="103.0">100</text>
<text x="473.0" y="210.4">50</text>
<text x="473.0" y="317.8">0</text>
</g>
<g font-family="'DejaVu Sans','Liberation Sans',sans-serif" font-weight="bold" font-size="12.5px" fill="#262626">
<text x="146.6" y="112.7">48</text><text x="165.6" y="105.4" font-size="9.5px" font-weight="bold">°</text><text x="175.1" y="112.7">N</text>
<text x="146.6" y="130.8">46</text><text x="165.6" y="124.4" font-size="9.5px" font-weight="bold">°</text><text x="175.1" y="130.8">N</text>
<text x="146.6" y="147.8">44</text><text x="165.6" y="141.5" font-size="9.5px" font-weight="bold">°</text><text x="175.1" y="147.8">N</text>
<text x="146.6" y="166.4">42</text><text x="165.6" y="159.3" font-size="9.5px" font-weight="bold">°</text><text x="175.1" y="166.4">N</text>
<text x="146.6" y="182.4">40</text><text x="165.6" y="176.4" font-size="9.5px" font-weight="bold">°</text><text x="175.1" y="182.4">N</text>
<text x="146.6" y="197.7">38</text><text x="165.6" y="191.3" font-size="9.5px" font-weight="bold">°</text><text x="175.1" y="197.7">N</text>
<text x="146.6" y="214.6">36</text><text x="165.6" y="208.1" font-size="9.5px" font-weight="bold">°</text><text x="175.1" y="214.6">N</text>
<text x="146.6" y="229.1">34</text><text x="165.6" y="222.6" font-size="9.5px" font-weight="bold">°</text><text x="175.1" y="229.1">N</text>
<text x="146.6" y="245.8">32</text><text x="165.6" y="239.3" font-size="9.5px" font-weight="bold">°</text><text x="175.1" y="245.8">N</text>
<text x="146.6" y="259.7">30</text><text x="165.6" y="253.2" font-size="9.5px" font-weight="bold">°</text><text x="175.1" y="259.7">N</text>
<text x="146.6" y="272.8">28</text><text x="165.6" y="266.3" font-size="9.5px" font-weight="bold">°</text><text x="175.1" y="272.8">N</text>
<text x="146.6" y="287.7">26</text><text x="165.6" y="281.2" font-size="9.5px" font-weight="bold">°</text><text x="175.1" y="287.7">N</text>
<text x="146.6" y="301.6">24</text><text x="165.6" y="295.1" font-size="9.5px" font-weight="bold">°</text><text x="175.1" y="301.6">N</text>
<text x="146.6" y="314.2">22</text><text x="165.6" y="307.7" font-size="9.5px" font-weight="bold">°</text><text x="175.1" y="314.2">N</text>
<text x="215.1" y="76.7">100</text><text x="242.7" y="70.4" font-size="9.5px" font-weight="bold">°</text><text x="252.6" y="76.9">W</text>
<text x="283.7" y="76.7">90</text><text x="302.9" y="70.4" font-size="9.5px" font-weight="bold">°</text><text x="313.0" y="76.9">W</text>
<text x="347.8" y="76.7">80</text><text x="367.4" y="70.4" font-size="9.5px" font-weight="bold">°</text><text x="377.6" y="76.9">W</text>
<text x="411.1" y="76.7">70</text><text x="429.5" y="70.4" font-size="9.5px" font-weight="bold">°</text><text x="439.7" y="76.9">W</text>
</g>
<text x="140.2" y="340.9" font-family="'DejaVu Sans','Liberation Sans',sans-serif" font-weight="bold" font-size="23px" fill="#262626">SAT 300 hPa RH (Percent)</text>
</g>
<g transform="translate(421.0,390.0)">
<rect x="195.5" y="96.5" width="234.0" height="213.0" fill="#fff" stroke="#262626" stroke-width="1"/>
<use href="#usmapA"/>
<g fill="none" stroke-linecap="round" stroke-width="6.4">
<path stroke="#0040ff" d="M391.3 308.3h0M392.9 308.3h0M396.0 308.3h0M397.6 308.3h0M399.1 308.3h0"/>
<path stroke="#0020ff" d="M394.4 308.3h0M403.8 308.4h0M405.4 308.4h0M406.9 308.4h0M408.5 308.4h0M411.6 308.4h0M414.7 308.4h0"/>
<path stroke="#0000ff" d="M400.7 308.4h0M402.2 308.4h0M410.1 308.4h0M413.2 308.4h0"/>
<path stroke="#0060ff" d="M416.3 308.4h0M422.6 308.5h0M424.1 308.5h0"/>
<path stroke="#0080ff" d="M417.9 308.4h0M425.7 308.5h0M427.2 308.5h0M428.8 308.5h0"/>
<path stroke="#00bfff" d="M419.4 308.4h0"/>
<path stroke="#009fff" d="M421.0 308.5h0"/>
<path stroke="#0000ff" d="M390.7 306.7h0M395.5 306.6h0M401.8 306.5h0M403.4 306.5h0"/>
<path stroke="#0020ff" d="M392.3 306.6h0M393.9 306.6h0M397.1 306.6h0M406.6 306.5h0M408.2 306.4h0M411.4 306.4h0"/>
<path stroke="#0000df" d="M398.7 306.6h0M400.3 306.5h0"/>
<path stroke="#0040ff" d="M405.0 306.5h0M409.8 306.4h0M412.9 306.4h0"/>
<path stroke="#0060ff" d="M414.5 306.4h0M417.7 306.3h0M419.3 306.3h0M420.9 306.3h0M422.5 306.3h0M425.6 306.2h0M427.2 306.2h0"/>
<path stroke="#0080ff" d="M416.1 306.3h0M424.0 306.2h0M428.8 306.2h0"/>
<path stroke="#0000df" d="M390.2 305.0h0M391.8 305.0h0M396.6 304.8h0M401.5 304.7h0"/>
<path stroke="#0020ff" d="M393.4 304.9h0M395.0 304.9h0M406.3 304.5h0M409.5 304.4h0M411.1 304.4h0"/>
<path stroke="#0000ff" d="M398.2 304.8h0M399.8 304.7h0M403.1 304.6h0M404.7 304.6h0M407.9 304.5h0"/>
<path stroke="#0040ff" d="M412.7 304.3h0M420.8 304.1h0M424.0 304.0h0"/>
<path stroke="#0060ff" d="M414.3 304.3h0M419.1 304.2h0M422.4 304.1h0M428.8 303.9h0"/>
<path stroke="#009fff" d="M415.9 304.3h0M417.5 304.2h0"/>
<path stroke="#0080ff" d="M425.6 304.0h0M427.2 303.9h0"/>
<path stroke="#0000ff" d="M389.6 303.4h0M391.3 303.3h0M392.9 303.2h0M394.5 303.1h0M397.8 303.0h0M402.7 302.8h0M404.3 302.7h0M407.6 302.5h0"/>
<path stroke="#0020ff" d="M396.2 303.1h0M399.4 302.9h0M401.1 302.8h0M410.9 302.4h0"/>
<path stroke="#0000df" d="M406.0 302.6h0M409.2 302.5h0"/>
<path stroke="#0040ff" d="M412.5 302.3h0M420.6 301.9h0"/>
<path stroke="#0080ff" d="M414.1 302.2h0M415.7 302.2h0M423.9 301.8h0"/>
<path stroke="#0060ff" d="M417.4 302.1h0M419.0 302.0h0M422.3 301.9h0"/>
<path stroke="#009fff" d="M425.5 301.7h0M427.2 301.6h0M428.8 301.6h0"/>
<path stroke="#0000ff" d="M389.1 301.7h0M390.7 301.6h0M394.0 301.4h0M399.0 301.1h0M408.9 300.5h0M412.3 300.3h0"/>
<path stroke="#0000df" d="M392.4 301.5h0M397.4 301.2h0M410.6 300.4h0"/>
<path stroke="#0000bf" d="M395.7 301.3h0"/>
<path stroke="#0020ff" d="M400.7 301.0h0M402.3 300.9h0M404.0 300.8h0M407.3 300.6h0"/>
<path stroke="#0040ff" d="M405.6 300.7h0M413.9 300.2h0"/>
<path stroke="#0080ff" d="M415.6 300.1h0M418.9 299.9h0M422.2 299.7h0M423.8 299.6h0"/>
<path stroke="#0060ff" d="M417.2 300.0h0M420.5 299.8h0"/>
<path stroke="#009fff" d="M425.5 299.5h0M427.1 299.4h0M428.8 299.3h0"/>
<path stroke="#0000df" d="M388.5 300.1h0M393.6 299.7h0M395.2 299.5h0M398.6 299.3h0"/>
<path stroke="#0000ff" d="M390.2 299.9h0M391.9 299.8h0M396.9 299.4h0"/>
<path stroke="#0040ff" d="M400.3 299.1h0M402.0 299.0h0M405.3 298.8h0"/>
<path stroke="#0020ff" d="M403.6 298.9h0M407.0 298.6h0M408.7 298.5h0"/>
<path stroke="#0060ff" d="M410.3 298.4h0M412.0 298.2h0M420.4 297.6h0"/>
<path stroke="#0080ff" d="M413.7 298.1h0M422.1 297.5h0M423.8 297.3h0M427.1 297.1h0M428.8 296.9h0"/>
<path stroke="#009fff" d="M415.4 298.0h0M417.1 297.8h0M418.7 297.7h0M425.4 297.2h0"/>
<path stroke="#0000ff" d="M388.0 298.4h0M394.8 297.8h0M399.9 297.3h0M411.8 296.2h0M413.5 296.0h0"/>
<path stroke="#0020ff" d="M389.7 298.2h0M396.5 297.6h0M398.2 297.5h0M401.6 297.1h0M403.3 297.0h0M406.7 296.7h0M408.4 296.5h0M410.1 296.4h0M415.2 295.9h0M428.8 294.6h0"/>
<path stroke="#0000bf" d="M391.4 298.1h0M393.1 297.9h0"/>
<path stroke="#0040ff" d="M405.0 296.8h0M416.9 295.7h0M418.6 295.6h0M420.3 295.4h0M422.0 295.3h0M423.7 295.1h0M427.1 294.8h0"/>
<path stroke="#0060ff" d="M425.4 294.9h0"/>
<path stroke="#0000df" d="M387.4 296.8h0M408.1 294.5h0M411.6 294.2h0M413.3 294.0h0M415.0 293.8h0M416.7 293.6h0M418.5 293.4h0"/>
<path stroke="#0000ff" d="M389.1 296.6h0M390.9 296.4h0M402.9 295.1h0M404.7 294.9h0M406.4 294.7h0M409.8 294.4h0M428.8 292.3h0"/>
<path stroke="#0020ff" d="M392.6 296.2h0M396.0 295.8h0M397.8 295.6h0M399.5 295.5h0M401.2 295.3h0M423.6 292.9h0M425.4 292.7h0M427.1 292.5h0"/>
<path stroke="#0040ff" d="M394.3 296.0h0M420.2 293.2h0M421.9 293.1h0"/>
<path stroke="#0060ff" d="M386.9 295.1h0M404.3 293.0h0"/>
<path stroke="#0080ff" d="M388.6 294.9h0M395.6 294.0h0M402.6 293.2h0"/>
<path stroke="#009fff" d="M390.4 294.7h0M392.1 294.5h0M393.9 294.3h0M400.8 293.4h0"/>
<path stroke="#00bfff" d="M397.4 293.8h0M399.1 293.6h0"/>
<path stroke="#0040ff" d="M406.1 292.8h0M407.8 292.6h0"/>
<path stroke="#0020ff" d="M409.6 292.3h0M418.3 291.3h0"/>
<path stroke="#0000ff" d="M411.3 292.1h0M413.1 291.9h0M414.8 291.7h0M420.1 291.1h0M428.8 290.0h0"/>
<path stroke="#0000df" d="M416.6 291.5h0M421.8 290.9h0M423.6 290.6h0M425.3 290.4h0M427.1 290.2h0"/>
<path stroke="#0040ff" d="M386.3 293.4h0M427.0 287.9h0"/>
<path stroke="#0080ff" d="M388.1 293.2h0M389.9 293.0h0M393.4 292.5h0M395.2 292.3h0M398.7 291.8h0M402.2 291.3h0M404.0 291.1h0"/>
<path stroke="#009fff" d="M391.6 292.7h0"/>
<path stroke="#0060ff" d="M396.9 292.0h0M400.5 291.5h0M428.8 287.7h0"/>
<path stroke="#0020ff" d="M405.8 290.8h0M407.6 290.6h0M423.5 288.4h0M425.3 288.2h0"/>
<path stroke="#0000df" d="M409.3 290.3h0M411.1 290.1h0M412.9 289.9h0M419.9 288.9h0M421.7 288.7h0"/>
<path stroke="#0000ff" d="M414.6 289.6h0M416.4 289.4h0M418.2 289.1h0"/>
<path stroke="#0060ff" d="M385.8 291.8h0M400.1 289.7h0M401.9 289.4h0"/>
<path stroke="#0080ff" d="M387.6 291.5h0M428.8 285.4h0"/>
<path stroke="#009fff" d="M389.3 291.3h0M391.1 291.0h0M392.9 290.7h0M394.7 290.5h0M396.5 290.2h0M398.3 289.9h0"/>
<path stroke="#0020ff" d="M403.7 289.1h0M421.6 286.5h0"/>
<path stroke="#0000df" d="M405.5 288.9h0M418.0 287.0h0"/>
<path stroke="#00009f" d="M407.3 288.6h0M410.9 288.1h0"/>
<path stroke="#0000bf" d="M409.1 288.3h0M412.7 287.8h0M414.5 287.5h0M416.2 287.3h0"/>
<path stroke="#0000ff" d="M419.8 286.7h0"/>
<path stroke="#0040ff" d="M423.4 286.2h0M425.2 285.9h0M427.0 285.7h0"/>
<path stroke="#0080ff" d="M385.2 290.1h0M397.9 288.1h0M423.4 284.0h0"/>
<path stroke="#009fff" d="M387.0 289.9h0M388.8 289.6h0M425.2 283.7h0"/>
<path stroke="#00bfff" d="M390.7 289.3h0M392.5 289.0h0M396.1 288.4h0"/>
<path stroke="#00dfff" d="M394.3 288.7h0M427.0 283.4h0M428.8 283.1h0"/>
<path stroke="#0060ff" d="M399.7 287.8h0M417.9 284.8h0M421.5 284.3h0"/>
<path stroke="#0040ff" d="M401.6 287.5h0M419.7 284.5h0"/>
<path stroke="#0000ff" d="M403.4 287.2h0M405.2 286.9h0M407.0 286.6h0M412.5 285.7h0"/>
<path stroke="#0000df" d="M408.8 286.3h0M410.6 286.0h0"/>
<path stroke="#0020ff" d="M414.3 285.4h0M416.1 285.1h0"/>
<path stroke="#0080ff" d="M384.7 288.5h0M417.8 282.7h0M419.6 282.4h0M421.4 282.1h0"/>
<path stroke="#009fff" d="M386.5 288.2h0"/>
<path stroke="#0060ff" d="M388.3 287.9h0M390.2 287.5h0M392.0 287.2h0"/>
<path stroke="#0040ff" d="M393.9 286.9h0M395.7 286.6h0M397.5 286.2h0M399.4 285.9h0"/>
<path stroke="#0000ff" d="M401.2 285.6h0M403.0 285.3h0M406.7 284.6h0M410.4 284.0h0"/>
<path stroke="#0000df" d="M404.9 285.0h0M408.6 284.3h0"/>
<path stroke="#0020ff" d="M412.2 283.7h0M414.1 283.3h0M415.9 283.0h0"/>
<path stroke="#00bfff" d="M423.3 281.7h0M425.1 281.4h0"/>
<path stroke="#00dfff" d="M427.0 281.1h0M428.8 280.8h0"/>
<path stroke="#0020ff" d="M384.1 286.9h0M391.5 285.5h0M400.9 283.7h0M404.6 283.0h0"/>
<path stroke="#0040ff" d="M386.0 286.5h0M389.7 285.8h0M393.4 285.1h0M395.3 284.8h0M406.5 282.6h0M408.3 282.3h0"/>
<path stroke="#0080ff" d="M387.8 286.1h0M413.9 281.2h0"/>
<path stroke="#0000ff" d="M397.1 284.4h0M399.0 284.1h0M402.7 283.4h0"/>
<path stroke="#0060ff" d="M410.2 281.9h0M412.0 281.6h0"/>
<path stroke="#00bfff" d="M415.8 280.9h0"/>
<path stroke="#00dfff" d="M417.6 280.6h0M421.4 279.9h0M426.9 278.8h0"/>
<path stroke="#009fff" d="M419.5 280.2h0"/>
<path stroke="#00ffff" d="M423.2 279.5h0M425.1 279.1h0M428.8 278.4h0"/>
<path stroke="#0020ff" d="M383.5 285.2h0M385.4 284.8h0M389.2 284.1h0M393.0 283.3h0M394.9 282.9h0"/>
<path stroke="#0040ff" d="M387.3 284.4h0M391.1 283.7h0M396.7 282.6h0M398.6 282.2h0"/>
<path stroke="#0060ff" d="M400.5 281.8h0M402.4 281.4h0"/>
<path stroke="#0080ff" d="M404.3 281.0h0"/>
<path stroke="#009fff" d="M406.2 280.7h0M409.9 279.9h0M411.8 279.5h0M413.7 279.2h0"/>
<path stroke="#00bfff" d="M408.1 280.3h0M415.6 278.8h0"/>
<path stroke="#00dfff" d="M417.5 278.4h0M421.3 277.6h0"/>
<path stroke="#00ffff" d="M419.4 278.0h0M423.1 277.3h0"/>
<path stroke="#40ffbf" d="M425.0 276.9h0M428.8 276.1h0"/>
<path stroke="#60ff9f" d="M426.9 276.5h0"/>
<path stroke="#0020ff" d="M383.0 283.6h0M384.9 283.1h0M390.6 281.9h0M394.4 281.1h0"/>
<path stroke="#0040ff" d="M386.8 282.7h0M388.7 282.3h0M396.4 280.7h0M398.3 280.3h0"/>
<path stroke="#0000ff" d="M392.5 281.5h0"/>
<path stroke="#0080ff" d="M400.2 279.9h0M402.1 279.5h0"/>
<path stroke="#00dfff" d="M404.0 279.1h0M405.9 278.7h0M407.8 278.3h0"/>
<path stroke="#00ffff" d="M409.7 277.9h0M411.6 277.5h0"/>
<path stroke="#40ffbf" d="M413.5 277.1h0M417.3 276.3h0"/>
<path stroke="#20ffdf" d="M415.4 276.7h0"/>
<path stroke="#dfff20" d="M419.3 275.9h0M428.8 273.8h0"/>
<path stroke="#ffdf00" d="M421.2 275.4h0M423.1 275.0h0"/>
<path stroke="#ffbf00" d="M425.0 274.6h0"/>
<path stroke="#ffff00" d="M426.9 274.2h0"/>
<path stroke="#0000ff" d="M382.4 281.9h0M384.4 281.5h0M386.3 281.0h0M388.2 280.6h0M392.1 279.7h0"/>
<path stroke="#0000df" d="M390.2 280.2h0"/>
<path stroke="#0020ff" d="M394.0 279.3h0M396.0 278.9h0"/>
<path stroke="#0060ff" d="M397.9 278.4h0"/>
<path stroke="#0080ff" d="M399.8 278.0h0M401.8 277.6h0"/>
<path stroke="#00bfff" d="M403.7 277.1h0"/>
<path stroke="#00dfff" d="M405.6 276.7h0M407.6 276.3h0"/>
<path stroke="#20ffdf" d="M409.5 275.8h0M411.4 275.4h0M413.3 275.0h0"/>
<path stroke="#40ffbf" d="M415.3 274.5h0"/>
<path stroke="#ffff00" d="M417.2 274.1h0M426.9 271.9h0"/>
<path stroke="#ffdf00" d="M419.1 273.7h0M421.1 273.2h0"/>
<path stroke="#ffbf00" d="M423.0 272.8h0"/>
<path stroke="#dfff20" d="M424.9 272.4h0"/>
<path stroke="#9fff60" d="M428.8 271.5h0"/>
<path stroke="#0000df" d="M381.9 280.2h0M387.7 278.9h0M389.7 278.4h0"/>
<path stroke="#0000ff" d="M383.8 279.8h0M385.8 279.3h0M391.7 277.9h0M393.6 277.5h0"/>
<path stroke="#0040ff" d="M395.6 277.0h0"/>
<path stroke="#0060ff" d="M397.5 276.6h0"/>
<path stroke="#0080ff" d="M399.5 276.1h0"/>
<path stroke="#009fff" d="M401.4 275.6h0"/>
<path stroke="#00bfff" d="M403.4 275.2h0M413.2 272.9h0M428.8 269.2h0"/>
<path stroke="#00ffff" d="M405.3 274.7h0"/>
<path stroke="#00dfff" d="M407.3 274.3h0M409.3 273.8h0M411.2 273.3h0M415.1 272.4h0M426.8 269.7h0"/>
<path stroke="#60ff9f" d="M417.1 272.0h0"/>
<path stroke="#9fff60" d="M419.0 271.5h0M421.0 271.0h0"/>
<path stroke="#bfff40" d="M422.9 270.6h0"/>
<path stroke="#40ffbf" d="M424.9 270.1h0"/>
<path stroke="#0000df" d="M381.3 278.6h0M393.2 275.7h0"/>
<path stroke="#0000bf" d="M383.3 278.1h0M385.3 277.6h0M387.3 277.1h0M389.2 276.6h0"/>
<path stroke="#00009f" d="M391.2 276.2h0"/>
<path stroke="#0020ff" d="M395.2 275.2h0"/>
<path stroke="#009fff" d="M397.2 274.7h0"/>
<path stroke="#00dfff" d="M399.1 274.2h0M401.1 273.7h0M413.0 270.8h0M415.0 270.3h0M416.9 269.8h0M418.9 269.3h0"/>
<path stroke="#00ffff" d="M403.1 273.2h0M407.0 272.3h0M411.0 271.3h0M420.9 268.8h0M424.8 267.9h0M426.8 267.4h0"/>
<path stroke="#20ffdf" d="M405.1 272.7h0M409.0 271.8h0M428.8 266.9h0"/>
<path stroke="#00bfff" d="M422.9 268.4h0"/>
<path stroke="#0000df" d="M380.8 276.9h0M384.8 275.9h0M386.8 275.4h0M388.8 274.9h0"/>
<path stroke="#0000bf" d="M382.8 276.4h0"/>
<path stroke="#00009f" d="M390.8 274.4h0M392.8 273.9h0"/>
<path stroke="#0060ff" d="M394.8 273.3h0"/>
<path stroke="#00dfff" d="M396.8 272.8h0M398.8 272.3h0M406.8 270.2h0M408.8 269.7h0M410.8 269.2h0M412.8 268.7h0M420.8 266.6h0"/>
<path stroke="#00ffff" d="M400.8 271.8h0M402.8 271.3h0M414.8 268.2h0M416.8 267.7h0M418.8 267.2h0M422.8 266.1h0M424.8 265.6h0M426.8 265.1h0M428.8 264.6h0"/>
<path stroke="#20ffdf" d="M404.8 270.8h0"/>
<path stroke="#0000bf" d="M380.2 275.3h0M382.2 274.8h0M390.3 272.6h0"/>
<path stroke="#0000df" d="M384.3 274.2h0M388.3 273.1h0"/>
<path stroke="#0000ff" d="M386.3 273.7h0"/>
<path stroke="#0020ff" d="M392.4 272.0h0"/>
<path stroke="#00bfff" d="M394.4 271.5h0"/>
<path stroke="#00ffff" d="M396.4 271.0h0M398.4 270.4h0M422.7 263.9h0"/>
<path stroke="#40ffbf" d="M400.5 269.9h0M402.5 269.3h0M404.5 268.8h0M406.5 268.2h0M408.6 267.7h0M412.6 266.6h0M416.7 265.5h0M418.7 265.0h0"/>
<path stroke="#20ffdf" d="M410.6 267.2h0M414.6 266.1h0M420.7 264.4h0M424.8 263.4h0M426.8 262.8h0M428.8 262.3h0"/>
<path stroke="#0000ff" d="M383.8 272.5h0"/>
<path stroke="#0000df" d="M385.8 271.9h0M387.9 271.4h0"/>
<path stroke="#0020ff" d="M389.9 270.8h0"/>
<path stroke="#00bfff" d="M392.0 270.2h0M402.2 267.4h0"/>
<path stroke="#00dfff" d="M394.0 269.7h0M396.0 269.1h0M398.1 268.5h0M400.1 267.9h0M412.4 264.5h0M414.5 264.0h0M416.5 263.4h0M418.6 262.8h0M420.6 262.2h0M422.7 261.7h0M424.7 261.1h0"/>
<path stroke="#40ffbf" d="M404.2 266.8h0M428.8 260.0h0"/>
<path stroke="#9fff60" d="M406.3 266.2h0M408.3 265.7h0"/>
<path stroke="#60ff9f" d="M410.4 265.1h0"/>
<path stroke="#20ffdf" d="M426.8 260.5h0"/>
<path stroke="#00ffff" d="M389.5 269.0h0M391.5 268.4h0M393.6 267.8h0M397.7 266.6h0M414.3 261.8h0M416.4 261.2h0M420.5 260.0h0M424.7 258.8h0"/>
<path stroke="#20ffdf" d="M395.7 267.2h0M399.8 266.0h0M412.2 262.4h0M418.4 260.6h0M422.6 259.4h0"/>
<path stroke="#9fff60" d="M401.9 265.4h0"/>
<path stroke="#bfff40" d="M404.0 264.8h0M406.0 264.2h0M408.1 263.6h0M410.2 263.0h0"/>
<path stroke="#00dfff" d="M426.7 258.2h0"/>
<path stroke="#00bfff" d="M428.8 257.6h0"/>
<path stroke="#00ffff" d="M397.4 264.7h0M412.1 260.3h0M418.3 258.5h0M422.5 257.2h0M426.7 256.0h0M428.8 255.3h0"/>
<path stroke="#00dfff" d="M399.5 264.1h0M414.1 259.7h0M416.2 259.1h0M420.4 257.8h0"/>
<path stroke="#80ff80" d="M401.6 263.5h0M405.8 262.2h0"/>
<path stroke="#bfff40" d="M403.7 262.8h0"/>
<path stroke="#9fff60" d="M407.9 261.6h0"/>
<path stroke="#60ff9f" d="M410.0 261.0h0"/>
<path stroke="#20ffdf" d="M424.6 256.6h0"/>
<path stroke="#00bfff" d="M399.2 262.2h0"/>
<path stroke="#00ffff" d="M401.3 261.5h0M420.3 255.6h0M424.6 254.3h0M426.7 253.7h0"/>
<path stroke="#20ffdf" d="M403.4 260.9h0M405.5 260.2h0M411.9 258.2h0M414.0 257.6h0M416.1 256.9h0M418.2 256.3h0M428.8 253.0h0"/>
<path stroke="#00dfff" d="M407.6 259.6h0M409.8 258.9h0M422.5 255.0h0"/>
<path stroke="#20ffdf" d="M398.8 260.2h0M403.1 258.9h0M413.8 255.5h0M416.0 254.8h0"/>
<path stroke="#00ffff" d="M401.0 259.6h0M405.3 258.2h0M411.7 256.2h0"/>
<path stroke="#40ffbf" d="M407.4 257.5h0M409.5 256.8h0M418.1 254.1h0M420.2 253.4h0M422.4 252.8h0"/>
<path stroke="#60ff9f" d="M424.5 252.1h0"/>
<path stroke="#9fff60" d="M426.7 251.4h0"/>
<path stroke="#80ff80" d="M428.8 250.7h0"/>
<path stroke="#20ffdf" d="M398.5 258.3h0M413.7 253.4h0M426.6 249.1h0M428.8 248.4h0"/>
<path stroke="#00ffff" d="M400.7 257.6h0M422.3 250.5h0"/>
<path stroke="#00dfff" d="M402.9 256.9h0M420.1 251.2h0"/>
<path stroke="#40ffbf" d="M405.0 256.2h0M424.5 249.8h0"/>
<path stroke="#80ff80" d="M407.2 255.5h0"/>
<path stroke="#60ff9f" d="M409.3 254.8h0M411.5 254.1h0"/>
<path stroke="#0000df" d="M415.8 252.7h0M418.0 251.9h0"/>
<path stroke="#ff6100" stroke-width="7" d="M390.2 269.0h0"/>
</g>
<rect x="441.5" y="95.5" width="23" height="215" fill="url(#jet)" stroke="#262626" stroke-width="1"/>
<path d="M461.7 203H464.5" stroke="#262626" stroke-width="1"/>
<g font-family="'DejaVu Sans','Liberation Sans',sans-serif" font-weight="bold" font-size="21px" fill="#262626">
<text x="473.0" y="103.0">100</text>
<text x="473.0" y="210.4">50</text>
<text x="473.0" y="317.8">0</text>
</g>
<g font-family="'DejaVu Sans','Liberation Sans',sans-serif" font-weight="bold" font-size="12.5px" fill="#262626">
<text x="146.6" y="112.7">48</text><text x="165.6" y="105.4" font-size="9.5px" font-weight="bold">°</text><text x="175.1" y="112.7">N</text>
<text x="146.6" y="130.8">46</text><text x="165.6" y="124.4" font-size="9.5px" font-weight="bold">°</text><text x="175.1" y="130.8">N</text>
<text x="146.6" y="147.8">44</text><text x="165.6" y="141.5" font-size="9.5px" font-weight="bold">°</text><text x="175.1" y="147.8">N</text>
<text x="146.6" y="166.4">42</text><text x="165.6" y="159.3" font-size="9.5px" font-weight="bold">°</text><text x="175.1" y="166.4">N</text>
<text x="146.6" y="182.4">40</text><text x="165.6" y="176.4" font-size="9.5px" font-weight="bold">°</text><text x="175.1" y="182.4">N</text>
<text x="146.6" y="197.7">38</text><text x="165.6" y="191.3" font-size="9.5px" font-weight="bold">°</text><text x="175.1" y="197.7">N</text>
<text x="146.6" y="214.6">36</text><text x="165.6" y="208.1" font-size="9.5px" font-weight="bold">°</text><text x="175.1" y="214.6">N</text>
<text x="146.6" y="229.1">34</text><text x="165.6" y="222.6" font-size="9.5px" font-weight="bold">°</text><text x="175.1" y="229.1">N</text>
<text x="146.6" y="245.8">32</text><text x="165.6" y="239.3" font-size="9.5px" font-weight="bold">°</text><text x="175.1" y="245.8">N</text>
<text x="146.6" y="259.7">30</text><text x="165.6" y="253.2" font-size="9.5px" font-weight="bold">°</text><text x="175.1" y="259.7">N</text>
<text x="146.6" y="272.8">28</text><text x="165.6" y="266.3" font-size="9.5px" font-weight="bold">°</text><text x="175.1" y="272.8">N</text>
<text x="146.6" y="287.7">26</text><text x="165.6" y="281.2" font-size="9.5px" font-weight="bold">°</text><text x="175.1" y="287.7">N</text>
<text x="146.6" y="301.6">24</text><text x="165.6" y="295.1" font-size="9.5px" font-weight="bold">°</text><text x="175.1" y="301.6">N</text>
<text x="146.6" y="314.2">22</text><text x="165.6" y="307.7" font-size="9.5px" font-weight="bold">°</text><text x="175.1" y="314.2">N</text>
<text x="215.1" y="76.7">100</text><text x="242.7" y="70.4" font-size="9.5px" font-weight="bold">°</text><text x="252.6" y="76.9">W</text>
<text x="283.7" y="76.7">90</text><text x="302.9" y="70.4" font-size="9.5px" font-weight="bold">°</text><text x="313.0" y="76.9">W</text>
<text x="347.8" y="76.7">80</text><text x="367.4" y="70.4" font-size="9.5px" font-weight="bold">°</text><text x="377.6" y="76.9">W</text>
<text x="411.1" y="76.7">70</text><text x="429.5" y="70.4" font-size="9.5px" font-weight="bold">°</text><text x="439.7" y="76.9">W</text>
</g>
<text x="140.2" y="340.9" font-family="'DejaVu Sans','Liberation Sans',sans-serif" font-weight="bold" font-size="23px" fill="#262626">SAT 350 hPa RH (Percent)</text>
</g>
<g transform="translate(842.5,390.0)">
<rect x="195.0" y="95.5" width="235.0" height="215.0" fill="#fff" stroke="#262626" stroke-width="1"/>
<use href="#usmapB"/>
<g fill="none" stroke-linecap="round" stroke-width="6.4">
<path stroke="#0000df" d="M392.6 309.3h0M398.9 309.3h0M400.5 309.3h0M403.6 309.3h0M405.2 309.4h0M409.9 309.4h0M411.5 309.4h0M413.0 309.4h0M430.3 309.5h0"/>
<path stroke="#0000bf" d="M394.2 309.3h0M395.8 309.3h0M397.3 309.3h0M402.1 309.3h0M406.8 309.4h0M408.3 309.4h0M414.6 309.4h0M416.2 309.4h0M417.7 309.4h0M419.3 309.4h0M422.5 309.4h0M424.0 309.5h0M425.6 309.5h0M427.2 309.5h0M428.7 309.5h0"/>
<path stroke="#00009f" d="M420.9 309.4h0"/>
<path stroke="#0000bf" d="M392.1 307.6h0M393.7 307.6h0M409.6 307.4h0M412.8 307.4h0M414.4 307.4h0M416.0 307.3h0M417.6 307.3h0M420.7 307.3h0"/>
<path stroke="#0000df" d="M395.3 307.6h0M396.9 307.6h0M398.4 307.5h0M400.0 307.5h0M401.6 307.5h0M403.2 307.5h0M404.8 307.5h0M406.4 307.4h0M408.0 307.4h0M411.2 307.4h0M422.3 307.3h0M423.9 307.2h0M425.5 307.2h0M427.1 307.2h0M428.7 307.2h0"/>
<path stroke="#00009f" d="M419.2 307.3h0"/>
<path stroke="#0000ff" d="M430.3 307.2h0"/>
<path stroke="#0000bf" d="M391.5 306.0h0M393.1 305.9h0M394.8 305.9h0M396.4 305.8h0M398.0 305.8h0M412.5 305.3h0M417.4 305.2h0M419.0 305.2h0M420.6 305.1h0M422.2 305.1h0M423.8 305.0h0M425.5 305.0h0M430.3 304.8h0"/>
<path stroke="#0000df" d="M399.6 305.7h0M401.2 305.7h0M402.8 305.6h0M406.1 305.5h0M407.7 305.5h0M409.3 305.4h0M410.9 305.4h0M414.1 305.3h0M415.8 305.2h0M427.1 304.9h0M428.7 304.9h0"/>
<path stroke="#0000ff" d="M404.4 305.6h0"/>
<path stroke="#0000df" d="M391.0 304.3h0M392.6 304.2h0M394.2 304.1h0M395.9 304.1h0M397.5 304.0h0M399.2 303.9h0M400.8 303.8h0M402.4 303.8h0M405.7 303.6h0M407.4 303.5h0M410.6 303.4h0M412.3 303.3h0M413.9 303.2h0M423.7 302.8h0M427.0 302.6h0M428.7 302.6h0M430.3 302.5h0"/>
<path stroke="#0000bf" d="M404.1 303.7h0M415.5 303.2h0M417.2 303.1h0M418.8 303.0h0M420.5 302.9h0M422.1 302.9h0M425.4 302.7h0"/>
<path stroke="#0000ff" d="M409.0 303.5h0"/>
<path stroke="#0000ff" d="M390.4 302.6h0M392.1 302.5h0M393.7 302.4h0M395.4 302.3h0M397.1 302.2h0M398.7 302.1h0"/>
<path stroke="#0000df" d="M400.4 302.0h0M402.0 301.9h0M403.7 301.8h0M405.4 301.7h0M407.0 301.6h0M408.7 301.5h0M410.4 301.4h0M412.0 301.3h0M413.7 301.2h0M425.3 300.5h0M427.0 300.4h0M428.6 300.3h0M430.3 300.2h0"/>
<path stroke="#0000bf" d="M415.3 301.1h0M417.0 301.0h0M420.3 300.8h0M422.0 300.7h0M423.6 300.6h0"/>
<path stroke="#00009f" d="M418.7 300.9h0"/>
<path stroke="#0000ff" d="M389.9 301.0h0M391.5 300.8h0M393.2 300.7h0M396.6 300.4h0M398.3 300.3h0M400.0 300.2h0M410.1 299.4h0M411.8 299.3h0M415.1 299.0h0M416.8 298.9h0M418.5 298.7h0M420.2 298.6h0M423.6 298.3h0M426.9 298.1h0M430.3 297.8h0"/>
<path stroke="#0000df" d="M394.9 300.6h0M401.7 300.0h0M403.3 299.9h0M405.0 299.8h0M406.7 299.7h0M408.4 299.5h0M413.4 299.1h0M421.9 298.5h0M425.2 298.2h0M428.6 298.0h0"/>
<path stroke="#0000df" d="M389.3 299.3h0M392.7 299.0h0M394.4 298.8h0M396.1 298.7h0M397.8 298.5h0M399.5 298.3h0M401.3 298.2h0M403.0 298.0h0M404.7 297.9h0M409.8 297.4h0M411.5 297.2h0M413.2 297.1h0M414.9 296.9h0M418.3 296.6h0M420.0 296.4h0M421.8 296.3h0M423.5 296.1h0M426.9 295.8h0M428.6 295.6h0"/>
<path stroke="#0000bf" d="M391.0 299.1h0M406.4 297.7h0M408.1 297.6h0M416.6 296.8h0"/>
<path stroke="#0000ff" d="M425.2 296.0h0M430.3 295.5h0"/>
<path stroke="#0000df" d="M388.7 297.6h0M390.5 297.4h0M392.2 297.3h0M393.9 297.1h0M395.7 296.9h0M397.4 296.7h0M399.1 296.5h0M400.9 296.3h0M402.6 296.1h0M404.3 296.0h0M406.1 295.8h0M407.8 295.6h0M409.5 295.4h0M411.3 295.2h0M413.0 295.0h0M414.7 294.8h0M416.4 294.6h0M418.2 294.5h0M425.1 293.7h0M430.3 293.2h0"/>
<path stroke="#0000bf" d="M419.9 294.3h0M421.6 294.1h0M423.4 293.9h0M426.8 293.5h0M428.6 293.3h0"/>
<path stroke="#0000df" d="M388.2 296.0h0M395.2 295.1h0M398.7 294.7h0M400.5 294.5h0M404.0 294.0h0M405.7 293.8h0M407.5 293.6h0M409.2 293.4h0M411.0 293.2h0M412.8 293.0h0M414.5 292.8h0M416.3 292.5h0M418.0 292.3h0M419.8 292.1h0M421.5 291.9h0M423.3 291.7h0"/>
<path stroke="#0000bf" d="M389.9 295.8h0M391.7 295.5h0M393.5 295.3h0M397.0 294.9h0M402.2 294.3h0M425.0 291.5h0M426.8 291.3h0M428.5 291.0h0M430.3 290.8h0"/>
<path stroke="#0000df" d="M387.6 294.3h0M400.1 292.6h0M401.9 292.4h0M403.6 292.1h0M405.4 291.9h0M409.0 291.4h0M428.5 288.7h0M430.3 288.5h0"/>
<path stroke="#0000bf" d="M389.4 294.1h0M391.2 293.8h0M393.0 293.6h0M394.7 293.3h0M396.5 293.1h0M398.3 292.8h0M407.2 291.6h0M410.7 291.2h0M412.5 290.9h0M414.3 290.7h0M416.1 290.4h0M417.9 290.2h0M419.6 289.9h0M421.4 289.7h0M423.2 289.5h0M425.0 289.2h0M426.7 289.0h0"/>
<path stroke="#0000df" d="M387.1 292.6h0M412.3 288.9h0M414.1 288.6h0M417.7 288.0h0M419.5 287.8h0M421.3 287.5h0M423.1 287.2h0M424.9 287.0h0M426.7 286.7h0M428.5 286.4h0M430.3 286.2h0"/>
<path stroke="#0000bf" d="M388.9 292.4h0M390.7 292.1h0M392.5 291.8h0M394.3 291.6h0M396.1 291.3h0M397.9 291.0h0M399.7 290.7h0M401.5 290.5h0M403.3 290.2h0M405.1 289.9h0M406.9 289.7h0M408.7 289.4h0M410.5 289.1h0M415.9 288.3h0"/>
<path stroke="#0000bf" d="M386.5 291.0h0"/>
<path stroke="#0000df" d="M388.3 290.7h0M390.2 290.4h0M392.0 290.1h0M393.8 289.8h0M395.6 289.5h0M397.5 289.2h0M399.3 288.9h0M401.1 288.6h0M402.9 288.3h0M404.8 288.0h0M406.6 287.7h0M408.4 287.4h0M410.2 287.1h0M412.1 286.8h0M413.9 286.5h0M415.7 286.2h0M417.5 285.9h0M419.4 285.6h0M421.2 285.3h0M423.0 285.0h0M424.8 284.7h0M426.6 284.4h0M428.5 284.1h0M430.3 283.8h0"/>
<path stroke="#0000bf" d="M386.0 289.3h0M402.6 286.4h0M411.8 284.7h0M413.7 284.4h0M415.5 284.1h0M417.4 283.8h0"/>
<path stroke="#0000df" d="M387.8 289.0h0M389.7 288.7h0M391.5 288.3h0M393.4 288.0h0M395.2 287.7h0M397.0 287.4h0M398.9 287.0h0M400.7 286.7h0M404.4 286.0h0M406.3 285.7h0M408.1 285.4h0M410.0 285.1h0M419.2 283.4h0M421.1 283.1h0"/>
<path stroke="#0000ff" d="M422.9 282.8h0M424.8 282.5h0M426.6 282.1h0M428.4 281.8h0M430.3 281.5h0"/>
<path stroke="#0000df" d="M385.4 287.6h0M389.1 286.9h0M391.0 286.6h0M392.9 286.2h0M404.1 284.1h0M406.0 283.8h0M407.9 283.4h0M409.7 283.0h0M415.3 282.0h0M417.2 281.6h0"/>
<path stroke="#0000bf" d="M387.3 287.3h0M394.8 285.9h0M396.6 285.5h0M398.5 285.2h0M400.4 284.8h0M402.2 284.5h0M411.6 282.7h0M413.5 282.3h0"/>
<path stroke="#0000ff" d="M419.1 281.3h0M428.4 279.5h0"/>
<path stroke="#0020ff" d="M420.9 280.9h0M422.8 280.6h0M424.7 280.2h0M426.6 279.9h0M430.3 279.2h0"/>
<path stroke="#0000bf" d="M384.8 286.0h0M386.7 285.6h0M388.6 285.2h0M390.5 284.8h0M392.4 284.4h0M394.3 284.1h0"/>
<path stroke="#0000df" d="M396.2 283.7h0M398.1 283.3h0M400.0 282.9h0M401.9 282.5h0M405.7 281.8h0M407.6 281.4h0M411.4 280.6h0"/>
<path stroke="#0000ff" d="M403.8 282.2h0M409.5 281.0h0M413.3 280.3h0M415.1 279.9h0"/>
<path stroke="#0020ff" d="M417.0 279.5h0M420.8 278.7h0M422.7 278.3h0M424.6 278.0h0M426.5 277.6h0M428.4 277.2h0M430.3 276.8h0"/>
<path stroke="#0040ff" d="M418.9 279.1h0"/>
<path stroke="#0000df" d="M384.3 284.3h0M386.2 283.9h0M388.1 283.5h0M390.0 283.1h0M392.0 282.7h0M393.9 282.3h0M395.8 281.9h0M397.7 281.4h0M399.6 281.0h0M413.0 278.2h0M415.0 277.8h0M424.5 275.7h0"/>
<path stroke="#0000bf" d="M401.5 280.6h0M403.5 280.2h0M405.4 279.8h0M407.3 279.4h0M409.2 279.0h0M411.1 278.6h0"/>
<path stroke="#0000ff" d="M416.9 277.4h0M418.8 276.9h0M420.7 276.5h0M422.6 276.1h0M426.5 275.3h0"/>
<path stroke="#0020ff" d="M428.4 274.9h0M430.3 274.5h0"/>
<path stroke="#0000bf" d="M383.7 282.6h0M385.7 282.2h0M387.6 281.8h0M389.6 281.3h0M399.3 279.1h0M401.2 278.7h0"/>
<path stroke="#0000df" d="M391.5 280.9h0M393.4 280.5h0M395.4 280.0h0M397.3 279.6h0M403.1 278.3h0M405.1 277.8h0M407.0 277.4h0M409.0 277.0h0M410.9 276.5h0"/>
<path stroke="#0000ff" d="M412.8 276.1h0"/>
<path stroke="#0020ff" d="M414.8 275.7h0M416.7 275.2h0M418.7 274.8h0M420.6 274.3h0M422.5 273.9h0M424.5 273.5h0M430.3 272.2h0"/>
<path stroke="#0040ff" d="M426.4 273.0h0M428.4 272.6h0"/>
<path stroke="#0000bf" d="M383.2 281.0h0M393.0 278.7h0M395.0 278.2h0M396.9 277.7h0M398.9 277.3h0M408.7 274.9h0"/>
<path stroke="#0000df" d="M385.1 280.5h0M387.1 280.0h0M389.1 279.6h0M391.0 279.1h0M400.8 276.8h0M402.8 276.3h0M404.8 275.9h0M406.7 275.4h0M410.7 274.5h0"/>
<path stroke="#0000ff" d="M412.6 274.0h0M414.6 273.5h0"/>
<path stroke="#0020ff" d="M416.6 273.1h0M420.5 272.1h0M422.4 271.7h0M424.4 271.2h0M426.4 270.8h0M428.3 270.3h0M430.3 269.8h0"/>
<path stroke="#0040ff" d="M418.5 272.6h0"/>
<path stroke="#0000df" d="M382.6 279.3h0M384.6 278.8h0M388.6 277.8h0M412.4 271.9h0M430.3 267.5h0"/>
<path stroke="#0000bf" d="M386.6 278.3h0M390.6 277.3h0M392.6 276.8h0M394.5 276.4h0M396.5 275.9h0M398.5 275.4h0M400.5 274.9h0M402.5 274.4h0M404.5 273.9h0M406.5 273.4h0M408.4 272.9h0M410.4 272.4h0"/>
<path stroke="#0000ff" d="M414.4 271.4h0M418.4 270.4h0M420.4 270.0h0M424.3 269.0h0M426.3 268.5h0M428.3 268.0h0"/>
<path stroke="#0020ff" d="M416.4 270.9h0M422.4 269.5h0"/>
<path stroke="#0000df" d="M382.1 277.6h0M398.1 273.5h0M402.2 272.4h0M404.2 271.9h0M406.2 271.4h0M414.2 269.3h0M416.2 268.8h0M424.3 266.7h0M426.3 266.2h0M428.3 265.7h0"/>
<path stroke="#0000bf" d="M384.1 277.1h0M386.1 276.6h0M388.1 276.1h0M390.1 275.6h0M392.1 275.0h0M394.1 274.5h0M396.1 274.0h0M400.2 273.0h0M408.2 270.9h0M410.2 270.4h0M412.2 269.8h0M430.3 265.2h0"/>
<path stroke="#0000ff" d="M418.2 268.3h0M420.2 267.8h0M422.3 267.2h0"/>
<path stroke="#0000bf" d="M381.5 276.0h0M383.5 275.4h0M385.6 274.9h0M387.6 274.3h0M399.8 271.0h0M401.8 270.5h0M405.9 269.4h0M418.1 266.1h0M420.1 265.6h0M422.2 265.0h0M424.2 264.5h0"/>
<path stroke="#0000df" d="M389.6 273.8h0M391.7 273.2h0M393.7 272.7h0M395.7 272.1h0M397.8 271.6h0M403.9 270.0h0M407.9 268.9h0M426.2 263.9h0M428.3 263.4h0M430.3 262.8h0"/>
<path stroke="#0040ff" d="M410.0 268.3h0M414.0 267.2h0"/>
<path stroke="#0080ff" d="M412.0 267.8h0"/>
<path stroke="#0000ff" d="M416.1 266.7h0"/>
<path stroke="#0000df" d="M385.1 273.2h0M387.1 272.6h0M389.2 272.0h0M393.3 270.9h0M401.5 268.6h0M403.6 268.0h0M418.0 263.9h0M420.0 263.4h0M422.1 262.8h0M428.2 261.1h0M430.3 260.5h0"/>
<path stroke="#0000ff" d="M391.2 271.4h0M395.3 270.3h0M397.4 269.7h0M399.5 269.1h0"/>
<path stroke="#0040ff" d="M405.6 267.4h0M415.9 264.5h0"/>
<path stroke="#0080ff" d="M407.7 266.8h0"/>
<path stroke="#009fff" d="M409.7 266.3h0M411.8 265.7h0M413.9 265.1h0"/>
<path stroke="#0000bf" d="M424.1 262.2h0M426.2 261.6h0"/>
<path stroke="#0000df" d="M390.8 269.6h0M392.9 269.0h0M395.0 268.4h0M399.1 267.2h0M401.2 266.6h0M403.3 266.0h0M415.7 262.4h0M417.8 261.8h0M419.9 261.2h0M422.0 260.6h0M424.1 260.0h0M426.1 259.4h0M428.2 258.8h0M430.3 258.2h0"/>
<path stroke="#0000ff" d="M397.0 267.8h0"/>
<path stroke="#0080ff" d="M405.3 265.4h0M407.4 264.8h0"/>
<path stroke="#009fff" d="M409.5 264.2h0M411.6 263.6h0"/>
<path stroke="#0060ff" d="M413.7 263.0h0"/>
<path stroke="#0000df" d="M398.8 265.3h0M400.9 264.7h0M403.0 264.0h0M413.5 260.9h0M415.6 260.2h0M424.0 257.7h0M426.1 257.1h0M428.2 256.5h0"/>
<path stroke="#0020ff" d="M405.1 263.4h0M411.4 261.5h0"/>
<path stroke="#0080ff" d="M407.2 262.8h0"/>
<path stroke="#0060ff" d="M409.3 262.1h0"/>
<path stroke="#0000bf" d="M417.7 259.6h0M419.8 259.0h0M421.9 258.4h0M430.3 255.8h0"/>
<path stroke="#0000df" d="M400.5 262.7h0M402.7 262.1h0M409.0 260.1h0M411.2 259.4h0M413.3 258.8h0M415.4 258.1h0M417.5 257.4h0M419.7 256.8h0"/>
<path stroke="#0000bf" d="M404.8 261.4h0M406.9 260.7h0M421.8 256.1h0M423.9 255.5h0M426.0 254.8h0M428.2 254.2h0M430.3 253.5h0"/>
<path stroke="#0000bf" d="M400.2 260.8h0M402.4 260.1h0M404.5 259.4h0M408.8 258.0h0M411.0 257.3h0M413.1 256.7h0M419.6 254.6h0M421.7 253.9h0M423.9 253.2h0M426.0 252.5h0"/>
<path stroke="#0000df" d="M406.7 258.7h0M415.3 256.0h0M417.4 255.3h0M428.1 251.8h0M430.3 251.2h0"/>
<path stroke="#0000bf" d="M399.9 258.8h0M402.1 258.1h0M404.2 257.4h0M406.4 256.7h0M408.6 256.0h0"/>
<path stroke="#0000df" d="M410.8 255.3h0M412.9 254.5h0M415.1 253.8h0M417.3 253.1h0M419.4 252.4h0M421.6 251.7h0M423.8 251.0h0M426.0 250.3h0M428.1 249.5h0M430.3 248.8h0"/>
<path stroke="#80ff80" stroke-width="6.4" d="M392.0 269.6h0"/>
</g>
<rect x="443.0" y="95.5" width="23" height="215" fill="url(#jet)" stroke="#262626" stroke-width="1"/>
<path d="M463.2 203H466.0" stroke="#262626" stroke-width="1"/>
<g font-family="'DejaVu Sans','Liberation Sans',sans-serif" font-weight="bold" font-size="21px" fill="#262626">
<text x="474.5" y="103.0">100</text>
<text x="474.5" y="210.4">50</text>
<text x="474.5" y="317.8">0</text>
</g>
<g font-family="'DejaVu Sans','Liberation Sans',sans-serif" font-weight="bold" font-size="12.5px" fill="#262626">
<text x="146.1" y="112.6">48</text><text x="164.1" y="105.4" font-size="9.5px" font-weight="bold">°</text><text x="174.6" y="112.6">N</text>
<text x="146.1" y="130.8">46</text><text x="164.1" y="124.4" font-size="9.5px" font-weight="bold">°</text><text x="174.6" y="130.8">N</text>
<text x="146.1" y="147.8">44</text><text x="164.1" y="141.5" font-size="9.5px" font-weight="bold">°</text><text x="174.6" y="147.8">N</text>
<text x="146.1" y="166.4">42</text><text x="164.1" y="159.3" font-size="9.5px" font-weight="bold">°</text><text x="174.6" y="166.4">N</text>
<text x="146.1" y="182.4">40</text><text x="164.1" y="176.4" font-size="9.5px" font-weight="bold">°</text><text x="174.6" y="182.4">N</text>
<text x="146.1" y="197.7">38</text><text x="164.1" y="191.3" font-size="9.5px" font-weight="bold">°</text><text x="174.6" y="197.7">N</text>
<text x="146.1" y="213.8">36</text><text x="164.1" y="207.3" font-size="9.5px" font-weight="bold">°</text><text x="174.6" y="213.8">N</text>
<text x="146.1" y="228.8">34</text><text x="164.1" y="222.3" font-size="9.5px" font-weight="bold">°</text><text x="174.6" y="228.8">N</text>
<text x="146.1" y="244.7">32</text><text x="164.1" y="238.2" font-size="9.5px" font-weight="bold">°</text><text x="174.6" y="244.7">N</text>
<text x="146.1" y="259.7">30</text><text x="164.1" y="253.2" font-size="9.5px" font-weight="bold">°</text><text x="174.6" y="259.7">N</text>
<text x="146.1" y="274.9">28</text><text x="164.1" y="268.4" font-size="9.5px" font-weight="bold">°</text><text x="174.6" y="274.9">N</text>
<text x="146.1" y="288.8">26</text><text x="164.1" y="282.3" font-size="9.5px" font-weight="bold">°</text><text x="174.6" y="288.8">N</text>
<text x="146.1" y="301.8">24</text><text x="164.1" y="295.3" font-size="9.5px" font-weight="bold">°</text><text x="174.6" y="301.8">N</text>
<text x="146.1" y="314.9">22</text><text x="164.1" y="308.4" font-size="9.5px" font-weight="bold">°</text><text x="174.6" y="314.9">N</text>
<text x="216.6" y="74.4">100</text><text x="244.2" y="68.1" font-size="9.5px" font-weight="bold">°</text><text x="254.1" y="74.6">W</text>
<text x="285.2" y="74.4">90</text><text x="304.4" y="68.1" font-size="9.5px" font-weight="bold">°</text><text x="314.5" y="74.6">W</text>
<text x="349.3" y="74.4">80</text><text x="368.9" y="68.1" font-size="9.5px" font-weight="bold">°</text><text x="379.1" y="74.6">W</text>
<text x="412.6" y="74.4">70</text><text x="431.0" y="68.1" font-size="9.5px" font-weight="bold">°</text><text x="441.2" y="74.6">W</text>
</g>
<text x="139.7" y="341.9" font-family="'DejaVu Sans','Liberation Sans',sans-serif" font-weight="bold" font-size="23px" fill="#262626">SAT 400 hPa RH (Percent)</text>
</g>
</svg></body></html>
